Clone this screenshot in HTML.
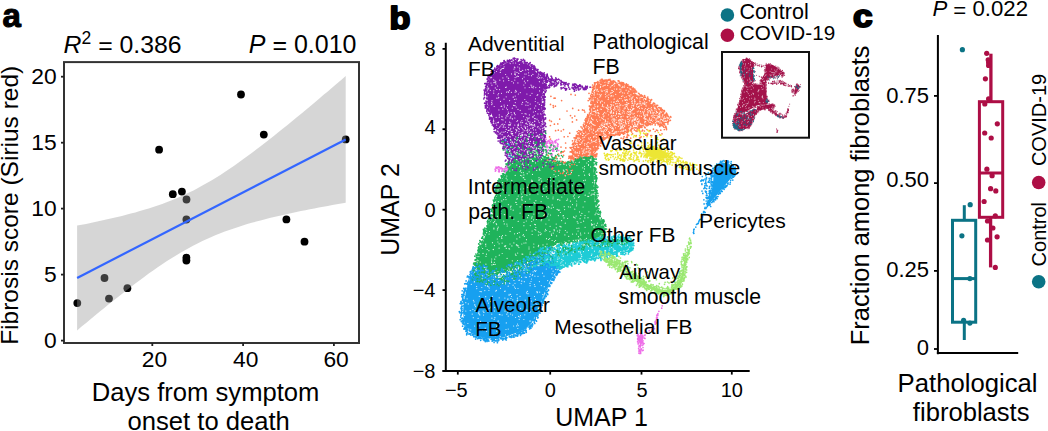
<!DOCTYPE html>
<html><head><meta charset="utf-8"><style>
html,body{margin:0;padding:0;background:#fff;}
body{width:1048px;height:431px;overflow:hidden;position:relative;}
svg{position:absolute;left:0;top:0;font-family:"Liberation Sans", sans-serif;}
</style></head><body>
<svg width="1048" height="431" viewBox="0 0 1048 431">
<text x="2.6" y="27.4" font-size="33" text-anchor="start" font-weight="bold" font-style="normal" fill="#000" stroke="#000" stroke-width="1.1" stroke-linejoin="round">a</text>
<text x="63.6" y="52.6" font-size="24.8"><tspan font-style="italic">R</tspan><tspan font-size="17.5" dy="-8.4">2</tspan><tspan dy="9.9"> =</tspan><tspan dy="-1.5"> 0.386</tspan></text>
<text x="356.5" y="52.6" font-size="25" text-anchor="end" font-weight="normal" font-style="normal" fill="#000" ><tspan font-style="italic">P</tspan><tspan dy="1.5"> =</tspan><tspan dy="-1.5"> 0.010</tspan></text>
<circle cx="77.3" cy="303.1" r="3.9" fill="#000"/>
<circle cx="104.5" cy="278" r="3.9" fill="#000"/>
<circle cx="109" cy="298.6" r="3.9" fill="#000"/>
<circle cx="127.4" cy="288.2" r="3.9" fill="#000"/>
<circle cx="159.1" cy="149.7" r="3.9" fill="#000"/>
<circle cx="172.8" cy="194.2" r="3.9" fill="#000"/>
<circle cx="181.9" cy="191.6" r="3.9" fill="#000"/>
<circle cx="186.5" cy="199.5" r="3.9" fill="#000"/>
<circle cx="186.4" cy="219.5" r="3.9" fill="#000"/>
<circle cx="186.4" cy="257.6" r="3.9" fill="#000"/>
<circle cx="186.4" cy="260.5" r="3.9" fill="#000"/>
<circle cx="241" cy="94.5" r="3.9" fill="#000"/>
<circle cx="263.8" cy="134.6" r="3.9" fill="#000"/>
<circle cx="286.4" cy="219.4" r="3.9" fill="#000"/>
<circle cx="304.5" cy="241.7" r="3.9" fill="#000"/>
<circle cx="345.7" cy="139.4" r="3.9" fill="#000"/>
<path d="M77.1,225.6 L81.6,224.8 L86.1,223.9 L90.5,223.0 L95.0,222.0 L99.5,221.1 L104.0,220.1 L108.4,219.1 L112.9,218.1 L117.4,217.0 L121.9,215.9 L126.3,214.8 L130.8,213.6 L135.3,212.4 L139.8,211.1 L144.2,209.8 L148.7,208.4 L153.2,207.0 L157.7,205.5 L162.2,203.9 L166.6,202.3 L171.1,200.5 L175.6,198.7 L180.1,196.8 L184.5,194.8 L189.0,192.6 L193.5,190.4 L198.0,188.1 L202.4,185.6 L206.9,183.1 L211.4,180.5 L215.9,177.7 L220.4,174.9 L224.8,172.0 L229.3,169.0 L233.8,165.9 L238.3,162.8 L242.7,159.6 L247.2,156.3 L251.7,153.0 L256.2,149.6 L260.6,146.2 L265.1,142.7 L269.6,139.2 L274.1,135.7 L278.6,132.1 L283.0,128.5 L287.5,124.9 L292.0,121.2 L296.5,117.6 L300.9,113.9 L305.4,110.2 L309.9,106.4 L314.4,102.7 L318.8,98.9 L323.3,95.1 L327.8,91.4 L332.3,87.6 L336.7,83.7 L341.2,79.9 L345.7,76.1 L345.7,202.7 L341.2,203.5 L336.7,204.3 L332.3,205.1 L327.8,205.9 L323.3,206.8 L318.8,207.6 L314.4,208.5 L309.9,209.3 L305.4,210.2 L300.9,211.1 L296.5,212.1 L292.0,213.0 L287.5,214.0 L283.0,215.0 L278.6,216.0 L274.1,217.0 L269.6,218.1 L265.1,219.2 L260.6,220.4 L256.2,221.6 L251.7,222.8 L247.2,224.1 L242.7,225.5 L238.3,226.9 L233.8,228.4 L229.3,229.9 L224.8,231.5 L220.4,233.2 L215.9,235.0 L211.4,236.9 L206.9,238.9 L202.4,241.0 L198.0,243.2 L193.5,245.5 L189.0,247.9 L184.5,250.4 L180.1,253.0 L175.6,255.7 L171.1,258.4 L166.6,261.3 L162.2,264.3 L157.7,267.3 L153.2,270.5 L148.7,273.6 L144.2,276.9 L139.8,280.2 L135.3,283.5 L130.8,286.9 L126.3,290.4 L121.9,293.9 L117.4,297.4 L112.9,301.0 L108.4,304.6 L104.0,308.2 L99.5,311.8 L95.0,315.5 L90.5,319.2 L86.1,322.9 L81.6,326.6 L77.1,330.4 Z" fill="#999999" fill-opacity="0.4"/>
<line x1="77.1" y1="278.0" x2="345.7" y2="139.40239999999997" stroke="#3366FF" stroke-width="2.2" />
<rect x="64" y="62.1" width="295" height="280.9" fill="none" stroke="#333" stroke-width="2"/>
<line x1="61" y1="76.7" x2="64" y2="76.7" stroke="#222" stroke-width="1.8" />
<text x="56.7" y="84.0" font-size="22.8" text-anchor="end" font-weight="normal" font-style="normal" fill="#000" >20</text>
<line x1="61" y1="142.7" x2="64" y2="142.7" stroke="#222" stroke-width="1.8" />
<text x="56.7" y="150.0" font-size="22.8" text-anchor="end" font-weight="normal" font-style="normal" fill="#000" >15</text>
<line x1="61" y1="208.6" x2="64" y2="208.6" stroke="#222" stroke-width="1.8" />
<text x="56.7" y="215.9" font-size="22.8" text-anchor="end" font-weight="normal" font-style="normal" fill="#000" >10</text>
<line x1="61" y1="274.6" x2="64" y2="274.6" stroke="#222" stroke-width="1.8" />
<text x="56.7" y="281.90000000000003" font-size="22.8" text-anchor="end" font-weight="normal" font-style="normal" fill="#000" >5</text>
<line x1="61" y1="340.6" x2="64" y2="340.6" stroke="#222" stroke-width="1.8" />
<text x="56.7" y="347.90000000000003" font-size="22.8" text-anchor="end" font-weight="normal" font-style="normal" fill="#000" >0</text>
<line x1="152.3" y1="343" x2="152.3" y2="346" stroke="#222" stroke-width="1.8" />
<text x="154.4" y="367.2" font-size="22.8" text-anchor="middle" font-weight="normal" font-style="normal" fill="#000" >20</text>
<line x1="243.1" y1="343" x2="243.1" y2="346" stroke="#222" stroke-width="1.8" />
<text x="245.79999999999998" y="367.2" font-size="22.8" text-anchor="middle" font-weight="normal" font-style="normal" fill="#000" >40</text>
<line x1="333.9" y1="343" x2="333.9" y2="346" stroke="#222" stroke-width="1.8" />
<text x="336.09999999999997" y="367.2" font-size="22.8" text-anchor="middle" font-weight="normal" font-style="normal" fill="#000" >60</text>
<text x="205.6" y="400.5" font-size="25.6" text-anchor="middle" font-weight="normal" font-style="normal" fill="#000" >Days from symptom</text>
<text x="208.7" y="430" font-size="25.6" text-anchor="middle" font-weight="normal" font-style="normal" fill="#000" >onset to death</text>
<text x="18" y="205.3" font-size="24.5" text-anchor="middle" font-weight="normal" font-style="normal" fill="#000" transform="rotate(-90 18 205.3)" dx="0">Fibrosis score (Sirius red)</text>
<text x="389.5" y="28.8" font-size="32" text-anchor="start" font-weight="bold" font-style="normal" fill="#000" stroke="#000" stroke-width="2" stroke-linejoin="round" transform="translate(389.5 0) scale(1.07 1) translate(-389.5 0)">b</text>
<path d="M561.6 100.6h0M575.3 95.1h0M570.5 115.6h0M550.4 125.5h0M549.6 120.4h0M550.9 96.3h0M565.8 147.9h0M553.2 105.6h0M572.2 117.8h0M589 93.3h0M584.1 110.3h0M554.1 98.2h0M561 147.1h0M555.6 130.7h0M574.8 116.1h0M571 94.4h0M550.5 104.4h0M576.6 119.9h0M561.2 131h0M567 111h0M558.3 130.2h0M578.6 110.2h0M589.2 98.3h0M565.6 143h0M554.4 124.2h0M549.6 136.8h0M584.8 112h0M577.2 131.6h0M572.4 121.9h0M567.9 136.5h0M550.5 139.1h0M582.5 109.9h0M564.2 136.8h0M555.1 98.2h0M550.5 143.8h0M553.4 107.3h0M564.4 151h0M551.4 121.4h0M559.7 119.1h0M563.1 151.9h0M588.2 100.6h0M555.4 106.2h0M557.8 123.9h0M572.7 108.4h0M563.5 129.6h0M569.7 133.2h0" stroke="#FF7B52" stroke-width="1.7" stroke-linecap="round" fill="none"/>
<path d="M639.1 128.8h0M649.8 124.5h0M642.6 130.2h0M660.3 124.7h0M621.1 138.2h0M662 133.8h0M628.1 135.1h0M645.9 135.2h0M659.8 134.6h0M631 130.8h0M632.6 133.8h0M666.5 129.6h0M666.4 128.2h0M660.8 130.2h0M651.7 135.6h0M656.5 130.1h0M628.7 135.4h0M636.2 135.6h0M639.5 138.1h0M655.2 124.9h0M627.1 136.1h0M637 131.3h0M641.1 136.8h0M660.2 125.6h0M631.7 132h0M626.4 137.5h0M637.2 129.8h0M640.4 137.6h0M644.4 131h0M655.2 131.5h0M635.8 130.8h0M647 135.3h0M657.5 130.6h0M647.3 134.9h0M664.3 129.5h0M649.8 130.6h0M644.9 133.8h0M642 131.1h0M665.8 126.4h0M627.5 134.2h0M652.1 124.4h0M630.7 138.2h0M639.4 130.3h0M645.1 127.8h0M655.1 122.3h0M646.9 129.5h0M650.3 130.7h0M623.1 138.7h0M640.5 137.5h0M659.8 126.4h0M627.3 137.6h0M647.7 133.9h0M653.4 129.2h0M623.5 138h0M650.8 135.6h0M624.1 136.6h0" stroke="#FF7B52" stroke-width="1.7" stroke-linecap="round" fill="none"/>
<path d="M630.7 143.4h0M646.2 133.4h0M650.1 144.6h0M638.7 129.5h0M649.1 131.5h0M630 130.8h0M640.5 132.8h0M658.4 132.5h0M648 130.4h0M657.3 137.5h0M635.6 136h0M660.8 135.2h0M647.8 142.9h0M643.7 136.6h0M641.7 142.8h0M656.3 139.1h0M644.2 133.6h0M630.8 141.1h0M638.2 130.1h0M631.4 143h0M662.8 139.7h0M639.3 131.6h0M639.7 135.7h0M634.3 135.5h0M638.5 145.3h0M637.8 145.3h0M640.4 133.8h0M647 136.6h0M636 136.6h0M628.2 132h0M631.6 134.6h0M640.2 131.4h0M651.4 137.1h0M658 139.5h0M656.6 143.7h0M643.6 133.2h0M657 139.2h0M629.8 142.9h0M663.7 138.9h0M657.4 142.4h0M633.6 137h0" stroke="#ECE634" stroke-width="1.7" stroke-linecap="round" fill="none"/>
<path d="M706.5 203.6h0M708.7 197.9h0M701.9 184.5h0M707.1 195.3h0M708 197.4h0M706.4 191.6h0M708.4 172.7h0M709.3 180.2h0M701.1 180.7h0M709.2 178.3h0M706.3 185.4h0M706.1 197.6h0M709.7 194.9h0M708.2 173.1h0M702 180.2h0M709.4 182.3h0M701 180.8h0M708.5 197.9h0M708.6 181.7h0M706.6 188.7h0M706 174.8h0M711.3 178h0M705.8 180.8h0M702.8 193.4h0M702 191.1h0M712 175.3h0M710.4 190.5h0M705.8 182.2h0M701.9 183.9h0M704.1 203.9h0M710.6 174.8h0M711.4 181.7h0M704.8 185.8h0M704.7 187.3h0M703.3 180.7h0M706.5 177.7h0M704.8 208.5h0M709.3 188.2h0M709.5 196h0M711.7 175.1h0M706.1 183.8h0M703.9 199.8h0M708.3 182.1h0M707.1 185.9h0M702.3 176.5h0M706.4 178.9h0M705.8 175.6h0M703.2 180.4h0M709.5 186.6h0M705.3 191.1h0M704.9 183.6h0M701 181.2h0M712.2 175.1h0M706.4 195.4h0M710.9 178.7h0M703.6 180h0M705.2 188h0M705.1 207.4h0M706.7 197.5h0M708.2 200.8h0M705.9 192.2h0M708.2 182.2h0M701.8 180.1h0M708.1 198.2h0M706.7 193.5h0M705 179h0M703.9 188.6h0M703.1 180h0" stroke="#17A0F0" stroke-width="1.7" stroke-linecap="round" fill="none"/>
<path d="M545.6 137.4h0M548.5 149.8h0M547.3 141.9h0M551 154.6h0M544.4 137.6h0M546.1 145h0M551.2 140.8h0M553 151h0M548.6 140.9h0M548.4 140.6h0M544.3 144.9h0M551 155h0M543.2 144.5h0M543.1 138h0M552 156h0M551 144.2h0M546.6 143.3h0M543.5 137.1h0M545.2 143.7h0M546.3 152.6h0M553.3 145.2h0M543.9 143.9h0M547.2 152.4h0M541.5 138.2h0M552.2 154.1h0M546.1 142.2h0" stroke="#EE6FE8" stroke-width="1.7" stroke-linecap="round" fill="none"/>
<path d="M513.8,61.1 505.3,63.5 496.5,70.5 489.5,79.3 487.1,89.7 487.8,104 493.3,118.5 500.6,137 506.2,148 506.3,148.2 509.7,156.9 516.1,161 526.5,161 537.6,158.4 540.6,152 542,141.3 542.5,126.7 541.5,111.9 541.5,111.7 542,96.9 542,96.7 542,96.6 544,87.8 544,80.4 542.9,77.8 536.5,72.5 536.4,72.4 536.2,72.3 532,67 524.2,62.5 513.8,61.1Z" fill="#7F1AAB" />
<path d="M545.4 123.7h0M542.7 125.6h0M543.5 76.7h0M534 65.5h0M500.2 66h0M489.2 110.9h0M485.5 88.7h0M490.7 77.4h0M543.6 97.2h0M499.9 141.1h0M490 110h0M535.5 161.6h0M495.8 70.6h0M543.4 98.9h0M537.6 69.7h0M516.2 61.3h0M515 160.5h0M542.7 74.8h0M487.2 94.9h0M490.4 114.4h0M544.1 136.3h0M497.7 68.3h0M545.9 80.4h0M526.3 162.9h0M505.6 147h0M541.7 111.2h0M507.7 152.6h0M493 73.8h0M495.7 126h0M508.3 60.6h0M492.2 122.3h0M542.2 103.5h0M494.9 127.8h0M514.9 162.5h0M489.5 119.1h0M509.7 159.6h0M496.6 131h0M506.1 63h0M544.3 114h0M543.5 149.4h0M542 141.8h0M498.2 141h0M541.9 142.6h0M495.8 131.9h0M505 150.2h0M516 162.5h0M486.1 89.4h0M543.1 122.8h0M542.3 123.2h0M542.9 105.3h0M483.8 98.8h0M530.6 66h0M544.6 141.9h0M499.5 138.2h0M516.8 59.1h0M544.7 140h0M536.4 161.2h0M512.8 159.5h0M541.9 154.9h0M525.1 163.6h0M530 62.9h0M515.1 58.6h0M542.3 108.5h0M518 59.1h0M546.1 81.1h0M494.8 68h0M492.5 118.9h0M508.7 158.8h0M544.1 125.5h0M545 88h0M490.8 121.3h0M502.2 140.5h0M487 98.9h0M515.4 161.2h0M492.4 119.2h0M545.5 79h0M543 140.7h0M524.5 61.5h0M490.8 73.9h0M489.4 75.4h0M543.7 149.5h0M546.3 88.4h0M537.4 70.7h0M500.6 140.5h0M490 117.8h0M502.3 64h0M542.3 140.8h0M485.5 90.6h0M486 83.4h0M531.8 66.2h0M501.3 66.6h0M544.7 102.8h0M543.6 131.8h0M486.8 95.7h0M544 95h0M492.2 117.9h0M504.7 145.2h0M486.8 87.3h0M542.9 126.7h0M495 126h0M538.1 157.3h0M541.9 74.7h0M545.1 109h0M505.3 152.8h0M490.4 76.4h0M499.5 67.2h0M490.3 112.5h0M545.6 117.9h0M521.4 61.6h0M544.2 130.7h0M486.8 93.4h0M544.1 93.8h0M543.1 120.1h0M488.1 76.3h0M520.8 163.8h0M487.3 109.4h0M530.8 161.2h0M486.7 101.8h0M513.2 58.4h0M543.3 118h0M493.1 72.4h0M533 66.6h0M533.4 162.8h0M532.3 66.6h0M486.8 111.3h0M544.3 96.5h0M544.6 124.8h0M489.3 75.2h0M542.9 94.7h0M500.2 64.4h0M528 163.3h0M495.9 69.5h0M543.5 114.2h0M536.3 70.2h0M507.2 61.7h0M543.3 77.7h0M509.1 61.3h0M539.8 72.7h0M486.2 89.9h0M542.9 117.1h0M486.2 90.9h0M486.7 103.9h0M524.6 62.2h0M543.1 117.7h0M537.6 72.7h0M534.1 159.9h0M537.8 73.4h0M537 70.1h0M522 161.7h0M525.8 62.3h0M499.1 137.3h0M502.4 64.4h0M491.5 119.5h0M504.6 148.1h0M496.2 70.7h0M529.3 63.6h0M498.9 136.4h0M506 148.4h0M489.5 116.8h0M507.5 157.5h0M511.9 160.6h0M542.1 110.8h0M492.3 120.5h0M520.6 62h0M540.2 74.5h0M503.3 62.7h0M544.5 78.3h0M545.8 85.8h0M506.6 156.3h0M525 161.7h0M487.2 101.7h0M541.6 154.2h0M500.9 64.2h0M527 162.5h0M528.6 64.7h0M486.8 105.2h0M493.6 125.4h0M506.1 154.3h0M542.4 143h0M542 98.3h0M530.2 62.7h0M497.2 129.7h0M543.7 126.1h0M541 156.1h0M522.5 162.9h0M542.5 147.6h0M543.8 139.5h0M540.8 156.6h0M527.9 161.7h0M488.8 79.9h0M545.9 126.6h0M502.7 63.8h0M500.8 140.2h0M543.8 94h0M487.6 81h0M539.7 161.1h0M543.2 106.8h0M530.7 65h0M496.3 128.7h0M544.6 137.1h0M541.8 76.6h0M484.4 97.4h0M492.6 71.7h0M545.4 86h0M544.4 101.1h0M545.5 79.3h0M544.4 119.4h0M514.4 58.8h0M528.9 161.6h0M500.1 142.6h0M543.6 117.6h0M498 67h0M529.7 160.7h0M490.7 111.8h0M533.5 68.4h0M487.5 98.8h0M486.2 88.1h0M499.9 137.1h0M541.1 154.8h0M513.8 160.5h0M545.1 92.3h0M537.7 71.4h0M540.3 72h0M544.2 137.5h0M499.2 67.8h0M535.3 160.2h0M545.5 132.3h0M542.3 116.6h0M544.6 104.8h0M488.5 77.8h0M511.6 162.3h0M528.7 161.6h0M543 100.4h0M494.8 69.4h0M484.6 91.9h0M506.6 153.8h0M543.6 126.1h0M506.6 155.8h0M504.6 145.9h0M486.7 85.5h0M521.9 162.7h0M494.7 122.9h0M526.8 161.9h0M542.6 117.6h0M492.2 75.9h0M509.6 160.9h0M541.9 142.7h0M543.6 138.9h0M533.6 68h0M489.3 110.4h0M507.1 156.5h0M509.1 159.8h0M527.3 62.7h0M495 71.7h0M536.1 69.9h0M543.6 108.2h0M493.9 71.7h0M492.1 120h0M544.8 131.1h0M486.1 103.1h0M546.2 90.8h0M528.4 64.2h0M493.2 73.1h0M488.9 108.6h0M543.2 122.3h0M542.3 133.4h0M493.1 124.6h0M489.4 111.3h0M543.9 145.1h0M520.7 162.6h0M535.2 69.1h0M503.9 62.7h0M506 151.6h0M542.3 142h0M526.7 161.6h0M503.9 60.8h0M506.6 154.6h0M507.5 61h0M500.5 141h0M514.2 163.8h0M486.5 98.1h0M535.1 68.2h0M499.9 138.4h0M488.8 106.9h0M501.4 66h0M545.3 96.9h0M504.3 148.4h0M545.6 130.8h0M494.2 126.8h0M522.9 60.5h0M484.6 93.4h0M542 151.1h0M543.4 144.7h0M539.2 72.4h0M542.9 108h0M545.1 77.4h0M499.1 66h0M499.4 66.2h0M509.8 157.7h0M507 152.3h0M496.3 126.5h0M485.7 105.5h0M510.1 60.6h0M529.3 63.7h0M497.4 65.7h0M488.8 78h0M544.6 101.1h0M490.4 112h0M504.4 148.8h0M545.6 81.6h0M543.1 144.9h0M543.5 97.1h0M544.1 141.1h0M491.2 71.6h0M487.9 105.9h0M528.5 161.5h0M543.5 118.3h0M542.6 118.2h0M530.4 161.8h0M497.7 133.2h0M545.2 141.3h0M545 83.7h0M540.4 74.4h0M488.4 83.6h0M484.9 93.8h0M543.4 108.7h0M543 126.2h0M544.6 125.5h0M487.4 113.1h0M507.7 156.4h0M498.1 133.2h0M514.9 60.9h0M544.2 87.6h0M496.8 69.5h0M543.3 153h0M495.5 124.7h0M485.6 86.6h0M534.8 67.3h0M543.8 93.5h0M543.2 104.4h0M509.9 159.4h0M510.2 60.7h0M543 109.4h0M496.6 68.4h0M543 127.1h0M504 63.2h0M541.2 147.5h0M545.1 92.4h0M541.7 112.7h0M500.9 141.6h0M487.4 85h0M505.2 61.9h0M489.5 78.4h0M492.2 122.1h0M491.6 74.7h0M539.3 156.6h0M488.4 78h0M506.7 152.4h0M538.4 73h0M542.3 147.7h0M545.3 135.6h0M545.5 80.9h0M500.8 63h0M485.5 107.4h0M530.8 163.5h0M544.7 85.5h0M544.6 84.5h0M498.4 133.6h0M516.8 163.2h0M543.1 104.5h0M521.3 163.1h0M543.6 129.4h0M485.3 103.6h0M500.1 141.4h0M515.6 60.9h0M535.7 68.7h0M517.6 59h0M541.9 145.1h0M534.6 70h0M520.8 163.8h0M541.7 106.4h0M539.4 154.9h0M507.8 158.3h0M488.6 80.6h0M544.7 99.7h0M497.3 133.8h0M519.4 162h0M520.5 161.2h0M534.7 69.6h0M503.1 147.2h0M499.7 137.5h0M516 161.7h0M486.3 85.4h0M524.5 161.8h0M544.2 83.8h0M544.1 109.7h0M543.4 139.5h0M485.2 105.8h0M542 115.9h0M543.3 150.6h0M488.6 107.1h0M541.8 110.2h0M500.3 140.5h0M484.4 95h0M546.3 86.9h0M546.5 78h0M534.5 159.5h0M486.9 92.4h0M513 160.6h0M495.3 71.3h0M544.7 97.3h0M540 159.2h0M496.6 127h0M488.1 109.6h0M502.8 143.8h0M544.3 99.3h0M497.2 132.9h0M494.2 131.6h0M545 88.9h0M505 145.9h0M488.9 115.3h0M545.5 79.3h0M487.1 79.1h0M516.7 61.4h0M542 105h0M490.3 113.2h0M542.3 122.7h0M487 102.1h0M488.4 107.9h0M515.1 161.4h0M531.8 64.8h0M545.5 119h0M546.2 79.2h0M487 108.7h0M506.4 154.8h0M487.2 83.9h0M507.4 151.9h0M488.2 77.3h0M543.4 127.3h0M514.9 60.5h0M491.1 112.8h0M544.2 94h0M535.7 69.3h0M517.2 60.2h0M533.7 69h0M544.3 105.4h0M546.2 84.3h0M536.4 161h0M541.5 154h0M503.3 146.6h0M518.3 163.3h0M543.1 124.4h0M505.1 148.5h0M538 69.6h0M500.3 142.6h0M495.4 124.9h0M521.8 162.4h0M543.8 128.5h0M544.9 122.7h0M491 117.4h0M534.6 161.6h0M509.8 59.9h0M484.8 83.6h0M544.1 95h0M486.5 86.2h0M491.5 123h0M540.6 152.8h0M492.1 74.9h0M523.3 59.4h0M504.4 144.8h0M507.5 154.3h0M523.8 162.6h0M542.2 76.1h0M507.4 60.3h0M542.1 153.9h0M544.3 75.5h0M540.2 155.4h0M527.3 161.3h0M541.2 151.6h0M513 159.9h0M544.1 134.9h0M486.6 93h0M493.6 125.8h0M491.8 75.8h0M541.1 72.9h0M541.5 148.9h0M543.6 90.4h0M543.7 97.6h0M493.9 126.4h0M525.8 163.3h0M520 61.6h0M542.7 75.8h0M491.8 121.4h0M544.4 77.8h0M486.6 94.7h0M511.9 60.2h0M497.7 137.9h0M492.7 119.7h0M494.1 129.2h0M543.3 131.9h0M542.6 96.6h0M543.7 132h0M511.7 60.1h0M500.9 137.6h0M509.6 159.5h0M540.9 72.6h0M491 120.9h0M543.8 145.5h0M542.9 97.7h0M546.3 79.9h0M498.2 135.4h0M536.7 158.8h0M528.9 64.1h0M516.1 161.6h0M489.6 118.1h0M487.5 81.9h0M492.4 122.9h0M543.1 129.3h0M498.4 136.2h0M539.9 73.6h0M541.7 147.2h0M491.4 118.7h0M543.6 120.9h0M495.5 132.8h0M522.2 162.1h0M542.8 103.8h0M542.2 145.7h0M489.9 76.7h0M498.1 67.7h0M496.8 66.6h0M486.2 101.4h0M485.4 108h0M543.8 134.7h0M526.3 63.1h0M492.3 125h0M535.2 159.6h0M542.2 103.6h0M542.9 143.2h0M543.8 141.3h0M498.8 137.2h0M544.5 137.9h0M521.1 161.6h0M494.2 122.1h0M505.3 155.2h0M488.6 111h0M484.1 90.1h0M544.5 86.8h0M489.6 118h0M545.1 124.1h0M487 97.9h0M508.7 156.6h0M542.8 135h0M542.6 150.2h0M542.6 145.6h0M502 143.6h0M535 161.5h0M492.6 75.4h0M489.5 113.7h0M504.7 145.6h0M486.5 105.7h0M542.6 116.7h0M545.2 136.9h0M490.1 110.5h0M507.6 61.1h0M539.9 155.3h0M520.6 161.9h0M540.9 152.6h0M485.6 89.8h0M545.4 92.5h0M544.2 125.5h0M542.6 137.4h0M501.1 143.5h0M524.7 60.3h0M546.4 77.7h0M499.6 135.2h0M492.1 75.6h0M498.3 66.2h0M541.3 147.2h0M543.5 141.5h0M491.5 76h0M498.8 67.3h0M493.7 70.2h0M542.6 114.6h0M491 121.8h0M539.1 73.7h0M544.8 78.8h0M485.2 93.9h0M541.8 115.8h0M545.2 131.8h0M508.2 62.3h0M493.6 126.2h0M501.9 66h0M544.1 107.3h0M539.3 157.3h0M543.2 115.7h0M544.3 95.1h0M542.8 118.7h0M499.8 67.6h0M524.4 62.1h0M542.6 107.6h0M543.5 141.5h0M545.4 84h0M544.7 88.8h0M487 93.2h0M505.1 62h0M512.6 159.9h0M487.2 79.2h0M495.1 128.2h0M527.6 162h0M516 164.1h0M484.6 103.2h0M544.1 103.4h0M514.3 58.2h0M502.7 62.8h0M545.3 80.7h0M543.8 111.8h0M526.5 162.3h0M504.2 60.7h0M544 76.8h0M502 63.8h0M544.3 109.2h0M546.2 80.9h0M545 114.9h0M545.9 87.5h0M544.1 142.4h0M504.2 144.6h0M542.9 128.1h0M542.8 118.3h0M512 60h0M540.6 156h0M495.6 127.3h0M543.4 128.1h0M503.6 146h0M532.1 64.9h0M534.7 66.7h0M502.8 65h0M542.7 141.3h0M502.4 62.9h0M539.7 155h0M511.8 160.1h0M537.8 159.9h0M486.9 103.1h0M520.9 164.5h0M538.4 73.9h0M499.9 136.6h0M533.7 66.8h0M498.2 138.1h0M543.8 103.1h0M496.9 133.9h0M540.9 157.4h0M538.2 159.9h0M544.4 88.6h0M527.2 161.6h0M486 101h0M542.8 141.3h0M486.9 110h0M494.7 124.8h0M521.4 61.1h0M523.6 162.6h0M542.6 109.6h0M509.3 60.6h0M542.9 143.8h0M515.8 61h0M545.4 84.4h0M541.7 75.6h0M495.6 127.7h0M488.8 113.7h0M547.2 82.1h0M502.8 143.2h0M503.7 62.3h0M534.8 67.9h0M545.2 108.4h0M525.3 62.9h0M486.5 84.2h0M521.1 59.5h0M504.4 144.6h0M535.1 159.6h0M541.8 112.9h0M495.8 126.6h0M488.2 81.6h0M489.8 77.5h0M486.8 101.6h0M502 63.2h0M507.7 154.4h0M514.2 59.7h0M545 91.4h0M542.3 112.7h0M492.4 73.7h0M542.9 134.4h0M501.5 66.3h0M490.2 119h0M509.7 60.2h0M510 61.7h0M542.4 155.5h0M544.4 76.2h0M486.2 107.2h0M545.5 89h0M502.8 148.6h0M498.1 133.4h0M497.1 129.8h0M491.4 119.8h0" stroke="#7F1AAB" stroke-width="1.7" stroke-linecap="round" fill="none"/>
<path d="M549.8 85.3h0M542.9 74.1h0M556.5 84.6h0M573.1 85.4h0M549 80.8h0M541.5 73h0M575.9 84.4h0M542.3 79.7h0M547.6 80.9h0M582.8 87.4h0M552 83.1h0M556.5 82.3h0M561.4 81.7h0M549.4 81.1h0M546.5 75.1h0M575.8 87.7h0M562.7 88h0M562.3 82.2h0M578.7 89h0M545.2 78.8h0M549.7 87h0M569.5 89.1h0M558.7 82h0M583.4 89.5h0M553.3 83.4h0M544.3 79.1h0M582.1 87.7h0M547.1 87.5h0M574.1 89.5h0M556.5 85.6h0M549.5 81h0M546.4 85h0M552.3 78.6h0M582 86.4h0M580.3 85.3h0M583.6 88.7h0M577.4 86h0M544.7 74.8h0M543.4 74.1h0M585 87.7h0M561.8 84.5h0M564.9 85.9h0M549.4 87.5h0M556.6 79.3h0M585.7 86.3h0M577.1 87.4h0M566.7 88.6h0M548.9 85.5h0M576.2 90.1h0M561.1 80.6h0M577.6 86.5h0M555.8 77.9h0M567.9 84.8h0M557.1 83h0M561.2 84.7h0M542.5 74.3h0M556.9 84.4h0M575.9 88.2h0M558.1 83.5h0M548.9 79.2h0M552.4 85h0M565.7 84.2h0M553.7 84.5h0M555.8 81.3h0M550.9 79.4h0M585.8 88.7h0M543.1 74.6h0M580.3 88.9h0M581.9 86.8h0M554.9 83.2h0M563.7 83.1h0M550.9 81.1h0M575.3 86.5h0M584.9 87.9h0M565.8 89.4h0M579.7 84.9h0M574.4 85.5h0M561.1 87.5h0M550.6 82.2h0M578.4 85.9h0M580.2 86.7h0M561.2 88.8h0M551.9 78.7h0M547.2 74.2h0M554 79.6h0M565.6 90.1h0M546.2 76.7h0M585.6 87.4h0M566.5 89.6h0M540.9 72.3h0M574.6 86.8h0M551.7 83.9h0M572.6 85h0M563.9 84.5h0M573.3 84.5h0M574.4 91.2h0M550.3 79.2h0M569.9 89.1h0M565.7 84h0M572.1 87.4h0M559.6 80h0M551.4 85.6h0M573.3 88.8h0M543 81h0M563.2 82.4h0M546 82.5h0M578.3 89.6h0M563.4 87.5h0M555.9 79.5h0M542.8 79.7h0M545.9 84.8h0M551.1 76.2h0M563.2 82.3h0M550.9 79.9h0M586.4 87h0M550 84.5h0M542.9 81.9h0M584.8 89.4h0M555.3 85.9h0M582.2 86.3h0M551.7 84.7h0M566.1 82.7h0M561.2 82.7h0M572.2 88h0M551.7 83.2h0M554.4 81.6h0M550.1 83h0M574.6 84.2h0M555.7 79.9h0M542.3 73.1h0M553.6 80.5h0M577.9 87h0M578.1 87.4h0M585.6 86.4h0M580.5 85.4h0M554.8 85.2h0M547.5 87.8h0M568.8 87.3h0M586.1 89.3h0M564.9 82.8h0M560.7 83.3h0M561.1 81.3h0M564.8 88.4h0M548.3 77.5h0M547.1 86.8h0M590.1 87.2h0M548.1 78.2h0M567.4 84.2h0M547.7 76.6h0M584.6 89.6h0M549.6 79h0M573.8 87.8h0M544.2 81.4h0M565.6 88.5h0M541.4 74.7h0M552.5 80h0M552.1 79h0M545.5 78.5h0M551.8 77.2h0M544.2 72.9h0M546.7 79.9h0M546.7 82.3h0M548.9 87.7h0M566.4 89.7h0M564.6 82.7h0M574.9 83.9h0M578.1 88h0M551.7 81h0M550.6 81.9h0M546.8 75h0M578.9 86.1h0M576.8 85.3h0M568.9 83.7h0M564.2 83.6h0M548.7 85.6h0M542.5 74.5h0M555.3 81.1h0M577.4 87.6h0M568.2 85.7h0M558.5 79.2h0M587.3 86.4h0M587.3 88h0M560.9 84.9h0M574.5 89.3h0M557 79.7h0M554.2 86.7h0M547.4 75.3h0M578.8 89.9h0M573 84h0" stroke="#7F1AAB" stroke-width="1.7" stroke-linecap="round" fill="none"/>
<path d="M595.6,85.4 594,97.4 594,97.4 592.1,108.5 592,108.7 588.3,121.7 588.3,121.9 588.2,122.1 588.1,122.3 579.7,135.2 575.3,143 572.3,155.9 577.2,157.8 585.8,155.2 586,155.1 586.2,155.1 586.4,155.1 586.6,155.1 592.8,155.9 593.8,154.3 595,147.6 595.1,147.5 595.1,147.3 595.2,147.1 595.3,146.9 600.3,138.9 600.4,138.8 600.5,138.6 600.7,138.5 600.8,138.4 600.9,138.3 601.1,138.2 609.1,134.2 609.3,134.1 609.5,134.1 618.1,132.1 627.1,129.3 636.4,125.6 636.5,125.6 636.7,125.5 645.8,123.8 655,120.1 655.2,120.1 655.4,120 655.6,120 655.8,120 656,120 656.2,120.1 656.4,120.1 656.6,120.2 664,123.8 666.8,122.4 667.5,118.6 665.3,114.9 660,110.6 652.6,105 645.3,99.5 637.9,94.9 637.9,94.9 626.9,87.6 618,84 609.2,82.2 600.5,83.1 595.6,85.4Z" fill="#FF7B52" />
<path d="M589.4 113.1h0M648.1 101.2h0M644.6 97.3h0M663.6 110.5h0M637.3 128.5h0M591.9 156h0M593.9 87.5h0M622.8 82.5h0M648.3 124.7h0M592.6 94.7h0M574.2 143.5h0M619.1 81.2h0M585.2 126.1h0M586.3 156.5h0M653.3 103.5h0M595.6 150.6h0M602.6 138.9h0M575 140.2h0M658.2 124.7h0M658.7 107.7h0M572.7 150.7h0M619.2 83h0M605.9 81.8h0M623.3 132.4h0M615 132.9h0M661 110.8h0M596.7 149.8h0M589.9 106.1h0M571.4 147.6h0M588.9 117.3h0M590.5 157h0M622.4 132.7h0M659.5 123.9h0M650.5 122.9h0M663.4 112.3h0M595.3 154.3h0M593 158.4h0M603.4 140.1h0M617.5 134.7h0M576.7 159.8h0M660.4 125.2h0M575.1 143.4h0M588.8 156.1h0M590.7 156.5h0M592.7 156.3h0M572.9 157.3h0M610.1 80.3h0M619 132.9h0M592 107.2h0M607.9 135.2h0M619 132.4h0M608.4 135.3h0M591.3 101.1h0M614.3 81.9h0M641.2 96h0M595.4 156.2h0M577.2 136h0M656.9 121.9h0M627.5 129.7h0M636.7 92h0M606.9 135.6h0M598.7 145.8h0M647.5 123.4h0M606.8 81.8h0M665.6 127.3h0M588.3 158.8h0M569 156.4h0M592.2 101.2h0M599.1 144.2h0M592.9 157.3h0M628.4 129.9h0M582.4 158.1h0M606.3 137.7h0M660.1 123.2h0M570.8 151.9h0M577.4 139.1h0M592.4 105.5h0M598.8 145.2h0M571.9 152.2h0M623.4 84.7h0M586.3 118.7h0M590.9 103.4h0M593.5 158.9h0M579.1 136.3h0M570.1 156h0M572.3 157.9h0M613 81.9h0M628.1 87.1h0M648.5 123h0M573.8 160h0M613.4 135.2h0M604.5 137h0M584.1 123h0M657.6 123h0M638.1 125.3h0M573.4 146.1h0M641.3 126h0M585 120h0M597.4 82.5h0M654.2 103.7h0M591.9 101.8h0M633.3 88.2h0M595.6 149.6h0M639.6 128.1h0M631.4 86.6h0M618.1 133.9h0M575.7 159.6h0M587 121.6h0M596.6 149.2h0M661.2 109.6h0M596 154.8h0M591.3 103.5h0M663.7 123.7h0M656.5 120.6h0M631.3 88.7h0M610.3 82h0M598.5 142.4h0M632.1 89.3h0M659.2 122h0M647.5 99.6h0M585.9 124.7h0M622.9 83.9h0M633.3 127.9h0M651.3 121.6h0M580.5 131.3h0M590.3 109.5h0M656.5 107.2h0M656.1 107.4h0M654.5 105.8h0M625.5 130.3h0M591.6 99h0M670.4 120.3h0M594.4 86.2h0M655.5 123h0M655.2 106.2h0M577.5 136.6h0M603.3 139.3h0M642.8 124.6h0M589.3 106.1h0M589.3 115.2h0M570.8 156.5h0M571 158.9h0M590.3 110.4h0M575.5 159.4h0M590.7 110.6h0M597.9 81.7h0M592.1 156.3h0M657.1 123h0M579.6 158.8h0M588.7 117.8h0M657.6 105.3h0M578.8 157.6h0M593.1 87.4h0M590.9 102.3h0M631.9 90.7h0M641.9 127.4h0M627.1 132h0M590.3 107.7h0M601.6 139.4h0M608.4 80.3h0M627.3 87.4h0M587.3 155.8h0M585.5 124.2h0M589 155.8h0M594.4 88.3h0M665.8 114.3h0M611.9 134.6h0M596.4 82.5h0M601.2 82.2h0M643.8 124.6h0M664 124.1h0M652.7 105h0M610.3 135.1h0M572.4 157.2h0M571.7 158.3h0M657.8 123.3h0M591.8 107.1h0M610.4 80.6h0M661.1 111.4h0M626.2 132.1h0M660.3 108.7h0M595.7 156.9h0M584.5 126.5h0M573 147.4h0M652.5 104.4h0M663 123.6h0M591.9 156.6h0M578.8 132.8h0M593.5 86.5h0M624 84.5h0M643.6 125.1h0M635.1 92.5h0M654.3 103.5h0M607.2 137.1h0M606.7 81.1h0M587.5 155.5h0M591.9 107.3h0M571.9 149.8h0M620.2 134.2h0M600.9 142.1h0M573.8 144.2h0M620.7 84.1h0M621.8 85.2h0M627 132.2h0M572.7 152.3h0M625.2 130h0M600.8 142.5h0M634.8 91.6h0M592.6 90.5h0M575.4 158.9h0M572.9 143.6h0M580 134.3h0M663.6 113.1h0M624.8 131.1h0M601.1 139.3h0M640.9 96.4h0M593.1 102.4h0M619.4 132h0M611.2 135.7h0M593 95.7h0M592.4 91.3h0M612.3 135.1h0M623.6 83.1h0M638.3 127.7h0M578.5 158.6h0M609.5 136.4h0M590.1 115.3h0M628.9 86.7h0M607.4 81.9h0M649.6 123.6h0M627 85.9h0M661.9 109.4h0M595.7 147.7h0M579.9 131.1h0M614.7 81.4h0M668.3 116.6h0M601.7 141.2h0M608.8 79.6h0M579.5 133.2h0M641 127.1h0M597.6 83.5h0M572.1 157.8h0M604.9 80.1h0M592.1 92.1h0M610.5 81.8h0M651.4 121.9h0M624.4 131.5h0M607.8 135.2h0M631.8 128.6h0M665.7 115.3h0M588.9 157h0M601 143.5h0M573.8 147.9h0M653.7 121.6h0M670.4 116.5h0M572.4 144.5h0M661.9 124.7h0M573.1 147.2h0M627.9 84.7h0M577.3 138.8h0M586.1 156.1h0M615 133.6h0M641.8 97.1h0M603.4 139.4h0M585.7 121.2h0M587.9 117.3h0M667.6 115.2h0M576 137.2h0M585.4 157.1h0M644.7 127.2h0M595.1 84h0M572.2 158.6h0M668.2 116.3h0M640.9 95h0M658.8 123.6h0M661.8 109.3h0M667.6 121.9h0M576.3 135.3h0M574.5 146h0M583.4 124.8h0M647.9 125.3h0M585.1 158h0M661.3 123.3h0M602.3 79.3h0M593.2 89.2h0M594 154.8h0M640.9 94.8h0M602.6 81.4h0M593.7 155h0M600.2 80.3h0M596.7 145.1h0M601.6 143.5h0M633.1 89.6h0M634.5 90.9h0M574.8 138h0M594.1 152.7h0M598.4 148.4h0M598.9 142.4h0M666.6 113.5h0M650.8 100.4h0M592.2 96.5h0M626.3 83.9h0M621.9 83.2h0M628.7 130h0M650.3 102.3h0M590.1 112.6h0M576.1 158.8h0M577.2 135.5h0M592.3 103.9h0M633.6 91.9h0M668 122.5h0M593.7 95.8h0M645.4 123.9h0M570 157.5h0M667 114.1h0M570.6 156.4h0M663.6 112.5h0M584.2 126h0M626.6 87.1h0M636 91h0M574.9 159.6h0M602.4 80.3h0M573.5 149.4h0M667.3 116.5h0M593 158.2h0M640.8 126.6h0M663.9 127.2h0M667.9 124h0M634.4 129.9h0M596.6 149.6h0M609.7 80h0M626.2 85.2h0M666.6 116.4h0M630.8 87.4h0M641.2 125.8h0M630.6 86.9h0M590.8 112.1h0M645.5 124.6h0M634.7 89.2h0M647 123.9h0M668.8 121.1h0M592.3 106.6h0M647 100.1h0M607.3 135.4h0M570.9 148.2h0M641.7 95.4h0M573 157.2h0M581 126.8h0M626.4 86.4h0M665.3 114.9h0M595.4 151.6h0M581.9 131.6h0M670.9 117.1h0M571.2 158.6h0M664.4 110.5h0M614.7 81.4h0M601.9 82.8h0M587.8 114.7h0M647.1 98.5h0M659.7 124.7h0M592.6 156.6h0M635.1 90.2h0M572.2 150.8h0M647.7 99.9h0M663.1 126.1h0M627.7 85.7h0M595.2 148.4h0M639.8 127.3h0M650.6 124.6h0M630.8 128.7h0M591.2 96.3h0M650.1 102.3h0M606.7 136.8h0M574.1 137.8h0M626.5 87h0M608.1 137.8h0M664.8 125h0M618.1 80.8h0M630.8 130.3h0M606.4 80.1h0M633.9 89.2h0M593.7 156.3h0M602.5 137.7h0M607.2 80.2h0M595.6 156.9h0M621 83h0M573 156.9h0M621.4 132.8h0M650.3 122.4h0M585.8 123.1h0M627.4 129.6h0M650.9 122.4h0M597 149.8h0M614.6 82.9h0M573.5 151h0M578 159.1h0M580.8 131.3h0M662.3 109.7h0M636.2 127.6h0M628.3 131.2h0M580.7 132.9h0M589.7 157.3h0M592 156.9h0M660.9 110.7h0M572.8 153.7h0M637.8 126h0M612.5 81.3h0M641.9 125.7h0M668.1 119.5h0M575.5 158.9h0M643.4 97.3h0M650 124.1h0M630.7 87.6h0M669.4 118h0M588.2 116.1h0M604.5 81.2h0M666.4 113.2h0M590.8 98.2h0M661.2 108.1h0M656.5 105.4h0M576.3 160.4h0M587.7 115.5h0M628.9 88.4h0M588 119h0M606.9 135.5h0M625.3 85.8h0M600.6 145.9h0M593.6 96.2h0M643.1 125.8h0M619.6 82.8h0M634.4 90.9h0M608.4 134.6h0M663 112.6h0M653 123.1h0M591.5 101.5h0M592.9 97.5h0M577.6 158.8h0M601 141.2h0M626.9 86.6h0M592.5 99h0M633.3 91.5h0M662.3 125.6h0M619.1 135.1h0M589 119.4h0M583.5 126.4h0M592 96.8h0M570 156.6h0M623.7 132.7h0M582.2 128.2h0M613.5 80.8h0M663.8 124.3h0M614.7 132.9h0M597.6 84.5h0M586.2 156.2h0M596.6 156h0M573.1 159.1h0M583.1 129.9h0M587.2 120.6h0M585.9 122.2h0M600.1 80.8h0M627.4 132.2h0M661.9 110.6h0M571 157.9h0M623.3 85.9h0M592.8 89.4h0M595.1 82.9h0M577.9 160.9h0M588.7 155.9h0M624.7 133.4h0M650.7 100.4h0M592.9 90.4h0M611.3 136.4h0M621.1 82.3h0M616.9 132.4h0M579.7 133.4h0M596.9 153.7h0M595.2 149.5h0M594.7 155.7h0M640.2 126h0M591.9 109.1h0M653.3 103.8h0M655.2 122h0M654.6 120.8h0M606.4 136.5h0M586.2 124.4h0M635.6 127.9h0M593.5 157.3h0M589.7 109.4h0M624.1 84.1h0M622 132.5h0M574.1 146.9h0M649 99.5h0M589.2 157.3h0M579.2 133.2h0M660 122.8h0M654.6 106.3h0M579.1 135.2h0M604.8 139.3h0M592.1 87.4h0M644.6 95.7h0M638.7 93.5h0M572.8 151.9h0M586.5 120.3h0M627.8 131.2h0M602.6 81.1h0M586.2 157.8h0M573.9 157.9h0M635 91.2h0M575.7 138.5h0M656.5 120.9h0M573.2 143.2h0M615.3 82.4h0M629 87h0M588 158h0M578.2 159.5h0M599.1 144.5h0M572.2 158.1h0M593.5 99.2h0M588.7 155.9h0M627.7 131.1h0M592.5 101.5h0M575.5 159.2h0M580.7 133h0M660.9 125.6h0M618.7 83.3h0M592.8 103.4h0M607.4 136.9h0M590.5 111.6h0M646.1 124.5h0M614.7 82.7h0M590.1 157.4h0M627.8 130.1h0M604.2 136.7h0M609.4 135h0M597.7 145.6h0M655.7 121h0M591.1 96.7h0M588.9 117.6h0M603.9 136.9h0M660.7 124h0M590.2 158.1h0M580.8 157.8h0M616.2 134.3h0M570.1 147.6h0M639.2 126.1h0M589.4 159h0M584.4 126.1h0M568.8 158.3h0M662.3 123.1h0M585.7 157.6h0M612.2 81.3h0M613.1 82.2h0M646.1 125.1h0M603.7 139.5h0M639.6 125.3h0M606.9 80.6h0M585.5 126.2h0M653.5 103.2h0M594.6 84.1h0M593.8 89.3h0M594.7 150.1h0M594.6 92h0M605.8 80.1h0M584.5 127.4h0M626.6 129.9h0M593.8 94h0M648.1 98.9h0M588.3 155.9h0M659.8 107.6h0M578.8 130.5h0M603.8 138.6h0M591.2 107.1h0M617.7 132.3h0M603.2 139.2h0M597.9 143.1h0M631.9 128.7h0M586.9 156h0M638.6 93.5h0M618.4 80.9h0M584.6 156h0M621.4 131.8h0M650.5 102h0M640.3 125.4h0M590.7 95.7h0M577.9 136h0M642.7 96.3h0M660.6 109.8h0M572.1 155.7h0M596.8 154.5h0M600.8 143.5h0M581.9 157h0M587.7 119.1h0M623.4 134.2h0M588.9 116.9h0M615.6 135h0M577.9 133.4h0M640.2 95.8h0M573.8 159.3h0M622.2 83.7h0M585.7 120.7h0M572.8 158.4h0M601.4 79.3h0M592.6 85h0M594.6 85.7h0M639.3 127.5h0M570.2 151.9h0M597.8 148.3h0M598.7 83h0M584.1 158.1h0M616.5 134.2h0M589.6 158.3h0M598 144.8h0M587.6 117.5h0M619.5 83.5h0M598.4 142.6h0M642.7 96.2h0M586.6 155.7h0M603.6 82.2h0M572.5 140.8h0M586.2 155.4h0M631.1 129.5h0M619.7 135.1h0M593.4 92.5h0M639 93.7h0M574.7 141.8h0M597.4 144.4h0M633.6 91.9h0M586.9 157.6h0M646.8 125.7h0M619.5 134.6h0M657.1 108.3h0M596.2 148.1h0M585.8 118.6h0M591.5 156.4h0M601.9 138.9h0M569.2 157.9h0M632.7 128.1h0M576.3 137h0M609.1 135.1h0M622.5 132h0M629.1 86.3h0M587.2 156.4h0M572.5 153h0M661.9 124h0M595.7 148.3h0M590 114.1h0M601.9 80.8h0M587.1 116.9h0M584.2 125.5h0M592.7 92.1h0M579.3 158.5h0M649.7 123.5h0M579.4 157.5h0M576.9 137.7h0M613.6 134.6h0M644.8 127.2h0M646.5 100.3h0M615.8 134h0M586.9 156h0M587.7 115.9h0M631.4 129.7h0M645.5 97.3h0M610 79.4h0M619.8 132.7h0M617.3 133h0M634.7 127.7h0M626.3 129.9h0M594.6 155.4h0M616.9 83.1h0M625.6 84.9h0M570.4 157.3h0M625.9 131.1h0M585.8 157.4h0M654.2 123h0M613.2 82.4h0M604 136.8h0M586.1 121.5h0M608.4 80.1h0M608.2 80.1h0M654.9 104h0M641.6 97.2h0M661.9 111.5h0M610.4 134.6h0M591.4 94.1h0M651.6 99.7h0M605.6 138.2h0M597.5 146.9h0M647.8 97.1h0M639.2 94.5h0M650.4 124.2h0M589.8 99.7h0M591.4 107.1h0M664.5 111.3h0M590.6 106.9h0M656.8 120.9h0M633.6 91.2h0M638.8 94.2h0M606 137.9h0M652.3 122.5h0M585.1 155.9h0M594.1 88.1h0M625.9 86.3h0M594.5 82.8h0M631.9 88h0M603.2 80.7h0M630.5 87.3h0M668.6 119.9h0M655.3 122.4h0M611.8 81.4h0M574.2 146.9h0M587.6 118h0M630.6 128.5h0M611.6 82.3h0M611.2 82.6h0M614.4 135.5h0M579 158.6h0M652.2 122.7h0M613 81h0M581.9 156.5h0M593.4 156.2h0M649.1 102.1h0M626.9 86.5h0M571.3 151.9h0M662.6 112.6h0M622.1 133.2h0M600.2 82.3h0M591.6 106.1h0M571.7 156.8h0M667.1 122.2h0M603.6 80.5h0M590.2 108.3h0M637.9 128.2h0M586.7 123.6h0" stroke="#FF7B52" stroke-width="1.7" stroke-linecap="round" fill="none"/>
<path d="M609.1 133.6h0M611.4 95.5h0M595.3 115h0M638.9 121.6h0M594.4 111.4h0M618.8 120.2h0M585.9 126.9h0M626 106.2h0M664.5 116.9h0M597.8 112.8h0M610.8 104.5h0M623.9 111.4h0M628.1 114.6h0M620.8 117.1h0M620.9 116.5h0M612.2 131.7h0M607.5 91.9h0M641.6 105.1h0M622.6 100.8h0M591.6 140.7h0M624.1 87.4h0M622.6 92.8h0M600.6 86.4h0M604 115.9h0M588.1 146.9h0M589.4 154.8h0M594.9 136.2h0M619.6 98.5h0M573.6 150h0M621.7 121.4h0M586.9 146.6h0M611 96.6h0M596 142.4h0M613.1 95.9h0M596 89.7h0M616.8 88.8h0M596.6 119.9h0M583.2 153h0M641.8 97.4h0M618.5 101.5h0M588.3 142.3h0M618.4 120.8h0M583.3 151.9h0M593.2 141.4h0M605.3 85.1h0M590.4 122.3h0M608.9 126.9h0M637.2 94.8h0M600.8 128.6h0M600.5 102.8h0M584.3 149h0M616.7 89.3h0M616.8 122.3h0M604.4 112.3h0M628.9 125.3h0M615.7 103.7h0M593.6 130.3h0M603.8 106.8h0M611.1 116.8h0M626.3 104.3h0M619.8 105.8h0M593.4 99.8h0M645.8 114.9h0M623 105.6h0M631.4 99.2h0M626.7 99.9h0M610.9 112.8h0M650.2 122.4h0M592.8 124.4h0M627.7 93.2h0M613.9 120.3h0M614.3 99h0M580.7 157h0M578.2 138.7h0M611.5 112.2h0M642.4 97.5h0M614.1 99.2h0M598.3 115.6h0M582.4 132.1h0M619.4 113.6h0M638.3 121.8h0M589.2 150.3h0M635.8 125h0M600.4 101.8h0M634.7 100.9h0M635 101.2h0M639.9 98.8h0M645.4 108.5h0M655.3 108.5h0M619.9 89.2h0M617.9 100.1h0M603.7 119.4h0M611.6 115.5h0M654.4 108.3h0M632 105.4h0M626.1 90.2h0M590.8 149.1h0M602.2 125.7h0M626.2 123.5h0M666.5 121.1h0M588.3 155.4h0M611.3 111.7h0M595.1 106.7h0M630 119h0M604.4 124.3h0M656.1 109.8h0M600.4 87.4h0M614.2 119.4h0M621.8 119.1h0M588.5 128.5h0M605.9 113h0M603.4 131.5h0M579.6 151.9h0M638.7 111.1h0M611.4 111.7h0M601.9 100.9h0M622.7 127.8h0M588.3 151.9h0M619.3 103.7h0M597 90.7h0M592.2 119.4h0M577.2 152.3h0M597.5 110.4h0M597.8 110.3h0M604.2 90.6h0M630.5 109.3h0M633.8 93.4h0M614.1 123h0M597.5 121.5h0M607.7 85.4h0M621.4 116.7h0M608.1 118.8h0M633 117.2h0M651.4 107.5h0M614.3 110h0M643.1 104h0M578.8 147.3h0M580.4 133.7h0M645.6 119.1h0M593.4 108.1h0M585.6 127h0M598.9 131h0M601.3 124.7h0M595 125.4h0M645.5 99.6h0M610.4 125.3h0M602.6 118.6h0M598 106.1h0M636.8 93.9h0M605.8 121.5h0M582.8 137.9h0M616.5 117.6h0M590 122h0M654.1 112.3h0M591.9 142.2h0M584.6 145.1h0M626.8 102.4h0M665 118.6h0M610.4 93.1h0M632 121.9h0M607 95.9h0M633.1 114.1h0M650.1 120.5h0M620.9 123.9h0M606.3 127.7h0M590 143.2h0M588.8 129.2h0M608.7 131.5h0M606.8 108.2h0M628.7 91h0M576.2 141.7h0M596.2 112.9h0M602.5 105.6h0M579.4 138.2h0M656.9 112.4h0M630.8 126.4h0M642.3 124.3h0M613.7 118.9h0M616.7 132.9h0M605.4 94.5h0M590 115.8h0M620.8 128.7h0M643.1 103.2h0M579.3 153.3h0M613.6 112.3h0M573.8 150h0M620.3 119.3h0M638.1 118.6h0M586.5 125.5h0M597.8 129.7h0M580.5 144.5h0M662.1 116.9h0M619.7 107.9h0M649.6 110.8h0M611.3 92.8h0M577.5 152.8h0M582 142.9h0M589.2 139.2h0M609.7 132.7h0M626 106.1h0M656.1 118.2h0M610.9 108.2h0M632.6 100.9h0M599.8 97.1h0M595.6 112.2h0M601.4 117.8h0M595.2 97.5h0M605.2 121.8h0M613.6 102.2h0M658.9 114.2h0M583.3 133.3h0M590 152.1h0M645 121.4h0M620.4 126h0M647.7 115h0M629.6 99.1h0M621.5 96.3h0M634.5 99.6h0M583.1 135.2h0M665.1 118.6h0M584.1 137.3h0M600.9 84.4h0M598.4 91.3h0M600.4 127.8h0M645.1 103.1h0M612.3 90.7h0M613.6 113.3h0M634.5 119.3h0M613.3 115.6h0M601.5 109.3h0M599.1 138.9h0M614.3 86h0M647.2 115.7h0M575.2 151.6h0M614.5 108.2h0M604.1 85.4h0M613.4 129.9h0M591.2 129.6h0M620.1 86h0M603.8 133.8h0M650.9 108.8h0M608.9 94.8h0M607.7 108.6h0M626.2 99.5h0M624.8 125.1h0M597.5 102.5h0M640.7 101.8h0M619.7 92.3h0M607.8 123.4h0M622.3 87.5h0M611.8 104.9h0M634.5 119.8h0M633 96.7h0M588.7 152.1h0M574.7 147.2h0M657.9 117.9h0M656 113.6h0M598.3 112.5h0M628.9 91.6h0M616.4 111.8h0M590.3 121.1h0M629.6 120.7h0M630.3 128.4h0M604 123h0M659.6 113.3h0M654.8 110h0M617.1 103.6h0M645.3 116.3h0M602.1 101.3h0M612.7 119h0M655.9 119.8h0M621.7 123.3h0M662.9 120.1h0M633.3 108.3h0M637.6 107.3h0M628.5 112.1h0M621 90h0M588.7 119h0M607.6 109h0M602.1 123.1h0M629 95.4h0M620.1 128.9h0M594.3 92.7h0M627.4 117.3h0M615.7 94.4h0M583.9 150h0M646.1 106.1h0M597.2 101.1h0M588.6 138.1h0M617.9 106.2h0M603.9 135.5h0M622.8 95.9h0M660.2 111.8h0M595.4 110.8h0M607.5 105.8h0M657.7 115.8h0M593.1 119.9h0M657.6 112.5h0M601.3 131.6h0M658.8 114.2h0M615 133h0M612.2 116.8h0M621.1 98.6h0M633.5 105.8h0M620.1 120.5h0M614.7 133.4h0M630.9 94.8h0M585.8 135.6h0M598.8 100.2h0M654.1 107.1h0M631.4 110.5h0M606.1 107.3h0M648.8 108.4h0M628.1 119.4h0M645.2 119h0M665.4 120.9h0M664 121.6h0M622.3 125.1h0M582.3 151h0M634 108.7h0M614.3 118.9h0M602.3 91.1h0M619.8 85.2h0M618.1 131.6h0M616.5 113.4h0M595.7 140.7h0M611.7 126.8h0M628.8 103.6h0M653.3 117h0M607.5 128.9h0M644.6 101.9h0M593.4 146.8h0M614.5 83h0M577.5 144.8h0M586.2 148.9h0M597.3 106.8h0M633.4 125.7h0M597.5 130.2h0M600.3 95.5h0M615.5 127.8h0M578.1 140.1h0M608 83.1h0M605.9 92.9h0M613.2 113.2h0M661.6 119.3h0M599.7 137.1h0M633.9 126.3h0M642.6 111.8h0M629.3 111.7h0M605.4 134.8h0M644.7 104.4h0M635.6 118.3h0M582.4 141.2h0M586.8 148.7h0M623 119.9h0M645.7 121.7h0M607.6 105h0M627.7 87.5h0M597.6 98.8h0M660 117h0M620.8 104.9h0M660.5 111.9h0M651.8 119.1h0M591.2 113.9h0M597.5 109.9h0M616.3 106.4h0M603.3 116.8h0M588.8 148.3h0M627.2 104h0M611.8 120h0M586.7 144.2h0M589.5 130.8h0M622.8 86.4h0M598.7 113.7h0M621.4 131h0M599.7 128.5h0M644.6 119h0M633.7 126.7h0M650.2 120.2h0M610.5 107.1h0M648.9 110.7h0M604.2 126.7h0M639.1 106.6h0M593.5 152.1h0M606 91.1h0M589.4 127.7h0M658.3 116.3h0M635.9 93.4h0M608.6 114.8h0M599.6 126.6h0M601.2 90.1h0M575.5 145.5h0M586 151.9h0M590.4 137.7h0M632.2 103.1h0M593.7 124.9h0M615.8 109h0M630.6 112h0M611.4 110.5h0M656 115.5h0M623.6 127.8h0M575.3 147.6h0M576.4 144.6h0M608.7 83.2h0M615.6 131.9h0M647.2 109.7h0M618.6 84.3h0M599.9 134.6h0M616.3 125.4h0M629.7 114.1h0M632.5 109.2h0M594.7 141.4h0M611.8 90.3h0M618.3 109.9h0M604.3 130.5h0M593.5 136.5h0M612.7 127.8h0M627.9 93h0M615.4 124.9h0M622.5 126.3h0M628 116.7h0M601.2 94.7h0M636.5 106.1h0M602.6 104.6h0M650.2 111.2h0M620.9 91.7h0M638.3 122.8h0M615.7 103.8h0M613.5 91.5h0M577.9 147.2h0M593.2 111.5h0M608.2 107.2h0M593.9 124.9h0M625.8 130.2h0M629.8 115.8h0M646.7 102.6h0M620.5 127.9h0M584.8 153.2h0M591.5 118.5h0M596.4 139.8h0M610.1 112.1h0M589.8 153.2h0M616.4 131.5h0M644.3 115.3h0M613.6 123.9h0M639.7 115.9h0M666 118h0M631.2 98.5h0M637.9 103.8h0M624.8 99.9h0M620.4 105h0M613.8 84.3h0M651.7 109.9h0M617.3 101h0M590.4 113.3h0M582.5 135.5h0M640.2 97.3h0M579.5 140.8h0M583.9 150.7h0M619.8 113.5h0M594.9 104.8h0M645.9 118.7h0M608.7 109.5h0M596.4 137.2h0M607.5 89.8h0M660.1 120.9h0M632.3 124.1h0M591.6 121.7h0M596 131.5h0M583.9 140.1h0M592.1 132.1h0M610.5 127.3h0M623.9 111.6h0M624.6 126.4h0M584.7 137h0M634.9 118.1h0M606.3 135.9h0M656.2 119h0M632.5 97.9h0M659.1 116.4h0M577.7 138.2h0M631.6 107.2h0M627.4 100.1h0M649.5 118.1h0M612.3 131.6h0M624.3 93.1h0M606.5 130.3h0M587.3 146h0M577.2 142.4h0M581.8 148.7h0M604.7 134.1h0M619.6 111.6h0M594.3 108.4h0M640.7 123.7h0M617.2 106h0M600.1 120.1h0M614.5 102h0M591.4 117.9h0M598.3 128.7h0M607.7 111.2h0M614.7 107h0M590.3 155.2h0M591.5 112h0M666.9 117h0M599.2 94.3h0M607.9 111h0M612.5 85.3h0M586.9 151.8h0M621.9 87.7h0M615.2 124h0M603.6 113.7h0M639.2 120h0M605.3 119.9h0M588.3 126.7h0M591.4 139.9h0M631.2 97.8h0M597.7 106.2h0M619.9 109.9h0M584.8 143.6h0M596.7 134.3h0M605.9 129h0M640.8 124.4h0M607.8 121.9h0M649.4 119.2h0M593.2 133.5h0M640.5 111.4h0M588.4 146.6h0M632.2 120.1h0M618.9 85.1h0M610.3 87.1h0M606.1 89.6h0M625.6 121.2h0M602.3 106.4h0M590.1 148.6h0M626.7 106.4h0M573.7 155.9h0M599 113.7h0M591.4 122.8h0M602.5 136.5h0M612.4 122h0M589.7 123.6h0M662.5 120.6h0M592.9 114.6h0M591 128.1h0M611.1 95.6h0M614.7 124.3h0M641.4 116.3h0M637.3 98.2h0M621.2 128.7h0M629.8 96.3h0M637.8 124.9h0M641.7 108h0M602.2 131.2h0M611.7 85.8h0M630.8 111.4h0M580.7 134.2h0M599.4 128.8h0M659.4 117.4h0M580.6 139.4h0M593.3 129.1h0M610.9 113.4h0M653.1 116.9h0M638.5 94.7h0M643.4 99.8h0M635 101.7h0M616.4 101.3h0M646 105h0M596.1 111h0M578.3 155.6h0M607 91.4h0M623.3 125.1h0M647.2 114.2h0M591.6 109.9h0M597.6 106.6h0M600.7 96.1h0M624.7 97.6h0M582.5 153.8h0M581.2 142.8h0M631.9 103.1h0M625.1 104.7h0M605.5 96.8h0M577.6 147h0M617.9 107.8h0M595.8 89.1h0M626.3 96.8h0M610.1 107.2h0M608.5 97.7h0M602.7 125.1h0M601.1 128.7h0M611.4 106.1h0M615.2 115.7h0M608.2 99.4h0M604.4 102.8h0M588.8 133.6h0M575 152.7h0M603 86.2h0M625.5 108.1h0M596 134.6h0M605.5 120.6h0M600.3 109.1h0M597 130.8h0M613.6 109.6h0M658.1 116.8h0M579.8 144.4h0M601.8 91.5h0M623.3 127.9h0M651.4 115.9h0M619.3 114.1h0M638.4 106.9h0M595.6 131.9h0M613.2 128.6h0M633 117.6h0M607.4 124.8h0M625.5 121.2h0M652.8 117.2h0M597.3 94h0M634.6 116.2h0M652.3 112.9h0M585.7 132h0M591.1 126.1h0M614.6 83.4h0M627.2 105.1h0M647.2 114.4h0M599.5 137.6h0M614.4 89h0M590.1 152.7h0M636.5 97.6h0M612.4 92.5h0M593.6 137.2h0M637.6 123.9h0M630.7 111.4h0M635.1 125.1h0M626.2 124h0M624.1 108.9h0M624.8 107.8h0M653.6 112.9h0M631.6 101.3h0M632.7 103.3h0M628.3 103.5h0M604.2 129.9h0M606.5 123.8h0M591.9 123.4h0M587.7 142.8h0M584 133.5h0M616.4 114.1h0M587.1 134.1h0M597 90.9h0M599.5 117h0M625.5 100.4h0M576.8 142.7h0M594.1 94.9h0M621.9 123.2h0M594.6 104.8h0M613.4 105.2h0M599.2 139.4h0M610.5 109.1h0M628 121.6h0M652.2 110.8h0M611.3 102h0M597.5 89.3h0M602.9 114.6h0M576 153h0M639.7 101.2h0" stroke="#fff" stroke-width="1.2" stroke-linecap="round" fill="none" stroke-opacity="0.85"/>
<path d="M662.8 114.5h0M665.8 121.4h0M603.5 126.3h0M620.7 114.4h0M624.3 113.1h0M615.9 119.9h0M637.4 119.1h0M633 120h0M646 119.5h0M654.5 117.7h0M631.9 113.1h0M605.1 131.7h0M619.7 119.6h0M605.6 127.3h0M643.5 113.8h0M605.4 136.4h0M647.5 109.3h0M630.7 126.9h0M659.8 115h0M629.9 127.8h0M644.4 103.8h0M659.7 122.9h0M621.8 127.2h0M621 120.5h0M639.5 108.3h0M643.9 118.2h0M640 123.3h0M637.5 115.7h0M627 113.1h0M637 104.2h0M618.6 113.7h0M625.5 122.4h0M656.9 121.2h0M663.7 118.2h0M661.3 123h0M608.4 126.5h0M627.5 107.9h0M625.1 120h0M601 130.2h0M653.2 114h0M630.2 111.9h0M637.4 119.4h0M616.3 122.6h0M644.8 122.7h0M613.9 133.7h0M635.1 119.9h0M644.2 111.5h0M604.4 126.7h0M610 123.6h0M637.3 124.3h0M621.3 126.7h0M632.1 120.9h0M643.7 112.7h0M639.3 103.2h0M625.5 122.9h0M633.1 120.9h0M637.3 111.8h0M622.3 112.8h0M619.8 123.2h0M648.7 121.1h0M642.9 103.1h0M644.1 124.8h0M622.9 110.6h0M621.7 127.5h0M664.1 118.7h0M628.7 123.4h0M623.1 131.3h0M625.5 129.8h0M647.7 120.1h0M643.8 114.9h0M635.6 119.4h0M639.9 123.1h0M609.7 132.6h0M656.6 121.8h0M623.7 122.5h0M644.6 109.9h0M627.1 116.7h0M651.4 120.4h0M628.8 109.7h0M634.5 122.6h0M604.2 124.9h0M656.6 111.6h0M623.1 116.1h0M606.6 127.5h0M656.3 111.5h0M654.3 115.3h0M628.8 122h0M655.5 122.5h0M634.8 124.8h0M619.9 121.8h0M642.2 108.6h0M650.7 113.2h0M618.4 126.4h0M636.6 121.1h0M614.3 132.2h0M628.1 109.1h0M659.8 116.1h0M663.2 119.9h0M609.3 123.1h0M644.6 117.9h0M624 130.1h0M647.9 111.7h0M612.4 130.3h0M633.1 109.3h0M659.9 113.7h0M603.4 132.9h0M614.4 121.2h0M601.1 125.8h0M628.7 114.5h0M638.5 106.5h0M612.9 122h0M633.9 119.1h0M648.1 112.7h0M641 113h0M652.8 115.6h0M622.3 113h0M661.3 112.2h0M606 129.3h0M630.5 114.2h0M633.3 105.8h0M634.2 113.3h0M611.8 128.6h0M640 105h0M636.7 104.4h0M654.9 107.9h0M632.2 110.2h0M633.8 126.7h0M618.4 116.4h0M634.9 122.8h0M612.7 128.2h0M606 123.4h0M634.9 103.3h0M636.1 117.7h0M657.9 117.8h0M664.2 121.2h0M662.7 115.7h0M658.4 121.3h0M630.8 117.7h0M634.8 101.8h0M634 104.8h0M660.6 119.2h0M659.4 113h0M634.8 120.4h0M637.6 121.8h0M604.4 136.4h0M650.5 112.2h0M618.8 123.1h0M614.3 125.7h0M619.9 124.9h0M635 123.9h0M627.6 111.5h0M602.5 127.7h0M622.7 119.5h0M637.3 103.8h0M606.1 124.6h0M640.7 103.6h0M644.5 116.9h0M639 121h0" stroke="#fff" stroke-width="1.2" stroke-linecap="round" fill="none" stroke-opacity="0.85"/>
<path d="M645.4 154.7h0M604.9 155.3h0M648.7 145.8h0M653.3 157.9h0M663 152.9h0M636.8 155.7h0M663.2 159.1h0M639.2 161.3h0M677 161.2h0M636.9 159.7h0M627 149.6h0M670.4 156h0M634 155.8h0M675.1 162.6h0M624.2 150.3h0M660.4 147.5h0M680.5 163.7h0M630.1 157.6h0M673 162.4h0M668.7 159.8h0M650.7 160.3h0M633.6 150h0M610 154.5h0M658.7 152.5h0M652.3 153.3h0M624.1 153.2h0M690.1 164.5h0M671 151.8h0M639.1 153.4h0M664.7 161.4h0M662.3 157.5h0M636.7 159.1h0M676.3 163.2h0M643.6 151.4h0M698.9 170.5h0M674.6 156.1h0M666.2 161.7h0M667.8 159.3h0M639 161.3h0M687.9 166.1h0M625 157.4h0M613.2 156.6h0M672.9 159.4h0M624.3 161.2h0M645.9 154.7h0M648.8 147.3h0M651.1 147.7h0M663.1 161.4h0M624.1 157.3h0M696.4 165h0M660.7 160.5h0M654.1 158.8h0M679 164.4h0M658.8 159.1h0M620.9 150.1h0M671.3 155.1h0M615.2 154.1h0M648.4 147.3h0M622.3 159.3h0M643 153.8h0M641.5 155.2h0M631.6 154.2h0M681.9 158.3h0M686.9 169.3h0M642.3 147.9h0M653.7 154.3h0M622.9 160.8h0M630.8 154.3h0M624.5 154h0M619.7 155.3h0M636.5 151.9h0M663.9 160.1h0M648.1 147.9h0M679.1 156.9h0M651.1 158.2h0M628.8 158h0M626.3 150.6h0M661.3 152.5h0M688.8 167.7h0M650.4 158.9h0M676.7 157h0M606.3 159.7h0M619.9 149.4h0M620.6 149.1h0M659.2 160.6h0M680.5 161.1h0M627.7 154.7h0M671.4 157.6h0M694.9 164.6h0M621.6 155h0M641 156.7h0M623.9 155.8h0M610.6 157.4h0M692.8 163.3h0M609.3 159.5h0M659.6 150.5h0M624.3 155.4h0M682.4 166.7h0M624.2 155h0M623.9 149.2h0M652.5 151.4h0M625.9 158.6h0M670.4 158.1h0M641.1 156.4h0M637.7 157.1h0M636.3 155.1h0M621.1 156.8h0M643.4 161.1h0M678.8 160.4h0M644.4 155.6h0M626.3 151.5h0M667.1 153.4h0M606.1 155h0M641.6 147h0M631.1 156.3h0M657 161.7h0M610.7 150.8h0M628.8 152h0M650.1 160.5h0M625.4 153.6h0M670.6 152.4h0M672.3 152.6h0M621.2 159.6h0M675.4 156.8h0M653.1 157.5h0M619.7 148.7h0M634.7 160.6h0M664.6 147.8h0M634.1 156h0M638.3 157h0M690.1 169.9h0M634.1 161.5h0M666.8 162.5h0M663.6 159.5h0M685.9 161.9h0M647 153.1h0M674.4 153.6h0M634.6 153.7h0M686.3 163.5h0M676.3 166.3h0M625.6 153.4h0M686.3 169.1h0M636 160h0M611.1 151.4h0M623.4 153h0M688.4 167.6h0M691 169.8h0M646.5 153.9h0M634.5 147.5h0M608.1 158.4h0M673.6 153.6h0M685.5 167.2h0M665.3 150.9h0M643.2 149.3h0M620.3 160.4h0M661.7 162.4h0M663 154.8h0M656.5 148.1h0M646.7 154.4h0M687 163.2h0M633.5 157.8h0M628.1 152h0M687 162.3h0M608.8 154.5h0M650.9 151.4h0M607.5 154.6h0M696.9 165.1h0M670.3 158.1h0M627.9 160.1h0M649.8 154.1h0M667.6 163.6h0M652.4 153.9h0M650.6 162.2h0M631.3 159.1h0M617.8 152.5h0M680.1 157.9h0M607 156.2h0M649.5 155.7h0M653.9 148.4h0M678.2 158.7h0M671.2 159.5h0M641.2 153.5h0M646.6 148.6h0M674.3 153.7h0M679.4 167.3h0M630 159.2h0M670 159.6h0M607.4 153.8h0M678.5 161.8h0M658.4 152.6h0M622.8 152.9h0M644.9 149.1h0M625.7 155.7h0M634.5 152.6h0M667.8 158.8h0M664.1 161.1h0M683.2 161.2h0M679.7 166.3h0M675.2 162.5h0M687.3 166.9h0M638.8 148.5h0M647.7 161.3h0M635.1 153.1h0M617.8 153.1h0M661.3 157.5h0M614.4 159h0M655.5 155h0M632.1 146.9h0M624 150.8h0M653 161.1h0M660.4 159.7h0M626.1 153.5h0M623.7 156.3h0M646.9 156.6h0M605.3 158.3h0M620.3 158.5h0M670.7 161.7h0M619.9 155.2h0M623.3 159h0M606.4 154.7h0M631.3 153.7h0M646.1 155.2h0M651.1 155.4h0M666.9 160h0M696.8 169.2h0M660.3 157h0M672.1 165.1h0M677.4 160.4h0M653.1 159.7h0M638.7 159.4h0M639.6 152.1h0M618 156.2h0M615.7 150.3h0M636.9 157.7h0M621.8 149h0M685.2 162.9h0M692.1 165.2h0M651.4 149.6h0M666.2 156h0M683.8 168.4h0M672.4 154.5h0M618 157.9h0M613 154.5h0M650.4 158.6h0M682.8 162.1h0M607.3 155.5h0M613 156.5h0M633.6 152.4h0M640.4 152.5h0M680.4 167.3h0M608.4 160.2h0M616.8 159.5h0M617.7 154h0M690.1 163.2h0M648.2 160.6h0M669.1 157.6h0M639.7 149.5h0M666.7 153.9h0M648.1 155.2h0M660.6 149.3h0M668.3 161.6h0M688.5 167.8h0M671.4 152.6h0M666.1 153.1h0M678.5 160h0M682.7 164.9h0M639.9 149.7h0M619.7 155.2h0M650.2 153h0M604.3 153.4h0M670.2 160.2h0M605.5 157h0M663.6 149.4h0M635.9 153.7h0M629.8 151.4h0M631 155.9h0M681.8 168h0M638 159.3h0M667.6 150.4h0M648.2 145.5h0M668.9 153.5h0M641.8 145.3h0M628.1 153.5h0M643.9 156.9h0M615.6 157.3h0M683.3 166.3h0M644.9 146.2h0M653.5 146.5h0M672.6 153.7h0M619.4 149.8h0M633.2 159.7h0M681.9 167.1h0M641.3 155.9h0M646.4 151h0M667.2 161.1h0M690.9 165.6h0M655.8 156.7h0M652.3 152.1h0M661 157.7h0M611.3 154.9h0M677.3 159.2h0M700 168.8h0M624.1 160.1h0M669.8 164h0M683.7 162.3h0M606.8 154.3h0M624.7 155.8h0M683.2 162.7h0M646.4 151.2h0M693.3 165h0M630.2 155.2h0M669.3 156h0M691.4 168.2h0M626 155.5h0M612.2 150.5h0M645.8 160.4h0M670.8 162.1h0M625 148.8h0M681.2 162.6h0M619.8 158.5h0M667.1 150h0M668.8 157.1h0M669.5 157.9h0M668.2 157.4h0M632.5 146.5h0M618.2 157.1h0M622.6 160.7h0M670.1 162.3h0M672.7 157.6h0M655.8 148.2h0M646.2 154.4h0M680 165.2h0M646 157.5h0M646.8 148h0M655.6 153.7h0M645.7 149.3h0M657.4 154.5h0M649.7 158.2h0M688.2 169.5h0M652.6 152h0M648.1 162h0M625.9 152h0M694.8 167.3h0M693.1 170.5h0M624.8 160.3h0M616.7 150.7h0M666.5 159.4h0M651.4 160.1h0M667.7 164.3h0M652 158.5h0M657.8 156.4h0M692.8 169.4h0M647 154h0M639.4 153.5h0M650.3 148.5h0M670.1 162.5h0M661 163.2h0" stroke="#ECE634" stroke-width="1.7" stroke-linecap="round" fill="none"/>
<path d="M646.9,149.8 646.1,154 651.4,157.6 659.1,159 666.5,158.5 668.7,156 665.4,151.8 659.7,149 652.1,148.5 646.9,149.8Z" fill="#ECE634" />
<path d="M647.2 157.7h0M655.8 158.7h0M647.2 155.8h0M661.8 160.2h0M657.6 159.6h0M654.1 158.3h0M651.8 146.3h0M650.3 158.6h0M652.6 147.8h0M657.6 161.2h0M651.6 159.3h0M650 148.4h0M649.1 149.2h0M650.8 160.5h0M663.3 149.3h0M669.8 153.7h0M648.2 147.7h0M653.6 160.8h0M648 149.4h0M666.5 161.5h0M666.6 159.4h0M646.2 156.1h0M648.3 147.2h0M648 148.5h0M662.3 148.6h0M648.4 155.9h0M647.6 149.6h0M645.2 155.8h0M646.1 150.7h0M669.5 156.8h0M667.7 153.1h0M660.7 160h0M662.9 159.2h0M664.4 148.7h0M659.3 148.5h0M667.5 153.5h0M646.8 155.2h0M651.7 148h0M645.7 154.9h0M653.6 147h0M654.7 158.4h0M658.5 145.4h0M652.6 159.1h0M650.7 148.1h0M649.3 148.7h0M657.7 147.8h0M661.2 159.5h0M652 147.1h0M644.9 153h0M668.5 155.4h0M652.8 147.6h0M654 148.5h0M668.3 154.3h0M668.5 151.5h0M658.9 160.7h0M657.5 159.4h0M670.8 156.1h0M653.8 158.9h0M649.6 147.7h0M661.4 159.6h0M671.8 155.7h0M669 156.1h0M652 147.9h0M652 146.6h0M660.1 159.4h0M656.3 148h0M659.2 161.9h0M660.8 147.7h0M651.6 147.1h0M662.8 149.2h0M650.9 158.7h0M665.1 150.9h0M655.5 145.8h0M669.6 157h0M651.7 148.5h0" stroke="#ECE634" stroke-width="1.7" stroke-linecap="round" fill="none"/>
<path d="M508.8,165.5 505.4,174.1 505.3,174.3 505.2,174.5 499.9,182.6 496.5,198.9 496.5,198.9 492.5,217.4 492.4,217.7 489.4,225.7 489.3,225.8 485.9,233.7 481.9,245.6 478,258.4 476.3,270.2 496.5,272 516.8,264.2 539,254.2 553.9,244.3 554,244.2 554.2,244.2 554.4,244.1 554.5,244.1 571.3,240.1 571.5,240 571.7,240 592.2,239 600.5,236.4 603.8,228 601.3,221.7 597.1,213.4 597,213.2 597,213 596.9,212.8 594.8,200.3 594.8,200.1 593.7,175.8 593.7,175.7 593.7,163.1 592.4,159.8 586.6,159.1 577.7,161.8 568.4,164.6 568.2,164.7 568,164.7 567.8,164.7 558.6,164.7 558.4,164.7 558.2,164.7 558,164.6 557.9,164.6 548.8,160.9 542.5,160 534.6,161.9 534.4,162 534.2,162 520.2,162.5 514,163 508.8,165.5Z" fill="#1FB35B" />
<path d="M519.4 263.3h0M595.4 178h0M554.7 160.8h0M515.1 162.7h0M539.8 254.8h0M603.2 232h0M493.4 274h0M601 219.7h0M478.8 251.1h0M596.2 162.5h0M596.2 195.7h0M542 254.3h0M529.4 258.9h0M589 242.4h0M492.4 272h0M580.2 157.1h0M602.5 232.5h0M596.4 175.7h0M587.3 242h0M486.9 225.9h0M596.8 201.3h0M539.1 255.7h0M482.7 238.5h0M514.5 162.8h0M603.1 223.4h0M583.4 240.8h0M570.9 162.7h0M599.5 239.2h0M599.5 211.9h0M587.8 242.3h0M579.6 160.1h0M542.8 159.9h0M600.3 211.4h0M576.3 242.1h0M597 209.2h0M597 201.8h0M594.8 171.4h0M485.7 232.5h0M596.2 178.1h0M599.3 215.7h0M506.6 164.8h0M563.4 243.6h0M475 269h0M585.3 158h0M551.3 247.9h0M557.8 163.8h0M525.1 260.9h0M601.8 221.6h0M587.9 240.1h0M600.6 212.4h0M571.3 163.3h0M538.9 160.4h0M478.8 246.8h0M596.8 203.4h0M603.7 219.9h0M491.9 214.9h0M605.5 228.8h0M533.7 160.3h0M497.1 273.2h0M598.9 208.8h0M556.5 246.6h0M480.4 271.1h0M591.3 240.9h0M589.1 159h0M538.5 158.8h0M480 242.4h0M595.2 181.7h0M598.1 201.2h0M590.1 240.4h0M490.3 272h0M496.9 195.5h0M488.2 225.7h0M574.6 242h0M536 161.5h0M473.5 270.6h0M491.9 271.8h0M490.1 273.6h0M496.1 190.2h0M517.3 265.1h0M570.9 240.7h0M551.8 246h0M488.1 227.4h0M568.5 242.6h0M539.1 254.4h0M475.8 273.1h0M557.7 246.3h0M585.8 158.9h0M532.4 159h0M528.6 259.7h0M559 163h0M595.2 185.1h0M603 221.5h0M481.9 271.7h0M526 264.5h0M490.8 209.3h0M589 240.7h0M574.4 240.1h0M597.8 199.8h0M493 211.7h0M569.3 162.8h0M487.3 225.6h0M515 267.3h0M478.3 257.1h0M589.4 240.4h0M595.6 183.9h0M582.8 160.1h0M501.9 175.9h0M519.9 265h0M489.8 224.2h0M577.7 242.1h0M594.7 193.6h0M499.8 181h0M522.9 263.5h0M544.5 157.2h0M494 200.5h0M596.4 209.3h0M565.3 164.1h0M570.2 241.5h0M546.4 160.6h0M555.8 161.2h0M504 171h0M481 271.7h0M596.1 196h0M604.1 228.8h0M510.4 164.1h0M603.3 226.4h0M517.1 160.9h0M595 193.9h0M515 162.1h0M493.1 208.6h0M484.1 230h0M587.5 239.8h0M527.3 259.9h0M581.8 158.1h0M592.8 160.2h0M506.4 270h0M480.3 247.1h0M595.6 190h0M572.5 241.8h0M490.8 275.3h0M496 189.1h0M595.3 183.4h0M483 271.2h0M494.1 205.6h0M519.4 266.9h0M497.4 185.5h0M544.4 253.2h0M552.6 247.8h0M580.1 240.1h0M596.9 207.3h0M570.8 240.7h0M544.4 250.8h0M485 228.6h0M596.9 185.7h0M576.9 161.4h0M492.4 208.6h0M548.7 251.4h0M497.6 183.8h0M475.9 270.2h0M570.4 162.3h0M583.8 242h0M591.7 240h0M596.7 192.6h0M567.2 163.8h0M512.8 266.2h0M596.1 189.7h0M604.1 221.6h0M507.4 268.8h0M489.8 271.6h0M476.4 270.2h0M521.1 262.5h0M595.7 190.4h0M481 271.5h0M554.5 160.7h0M531.3 160.2h0M604.3 230.6h0M557.7 245.8h0M476.3 266.6h0M473.4 270.8h0M597.2 239.7h0M540.6 159.9h0M473.3 271.2h0M577.3 161.6h0M475.9 254h0M571.3 241.2h0M548.9 159.9h0M474.7 267.8h0M496.4 191.8h0M535.9 259.3h0M489.2 226.1h0M563.2 161.9h0M545.7 159.7h0M499.7 272h0M567.7 164.3h0M595.8 185.9h0M572.2 163.5h0M545.9 249.9h0M495.6 196.7h0M496.5 192.6h0M595.4 189.6h0M596 198.8h0M594.5 239h0M574.2 162.8h0M597 202.2h0M498.9 181.1h0M567.5 163.6h0M594.8 172.5h0M505.9 268.7h0M596.6 205.7h0M588.7 239.6h0M524.5 262.6h0M487.8 227.3h0M562.3 245.2h0M496.7 187.7h0M500.4 181.2h0M475.5 263.3h0M488.7 274.4h0M501.7 177.6h0M603.3 222.7h0M598.3 201.8h0M519.3 264.8h0M487.9 227.2h0M596.9 191.2h0M492.7 206.7h0M495.9 189h0M507.5 164.1h0M583.5 157.3h0M492.4 208.9h0M583.8 239.9h0M504.2 270h0M478.5 255.4h0M480.1 250.6h0M598.1 201.5h0M482.4 237.2h0M508.4 165.1h0M584.9 241.1h0M476.5 271.2h0M485.4 232.5h0M596.3 181.6h0M589.4 242.1h0M521.6 263.3h0M512.7 267.6h0M599.8 238.5h0M594.2 239.9h0M480 249.3h0M596.1 177h0M531.3 258.8h0M506.3 164.6h0M542.9 251.9h0M485 231.8h0M580.3 241.8h0M511.3 268.9h0M549.6 247.4h0M549.4 248.5h0M599 205.2h0M594.5 187.4h0M482.6 237h0M546.9 251.6h0M590.7 241.4h0M600.1 240h0M602.7 237.6h0M595.7 194.7h0M572.1 162.5h0M602.4 220h0M528.9 260.1h0M597.3 206.9h0M531.8 259.7h0M497.2 190.9h0M600.2 216.3h0M485.9 272.4h0M563.7 242.6h0M595.3 170.5h0M597.4 238.4h0M499.8 182.7h0M568.2 161.6h0M523.2 262.3h0M546.1 251.1h0M482.8 273.7h0M568.8 162.8h0M496.3 187h0M591.7 240.9h0M537.7 158.6h0M540.4 255.7h0M474.1 262.9h0M478.5 250.7h0M587.3 157.9h0M550 158.9h0M496.8 274.6h0M476 262.5h0M487.6 222.9h0M593.5 240.1h0M503.7 176h0M478.4 270.8h0M602.9 223.8h0M536.6 158.9h0M481 272.7h0M534 159.9h0M508.9 162.2h0M491.8 210.5h0M589.6 241.9h0M592 159.1h0M485.6 233.5h0M595.7 187.9h0M591 240.3h0M569.5 243.2h0M593.9 167.9h0M593.1 159.9h0M597.5 208h0M597.3 212.3h0M533 158.9h0M597.1 190.5h0M494.9 201.1h0M562.6 164.2h0M562.4 242.7h0M502.6 173.8h0M515.3 161.8h0M544.9 250.5h0M603.1 220.9h0M572.2 241.4h0M531.6 162h0M486.2 272.9h0M510.6 266.7h0M502.2 177.2h0M482.5 242h0M479.8 240.5h0M501.1 175.9h0M595.8 193.6h0M594 178.8h0M594.6 240.9h0M519.7 159.8h0M478.5 251.6h0M569.6 243.3h0M561 244.2h0M477.9 253.7h0M516.3 160.9h0M490.4 222.8h0M593.7 165.1h0M495.1 203.6h0M589.9 158.9h0M478.4 247.7h0M604.2 234.4h0M506.9 166.2h0M555.4 162.4h0M595.6 198.6h0M497.9 180.8h0M482.1 244.6h0M604.8 234.5h0M569.2 163h0M577.7 159.6h0M591.1 159.1h0M537.5 158.2h0M536.5 159.6h0M598.8 213.1h0M526.9 260.4h0M523.5 261.7h0M596 176.1h0M546.1 160.3h0M497.5 184.7h0M518.3 265h0M553.7 162.4h0M602.6 220.2h0M541.1 253.3h0M588 239.7h0M474.5 272.8h0M514.1 160.7h0M533.2 258h0M493.3 200.1h0M495.9 191.8h0M561 163.1h0M492 273.7h0M590.6 159.5h0M596 192.3h0M586.1 157.4h0M518.4 264.4h0M593.8 174.5h0M558.8 163.1h0M496.3 195.4h0M566.9 163.2h0M516.3 161.8h0M480.7 249.2h0M556.6 246.5h0M487.5 226.5h0M565.8 163.2h0M565.4 162.7h0M502.3 270.1h0M484.5 231.9h0M589.7 157.6h0M479.6 273.2h0M602.6 237.3h0M605.9 226.3h0M514.2 161.8h0M594.6 169.5h0M497.8 188.8h0M494.7 199.9h0M602.9 230.9h0M543.8 251.2h0M546.8 159.5h0M572.1 162.8h0M514.1 268.3h0M549.4 247.6h0M531.1 260.9h0M532.6 258.6h0M595.8 185.7h0M601.1 238.2h0M594 176.9h0M592.1 240.4h0M500 271.8h0M499.1 178.8h0M522.2 161.2h0M598.1 206.5h0M488.3 221.6h0M589 239.6h0M603.6 232.2h0M595.4 190.9h0M590.9 156.2h0M528.6 160.3h0M605.6 232h0M596.6 179.4h0M484.1 272.3h0M596.9 239.7h0M497.9 184.7h0M484.7 229.8h0M477.7 258.7h0M567 241.2h0M596.9 178h0M496.6 197.8h0M543.7 159h0M492.7 205.4h0M594.7 240h0M595.5 181.6h0M566.6 244h0M597.2 211.2h0M597.3 238.4h0M578.5 160.6h0M476.1 267.2h0M575.1 161.2h0M477 258.7h0M493.9 203.6h0M594.9 187.2h0M472.8 268.2h0M594 164.6h0M486.6 228.8h0M483.4 229.4h0M499.7 180.3h0M491.1 219.3h0M567.1 162.8h0M553.5 159.9h0M583.5 241.2h0M565.9 241.5h0M599.3 212.2h0M491.2 211.5h0M592.9 238.9h0M508.8 270.3h0M518.1 159.9h0M595.5 197.5h0M558.6 244.4h0M584.8 157.4h0M606.6 229h0M485.9 273h0M595.2 186.7h0M600 215.8h0M583.1 241.1h0M599.7 238.4h0M593.8 167.8h0M531.6 258.1h0M574.3 241.8h0M481.3 245.9h0M604 231.7h0M595.3 177.8h0M569.9 242h0M604.4 225h0M597 212.6h0M474.3 271.5h0M601.4 220h0M565.3 162.9h0M592.1 158.9h0M575.9 159.8h0M515.6 267.5h0M577.3 160.2h0M522.6 161.2h0M513.3 162.1h0M595.9 184.8h0M544.7 157.5h0M574.2 161.5h0M554.8 244.2h0M558.1 162.1h0M503.8 174.4h0M529.8 258.6h0M598.4 211.2h0M487.7 220.5h0M552 161h0M497.5 187.6h0M515.7 160.5h0M516 160.2h0M595.7 200h0M594.2 159h0M523.4 159.2h0M567.7 242.3h0M577.2 240.4h0M509.9 162.5h0M517.8 265.3h0M535.1 159.1h0M507.1 164.6h0M508.4 163.2h0M490.7 215.2h0M513.9 266.3h0M597 200.3h0M558.9 164.4h0M594.8 159.1h0M507.7 163.2h0M593.8 167.8h0M496.2 199.6h0M495.7 195.8h0M553.8 244.6h0M480.5 241.1h0M583.7 157.9h0M503.5 174.9h0M526 159.5h0M599.3 240.4h0M592.6 160h0M517.4 266.6h0M597.4 206.6h0M482.6 241h0M597.8 193.4h0M547.3 159.1h0M560.4 244.1h0M544.9 252.3h0M480.6 247.1h0M598.5 215.6h0M603.8 227.7h0M501.5 271.1h0M495.3 190.6h0M484.1 272.5h0M578.7 161.5h0M484.6 273.4h0M526.1 261.5h0M527.6 260.9h0M550.9 161.7h0M486 272.7h0M544.9 250.3h0M597.3 187.6h0M493.6 273.4h0M532.6 158.6h0M476.6 263.5h0M572.1 240.1h0M493.9 205.2h0M579.7 158.6h0M597 197.7h0M494.8 206.4h0M588 241.7h0M504.8 171.5h0M483.6 272.2h0M532.5 260.1h0M545.7 157.8h0M496.6 193.3h0M590.8 240.5h0M486.8 228.3h0M501.1 271.5h0M526.2 263.1h0M515.6 265.6h0M534.5 257.6h0M595.9 196.8h0M605.7 224.8h0M473.9 267.5h0M483.9 239.4h0M562.1 161.9h0M488.2 227h0M523.6 263.2h0M476.5 257.6h0M497.4 274.2h0M552 159.2h0M546.2 250.5h0M580.3 160.2h0M475 265.3h0M599.2 216.7h0M477.9 250.6h0M534.5 161.9h0M596.4 187.4h0M603.4 226.5h0M589.1 157.5h0M596.4 197.1h0M529.3 262h0M570.2 240.8h0M519.9 161.9h0M553.3 158.8h0M595 170.4h0M475.1 259.9h0M595.9 238.2h0M552.2 245.8h0M506.7 268.1h0M490.9 216h0M596.5 179.8h0M550.3 250.1h0M482 244.3h0M577.3 160h0M593.5 158.5h0M539.3 256h0M519.3 159.5h0M595.8 169.5h0M482.8 236.7h0M480.1 251.3h0M485.1 272.2h0M500.9 271.2h0M488.5 218.9h0M474.9 256.2h0M594.8 161.5h0M520.3 264.9h0M521.8 262.5h0M578.5 159.6h0M494.6 198h0M584.6 241h0M479 250.6h0M478.8 255.1h0M595.4 185.4h0M578.1 160.6h0M495.8 199.9h0M484 234.5h0M481.9 272.5h0M488.5 227.4h0M546.1 252.9h0M555.6 244.2h0M490.2 219.4h0M538 254.8h0M602.3 236.5h0M550.3 248.6h0M487.3 221.6h0M596.4 164.7h0M548 251.5h0M556.1 163.2h0M588.5 240.8h0M492 273.4h0M586.8 241.1h0M501.6 176.7h0M485.4 230.3h0M595.1 196.6h0M590.4 240.7h0M496.1 188.6h0M479.9 245h0M562.9 246.1h0M477.5 257.8h0M598.9 201.1h0M550.7 159.6h0M595.9 175.4h0M499 179.7h0M603.6 227.3h0M476.1 262.4h0M602.7 234.6h0M511.6 162.2h0M594.6 191.1h0M592.8 157.8h0M594.5 176.8h0M593.8 241h0M602.5 222.4h0M541.9 158.1h0M498 188.6h0M584.2 241.3h0M569.9 161.9h0M602.5 238.4h0M544.4 252.6h0M510.4 266.9h0M592 240.7h0M520.8 162.2h0M556.4 162.2h0M604.6 232.6h0M598 195.8h0M571.9 162.4h0M493.8 201.7h0M475.2 263.9h0M563.5 242h0M574.6 240.7h0M534.6 258.5h0M529.6 260.9h0M594.4 189.1h0M514.6 162.7h0M511.3 267.8h0M599.1 216.1h0M594.6 185.9h0M481.7 242.2h0M492.6 204.9h0M501.1 179.8h0M546.9 160.4h0M590.5 157.6h0M595.2 168.1h0M551.2 247.5h0M548.1 250.3h0M496.5 190h0M517.5 161.5h0M480.1 245.8h0M489.3 223.5h0M495.1 199.4h0M602 222.6h0M507.3 165.8h0M525.3 260.6h0M478.3 252h0M483.3 273.1h0M583.2 241h0M502 175.9h0M580 240.2h0M484.8 228h0M575.1 241.3h0M569.9 241.3h0M594.5 167.6h0M480.2 248h0M592.7 239.6h0M593.8 173h0M595.1 239.8h0M492.9 271.7h0M477.8 255.2h0M557.8 161.2h0M476.5 255.6h0M492.7 215.6h0M602.9 236.7h0M543.6 251.7h0M526.4 162.2h0M567.2 162.4h0M561.3 245.3h0M512.7 267.8h0M475.5 272.9h0M595.6 169.9h0M543.9 253.6h0M517.2 267.3h0M601.3 218.3h0M577.8 159.4h0M515 266.9h0M479.2 249.1h0M528.7 158.6h0M496.7 193.4h0M479.5 252.5h0M501 270.9h0M596.1 163.9h0M582.5 239.7h0M492.9 211h0M500.1 272.4h0M551.3 161.3h0M580.7 159.6h0M486.8 272.9h0M505.4 171.3h0M530.3 260.6h0M555.7 244.1h0M475.9 272.7h0M499.3 271.2h0M522.7 264.7h0M562.5 242.9h0M489.7 222.1h0M496.2 195.1h0M602.7 237.6h0M476.6 255.7h0M598.3 210.7h0M547.4 158.6h0M544.5 159.7h0M558.9 245.3h0M586.8 159h0M533.6 259.4h0M596.8 162.6h0M481.7 238.2h0M522.3 263h0M492.4 273.6h0M505.3 171.3h0M525.3 161h0M506.6 269.8h0M499.8 179.6h0M593.8 238.5h0M482.3 241.5h0M594.6 194.6h0M528.2 159.6h0M475.7 269.3h0M475.1 263.3h0M559.9 163.4h0M502.8 177.4h0M478.3 249.6h0M496.8 187.8h0M596.4 193.7h0M474.7 271.7h0M528 160.4h0M489.6 273.7h0M596.9 202.1h0M496.2 188.6h0M594 164h0M489.7 224.6h0M586.8 241.2h0M529.6 161.7h0M494.2 200.3h0M489.8 271.8h0M554.7 160.7h0M516.8 264.5h0M501.3 179h0M562.2 161.5h0M508 165.4h0M506.1 163.9h0M483.7 233.8h0M595.4 238h0M543 159.9h0M584 240.4h0M491.8 272.2h0M601.9 234.3h0M595.9 202.9h0M604.3 221.1h0M492.4 205.3h0M494 203.5h0M581 158.9h0M596.2 159.1h0M523.6 160.6h0M498.5 187.3h0M593.8 242h0M545 160.3h0M535.9 258.6h0M598.5 213h0M487.7 273.8h0M517.8 264.5h0M564.1 242.3h0M602.8 222.8h0M476.7 259.8h0M502.8 270.3h0M475.6 259.7h0M483.7 230.9h0M509.3 164.1h0M574.6 240.6h0M587.3 241.3h0M581.8 158.1h0M594.3 167.9h0M604.9 225.7h0M568.1 241.3h0M597.6 238.5h0M562.6 242.6h0M488.7 226.6h0M595.5 202.2h0M483.5 232.9h0M595.4 175.6h0M605.4 224.3h0M496.6 190.9h0M540.7 255.8h0M498.7 186.4h0M491.1 273.4h0M603.2 222.8h0M541.2 253.1h0M507.2 167.5h0M571.9 161h0M594.9 173.3h0M592.4 156.5h0M500.2 270.9h0M506.2 270.1h0M594.5 241.1h0M586.2 239.5h0M493 212.6h0M575.3 159.1h0M503.2 173.6h0M573.5 241.8h0M597.2 212.6h0M565 163.7h0M538 255.2h0M562.2 162.2h0M525.5 262.7h0M581.2 160.5h0M544 253.7h0M517.3 161.7h0M550.6 249.8h0M597.4 208.2h0M594.9 170.8h0M513.9 163h0M483.4 233.9h0M596.3 190.7h0M590 159.3h0M594.4 185.4h0M485.2 231.3h0M507.2 268.3h0M490.1 217.8h0M496.7 194.3h0M474.3 270.3h0M553.7 245.3h0M600.3 214h0M513.8 268h0M504.8 270.8h0M479 249.1h0M575.3 160.8h0M562.3 161.6h0M542.6 253.5h0M510.9 269.4h0M548.2 158.7h0M595.7 194.3h0M476 273.2h0M550 249.4h0M505.7 166.7h0M490.8 220.3h0M596.1 192.4h0M484.3 235.3h0M564.9 245.7h0M585 241.1h0M479.2 271.7h0M530.6 159.7h0M596 168.8h0M537.5 158.8h0M474.5 272.6h0M479.6 273.5h0M604.9 229.7h0M602.7 236.3h0M490.9 216.2h0M528.1 161.3h0M522.3 264.3h0M595.6 203.8h0M502.9 271.9h0M522.1 262.4h0M588.7 157.7h0M503.5 271.3h0M479.5 272.1h0M508.6 161.4h0M518.1 162h0M476 273.1h0M559.2 244.7h0M602.3 222.1h0M536 257.6h0M593.8 161.6h0M487.4 229.9h0M595.7 191.1h0M586.7 158.4h0M484.2 233h0M542.9 253.6h0M484.6 232.1h0M553.3 160.8h0M602.8 234.6h0M588.9 239.3h0M599.7 238h0M549.7 250.3h0M506.4 269.8h0M592.2 240.5h0M476.3 265.2h0M475.4 267.5h0M477.3 261.1h0M545.8 160.1h0M544.9 250.5h0M594.8 168.4h0M559.6 245.3h0M601.8 235.9h0M597.1 178h0M596.1 185.4h0M560.2 243.1h0M497.1 273.7h0M596.5 204.4h0M487.7 228.9h0M596.3 207.9h0M521.8 160.3h0M544.2 251h0M494.8 197.4h0M496.8 193.1h0M560.8 242.8h0M533 159.2h0M497.9 272.8h0M597.1 203.5h0M535.8 159.3h0M499.4 184.1h0M571 161.4h0M541.1 257.6h0M495.3 273.3h0M592.6 158.1h0M595.4 184.7h0M593.8 160.9h0M477.9 253.3h0M492.3 272h0M602.2 232.8h0M492 272.9h0M518.6 265.4h0M536.2 257.9h0M532.6 257.7h0M562.4 163.7h0M603.5 234.9h0M489.4 218.4h0M595.3 190.5h0M600.8 219.7h0M478.7 273.1h0M582.2 240.5h0M494.8 198h0M487.9 228.7h0M503 176.4h0M480.9 248.1h0M595.3 179h0M477 270.8h0M596.7 201.3h0M590.3 159.5h0M520.9 262.5h0M600.5 236.8h0M596.7 172.2h0M540.3 256.4h0M585.1 240.8h0M497.3 186.3h0M594.1 239.7h0M511.3 163.7h0M560.5 244.6h0M488 224.7h0M534.1 259.3h0M496 186h0M581.3 241.4h0M563.7 242.6h0M478.7 243.9h0M576.4 161.4h0M585.7 241.2h0M488.1 220.8h0M476.8 255.8h0M579.3 159.5h0M491.9 209.2h0M505.2 271.3h0M480.6 246.1h0M484.1 231.8h0M489.7 221.2h0M548.9 248.5h0M516.7 265.4h0M595.8 163.4h0M482.4 238.3h0M487.6 272.8h0M595.1 188.7h0M498.5 272.5h0M562.1 245.5h0M599 212.9h0M519.8 266.3h0M492.5 272.9h0M595.1 197.5h0M596.4 178.5h0M493.7 209.3h0M510.7 163.9h0M555 160.5h0M596.3 180.6h0M507.5 168.7h0M527.1 260.4h0M536.8 256.6h0M530.4 259.2h0M575.5 161.1h0M525.6 159.6h0M477.7 272.2h0M559.7 161.4h0M535.3 256.8h0M477.3 272.7h0M520.7 262.5h0M601.1 237.9h0M599 215.6h0M488.6 221.9h0M558.9 162.8h0M486.3 231.4h0M481.9 243.1h0M523.1 161h0M598 187h0M485.5 271.9h0M595.1 191.2h0M500.3 180.3h0M597.8 193.5h0M567.5 242.3h0M592.6 240.4h0M525 261h0M498.1 181.5h0M534.8 258.8h0M549.3 248.1h0M556.6 163h0M498.1 273.2h0M530.9 161.3h0M475.2 260.2h0M564.4 162.9h0M495.6 200.1h0M516.9 162.5h0M481.4 273.8h0M502.8 176.7h0M494.8 198.8h0M504.7 174.4h0M595.1 174.6h0M514.5 159.3h0M515.3 161h0M474.8 270.1h0M566.8 164.3h0M594.6 168h0M582 160.1h0M561.5 163.8h0M591.9 239.3h0M544.5 160.2h0M512.3 267.9h0" stroke="#1FB35B" stroke-width="1.7" stroke-linecap="round" fill="none"/>
<path d="M472.2,274.8 467.4,285.4 464,300 463,312.6 464.4,323.2 469,331.6 476.7,335.8 487.4,338.5 496.2,339.4 505.1,336.7 516.1,333 525,329.5 531.9,322.6 535.4,315.6 539,306.4 542.7,297.1 542.7,297.1 546.4,287.9 546.5,287.7 550.2,280.2 550.3,280 550.4,279.9 555.9,272.6 559.5,265.5 554.8,261.6 547.8,257.2 540.9,259.8 531,265.7 531,265.7 518.6,272.7 518.5,272.8 508.9,277.8 508.7,277.9 508.5,277.9 497.3,280.9 497.1,281 496.9,281 496.7,281 496.5,281 496.3,280.9 496.2,280.9 484.4,276.9 484.2,276.8 474.5,272.4 472.2,274.8Z" fill="#17A0F0" />
<path d="M462.6 313h0M509.8 277.2h0M561.5 264.7h0M513.8 334.9h0M500.4 278.7h0M562.2 264.1h0M522.7 267h0M480.7 340.3h0M549.9 258h0M461.8 310.5h0M465.3 289.4h0M473.3 272.5h0M462.6 318h0M467.9 283.1h0M504.6 275.8h0M538.4 259.2h0M532.2 323.8h0M557.6 273.1h0M544.1 254.9h0M549 255.9h0M505.3 338.3h0M519.6 333.6h0M535.8 261.4h0M547.3 255.4h0M537.3 314.8h0M463 303.2h0M553.3 279.3h0M516.9 333.2h0M542.6 300.2h0M481.6 338.3h0M539.1 312.7h0M512.5 274h0M558.2 272.2h0M515.3 272.5h0M461.3 304h0M515 272.8h0M539.6 258.2h0M543.3 298.6h0M530.7 264.5h0M462.4 322.8h0M536.7 312.5h0M494.9 278.1h0M474.6 269.4h0M532.2 324.3h0M462.6 326.2h0M518 334.8h0M551.5 283.4h0M501.3 278.9h0M514 274.1h0M517.6 333.8h0M558.7 261.5h0M479.7 338.3h0M461 308.5h0M461.5 309.8h0M550.8 283.5h0M498.4 339.7h0M468.9 281.2h0M533.9 319.5h0M471.7 273.3h0M460.1 312.9h0M493.6 339.9h0M531.8 326h0M511.9 275.9h0M469.7 278h0M539.9 306.5h0M546.6 255.6h0M530 264.8h0M491.5 278.5h0M557.8 272.5h0M505.4 337.1h0M556.9 272.4h0M505.3 277.5h0M552.2 280.1h0M547 288.6h0M492.1 276.1h0M470.3 278.7h0M491.5 277.9h0M483 275h0M475.7 270.4h0M517.9 334.8h0M507 276.1h0M552.6 279.4h0M521 334.3h0M543.8 256.4h0M470 276.4h0M498.2 339.4h0M481.8 273.8h0M480.4 337.2h0M524.6 333.1h0M533.6 263.3h0M492 278.1h0M481.4 271.8h0M531.1 265.4h0M518.4 333.5h0M537.8 312.2h0M484.5 338.1h0M485.3 341.6h0M462.6 296.3h0M506.2 337.1h0M526.2 330.7h0M500.9 278.8h0M543.5 297.7h0M523 332.2h0M553.7 257h0M520.5 331.5h0M462.7 322.9h0M466.4 327.5h0M493.2 278.2h0M544.1 298.1h0M470.7 335h0M494.7 340.7h0M523.2 333.1h0M537.7 318h0M463.8 292h0M523.3 268.4h0M530.9 328.2h0M553.8 259h0M505 278.3h0M481.4 338.4h0M533.9 262.8h0M556.3 261.3h0M462.5 303.3h0M461.6 321h0M531.1 262.6h0M543.8 297.8h0M513 272.8h0M477.1 270h0M553.7 276.5h0M485.5 274.3h0M494.4 339.3h0M519.6 333.6h0M497.4 342.7h0M526.3 332.3h0M537.9 259.5h0M469.8 334.1h0M539.2 312.8h0M540 310.8h0M544.6 297.5h0M477.8 336.2h0M472.5 274.1h0M461.2 307.1h0M517.6 336.1h0M543.9 296.1h0M494.2 340.4h0M477.5 338.6h0M474.5 271.5h0M479.9 338.2h0M464.1 323.5h0M534.2 321.1h0M554.3 277.8h0M529.6 265.5h0M535.3 261.7h0M561.2 265.3h0M529 265.3h0M519.1 332.2h0M482.7 273.6h0M506.1 276.2h0M527.3 265.3h0M470 274.4h0M555 277.7h0M535.5 261.6h0M461.7 318.6h0M498.5 340.6h0M515 334.9h0M557 273.5h0M462.2 290.8h0M548.1 286.3h0M463.7 295h0M549.2 285.1h0M463.2 294.2h0M543.2 296.7h0M533.5 320h0M483.2 337.8h0M540.8 306.1h0M479.7 273.9h0M521 334.2h0M477.5 272.3h0M540.7 257.9h0M498.2 339.5h0M549.8 254.8h0M538.1 314.9h0M515.4 272.1h0M495 279h0M470.9 273.1h0M535.5 261.1h0M535.6 315.7h0M523.8 332.8h0M511 336.4h0M505.4 337h0M464.5 328.4h0M555.2 261.1h0M517 271.2h0M463.2 299.6h0M545.7 290.9h0M541.5 303.5h0M541.4 304.7h0M479 270.7h0M543.1 258.9h0M472.6 273.2h0M538.9 258.7h0M471.3 271.1h0M526.4 267h0M534.7 262.5h0M509.5 336h0M547.5 285.9h0M487 341.5h0M492.6 339.1h0M491 339.3h0M511.1 273.6h0M535.4 262.3h0M483.5 275.8h0M556.2 275.3h0M557.3 262.9h0M542.4 305.4h0M467.9 329.6h0M477.9 272.9h0M536.9 315h0M520 271.4h0M556.2 273.4h0M487.8 340.4h0M502.1 277.2h0M522.2 270.1h0M496.7 279.4h0M521 269.7h0M545.6 292.1h0M524.8 330.3h0M507.4 277.7h0M544.3 257.5h0M511.5 275.4h0M462.6 297.6h0M516.1 335.7h0M558.5 261.5h0M525.2 268.1h0M488.6 341h0M549.3 255.9h0M494.1 342.5h0M545.5 295h0M558.9 272.3h0M547.4 291.3h0M541.4 307.5h0M536.5 321.2h0M491.1 277.7h0M462.1 308.6h0M519.1 333.2h0M559.9 267.1h0M510.2 275.5h0M541.4 303.8h0M542.9 302.2h0M484 338.9h0M543.4 303.2h0M469 277.8h0M533.9 319.4h0M530.6 264.1h0M539.6 310.3h0M530.6 325.1h0M554.3 261.2h0M530.5 265.6h0M517.1 332.9h0M463.2 319.2h0M528.8 263.4h0M464.7 327.1h0M544.1 298.4h0M501.7 338.8h0M534.2 261.8h0M548.1 255.4h0M536.5 314.7h0M513.2 272.8h0M548.5 289.8h0M506.9 337.6h0M515.4 335.5h0M463.8 328.9h0M508 277.4h0M507.6 277.5h0M533.2 320.1h0M548.5 290.4h0M541.1 305.1h0M552.9 278.8h0M463.3 323h0M494.6 340.5h0M543.9 301h0M478.2 271.8h0M538.2 258.7h0M462.7 299h0M551 257.8h0M478 337.1h0M463 321.4h0M520 332.7h0M539.7 309.6h0M460.9 301.7h0M465.3 290.3h0M548.7 256.9h0M535.2 315.9h0M535.8 316.4h0M466.4 287.9h0M527.2 264.4h0M511.2 337.4h0M552 278.5h0M546.2 296.4h0M523.7 330.5h0M545.8 255.4h0M492.3 279.4h0M473.6 270.7h0M515.6 335h0M521.1 268.3h0M508 277.5h0M483 275.8h0M534.8 323.4h0M523.2 268.2h0M463.1 320.5h0M546.6 287.5h0M513.1 275.2h0M486.6 277h0M501.8 338.6h0M461.4 311.9h0M504.7 276.2h0M516 272.5h0M518.8 332.8h0M543.4 258.7h0M467.6 282.9h0M497.4 340.9h0M490.3 278.7h0M502.6 276.7h0M476.7 273.3h0M488 277.3h0M517.6 335.2h0M532.8 324.8h0M467.1 330h0M509.3 336.8h0M467.6 276.1h0M548.8 284h0M545.9 295.3h0M502.9 338.4h0M484.2 340.4h0M536.4 260.4h0M506.3 340h0M488.9 341.1h0M463.7 292h0M463.9 320.9h0M542.8 299.3h0M549.1 284.5h0M461.1 302.5h0M544 296.6h0M487.5 276.2h0M538.9 258.1h0M545.3 254.9h0M472.6 272.8h0M465.1 288.3h0M526.2 266h0M463 323.8h0M482.3 337.8h0M542.8 302.4h0M494.2 279.5h0M537.5 316.6h0M530.7 265.5h0M483.7 338.9h0M545.1 256.8h0M466.3 283.8h0M462.3 300.4h0M486.5 275.3h0M558 271.8h0M556.2 274.2h0M467.7 284.6h0M538.7 311h0M499.4 278.6h0M473.1 334.5h0M537.9 313.9h0M499.4 278.6h0M492.3 341.1h0M514.4 272.6h0M488.4 340h0M543.8 298.3h0M498.3 339h0M549.2 284.8h0M510.7 275.2h0M478 273h0M558.5 263.3h0M532.2 325h0M476.2 272.4h0M548.7 254.3h0M519.7 271.7h0M554.7 276.9h0M536.9 314.1h0M485.3 275.7h0M486.6 277.6h0M553.2 276.6h0M542.5 256.7h0M544.9 297.8h0M530 326.9h0M485.9 275.9h0M489.4 278h0M541.1 256.9h0M488.9 278.2h0M547.5 293.5h0M522.4 270.3h0M545.1 255.9h0M540.6 258.3h0M534.2 322.3h0M536.8 315.6h0M469.7 333.5h0M462.7 313.1h0M548.1 254.7h0M547.8 294.6h0M523.4 330.8h0M520.5 335.4h0M467.1 283.5h0M497.8 341.1h0M523 330.3h0M461.4 314.7h0M480.5 273.7h0M552.8 259.3h0M511.6 335.9h0M466.8 330.1h0M538.8 310.2h0M542 301.8h0M540.8 258.9h0M498.7 339.7h0M496.8 279h0M463.2 318.7h0M496 280h0M464.3 292.2h0M555 274.5h0M540.4 309.2h0M554.1 279.6h0M461.8 313.5h0M532.1 261.7h0M547.8 257h0M547.4 286.2h0M549.2 255.5h0M460.9 315.5h0M542.5 301.1h0M510.5 274.7h0M515.9 273.6h0M536.1 313.9h0M550.1 258.5h0M467.3 283.4h0M545.6 255.4h0M538.9 259h0M529.9 326.5h0M496 340h0M544.1 257.1h0M549.9 285.5h0M505.1 277.5h0M474.1 271.4h0M478 272.7h0M545.2 256.4h0M466.3 327.7h0M494.3 339.5h0M541.7 304.9h0M509.1 274.9h0M468.2 282.2h0M480.3 337.3h0M493.3 340.1h0M537.2 260h0M546.5 293.1h0M517.2 333.6h0M536.6 315.2h0M465.4 327.7h0M478.2 338.5h0M462.2 303.5h0M496.2 341h0M521.8 331.5h0M475.6 272.7h0M472.3 335.1h0M524 269.6h0M552.5 259.7h0M502.5 279.5h0M515.5 273.8h0M556.4 260.9h0M485.4 338.2h0M466.8 330.6h0M485.5 275.9h0M513.4 335.4h0M545.6 255.1h0M535.3 317.9h0M537 260.6h0M522.1 270.6h0M503.7 338.3h0M548.4 286h0M461.8 306h0M534.3 321.1h0M472.5 334.1h0M461.9 306.6h0M550.4 282.8h0M556.9 271.2h0M466.7 333.5h0M466.6 334.8h0M541.8 302.5h0M472.5 270.9h0M463 297.8h0M480.4 274.5h0M536.4 320.9h0M464.7 283.8h0M474.1 334.7h0M546.3 289.5h0M463.9 300.3h0M538.6 310h0M535.9 260.5h0M528.9 265.1h0M504.1 276.4h0M536.8 258.5h0M516.8 271.3h0M463.6 295.4h0M513.3 335.7h0M464.3 293h0M465.5 290.2h0M542.7 299h0M522.9 268.8h0M551.1 256.3h0M472.2 274.5h0M520.7 332.8h0M477.8 270.7h0M544.5 255.2h0M486.8 341.1h0M529.8 327.8h0M506.7 338.1h0M468.4 276.6h0M543.7 258.1h0M484.5 339.7h0M518.8 272.4h0M502.8 340.1h0M486 339.9h0M530.7 262.6h0M466 326.2h0M516.7 333.7h0M463 298.4h0M470.7 275.1h0M486.9 277.2h0M505.5 339.4h0M475.6 339.1h0M507.6 278.1h0M543.7 299.4h0M513 337.2h0M522 268.5h0M470.3 277.8h0M544.5 296.9h0M463.7 301.4h0M465.7 283.7h0M537.9 259h0M461.8 303.8h0M560 261.7h0M476.5 272.6h0M473.8 271.7h0M487.4 340.7h0M530.4 326.2h0M517.8 333.1h0M538.1 317.4h0M496.8 279.6h0M466.4 283.9h0M545.1 295.8h0M537.8 314h0M514.9 270.9h0M541.6 303.1h0M550.5 282.1h0M481.5 273.3h0M464.8 325h0M495.8 279.2h0M466 290.5h0M490.2 277.8h0M460.2 303.6h0M466 329.8h0M503.7 339h0M483.3 339.6h0M541.4 257.2h0M473.9 336.6h0M471.2 332.9h0M526.1 331.7h0M540.1 259.9h0M552 259.8h0M535.4 318.5h0M559.6 269h0M530 325.1h0M528.1 265.5h0M560 272h0M467.1 330.2h0M549.8 286.5h0M517.9 272.7h0M529.6 265.8h0M498 339.9h0M489.4 277.7h0M469.9 333.6h0M551.9 282.8h0M525 330.2h0M479.4 336.6h0M483.8 274.6h0M508 275.8h0M544.3 297.3h0M468.4 281.8h0M519 333.2h0M473.7 336.7h0M505.5 337.8h0M538.1 258.8h0M559 268.6h0M476.1 335.7h0M477 271.8h0M497.8 278.7h0M471.1 276.8h0M461 315.2h0M522.7 267.4h0M518.3 270.9h0M466.1 280.9h0M500.7 338.6h0M513.1 274.1h0M559.6 263.9h0M464.4 289.9h0M475.5 337h0M510.1 336.9h0M504.4 277.4h0M544.9 257.4h0M534.7 262.9h0M461.2 312.6h0M507.2 276.8h0M463 294.8h0M531.7 262.4h0M477.3 336.2h0M546.8 291.6h0M461.6 311h0M497.6 280.5h0M482 274.1h0M463.9 320.1h0M468.3 334h0M519.2 269.6h0M522.2 333.6h0M460.2 319.7h0M547.7 255.1h0M488.8 277.5h0M464 298.5h0M534.2 322.3h0M467.6 332.4h0M516 335.9h0M476.2 337.3h0M467.2 277h0M551 259h0M461.1 302.5h0M495.4 340.8h0M544.8 255.6h0M492.1 278.7h0M533.5 261.8h0M528.3 327h0M517.7 272.4h0M510.1 276.7h0M549 285h0M492.9 340.8h0M463.7 288.4h0M465.9 331.3h0M535.2 319.9h0M484.7 338h0M543.5 301.1h0M464.5 295.1h0M539.6 310.1h0M525.9 328.7h0M532.1 326.7h0M463.9 324.3h0M461.9 296.7h0M514.4 337h0M463.8 320.9h0M483.4 274.2h0M538.4 310.3h0M465.7 290.8h0M498.9 339.9h0M461.6 307.9h0M464.9 295.2h0M467 329.1h0M491.4 339.2h0M543.6 255.5h0M460.8 317.1h0M553.7 280.4h0M487.5 339.2h0M463.3 305.8h0M541.8 299.6h0M551.1 279.8h0M540.7 259.6h0M498.1 278.8h0M463.1 299.1h0M545.7 256.5h0M509.7 276.9h0M520 271.7h0M537.7 314.8h0M523.6 333.3h0M541.7 300h0M529.3 264.3h0M459.3 311.7h0M485.8 340.8h0M532.5 323.5h0M537.7 309.9h0M494.2 276h0M482.2 273h0M480.6 338.2h0M533.9 263.1h0M559.5 271.9h0M515.3 273.1h0M530.2 264.2h0M561.6 262.4h0M495.7 279.8h0M492.4 339.4h0M461.8 294.6h0M543.8 257.5h0M471.1 277.1h0M554.9 259.7h0M492.1 341.1h0M474.6 336.7h0M461.4 302.2h0M537.9 260.1h0M558.4 270.7h0M486.4 339.4h0M529.7 326.2h0M540.5 308.3h0M495.1 280.3h0M500.2 279.6h0M472.8 334.9h0M554 276h0M519 271.2h0M465.9 328h0M505 276.2h0M531.7 324.8h0M559.8 269h0M475.5 270.9h0M559.4 262.9h0M464.5 290.2h0M535.6 260.9h0M522.4 269.1h0M485.6 276.2h0M540.2 313h0M463.6 302h0M465.1 288.7h0M530.8 263.4h0M518.6 271.7h0M466.7 331.3h0M465.9 328.9h0M539.7 259.7h0M557.2 274.7h0M478.9 337.5h0M483.8 339.4h0M464.4 329.1h0M464.6 291.8h0M547.2 294h0M522.5 269.1h0M529.6 329h0M461.9 303h0M517.4 333.4h0M492 278h0M557.1 259.5h0M546.9 256.2h0M461.3 321.4h0M532.1 264.9h0M529.3 263.4h0M560.1 262.5h0M537.4 258.8h0M509.8 275.4h0M545.9 256.6h0M469 280.1h0M470.2 271.9h0M539.3 258.8h0M484 276.2h0M486.4 338.7h0M462.1 310.4h0M490.1 276.7h0M548.6 290h0M552.5 259.8h0M463.4 296h0M560.2 265.5h0M462.3 321h0M540.3 257.4h0M547.9 286.8h0M530 324.8h0M537.7 312h0M556.1 260.5h0M554.9 258.2h0M478.1 337.8h0M534.1 321h0M545.3 294.2h0M463.6 321.6h0M536.3 262.3h0" stroke="#17A0F0" stroke-width="1.7" stroke-linecap="round" fill="none"/>
<path d="M501.6 282.4h0M547.9 251h0M534.9 260h0M542.2 265.3h0M508.7 281.3h0M492.7 276.1h0M500.8 278.7h0M504.4 280.7h0M475.1 273.2h0M514.1 278.4h0M504.3 267h0M484.8 268.9h0M546.7 258.6h0M519.8 268.7h0M478.7 279.4h0M511.4 266.6h0M523.7 263h0M504.1 283.8h0M475.3 272.8h0M472.6 280.1h0M526.8 258.6h0M510.3 268.8h0M544 260.7h0M489.3 279.8h0M535.8 255h0M554.6 261.5h0M513.7 269.4h0M486.9 265.8h0M519.9 273.3h0M487.7 270.3h0M514.6 279.1h0M487.9 272h0M491.3 271h0M492.6 280h0M543.3 255.7h0M543.8 261.2h0M478.3 279.8h0M523 259.7h0M521.5 261.3h0M502.7 271.9h0M501.8 283.4h0M482.2 271.7h0M481.4 279.3h0M490.8 282.6h0M519.4 270h0M529.2 271.7h0M509.5 267.7h0M550.7 249.5h0M553.4 256h0M504.8 278h0M501.2 283.9h0M539.4 258.4h0M511.2 265h0M519.1 273.4h0M477.7 281.2h0M489 270.3h0M489.2 282.2h0M549.5 259.8h0M513 273.4h0M501.1 279.3h0M511.6 273.5h0M525 261.2h0M496.8 275.2h0M527.3 269.7h0M516.9 276.2h0M541.2 263.2h0M507 280.9h0M489.9 272.9h0M521 263.3h0M503.6 278.5h0M544 259.3h0M488.9 276.3h0M528.6 261.5h0M476.2 264.8h0M475.7 280.8h0M476.2 275.7h0M526.7 264h0M501.9 279.1h0M475.3 277.6h0M497 272.5h0M481.3 276h0M540.2 261.8h0M548.2 251.9h0M553.6 261.1h0M472.8 269.8h0M533.8 264.3h0M532.5 265h0M494.2 281.9h0M497.6 268.8h0M477.2 270.7h0M477.8 281.2h0M541.7 256.7h0M479.4 265.5h0M508.5 276.1h0M498.6 279.6h0M497.1 285.6h0M506.1 268h0M523.4 265.2h0M550.5 249h0M503.9 282.2h0M519.7 274.2h0M514.3 278.8h0M490.2 281.7h0M498.2 268h0M511.3 269.3h0M505.1 276.7h0M543.8 260.2h0M504.3 278.8h0M480.9 280.9h0M526.8 273h0M489.9 279.7h0M477.2 275.1h0M489.8 271.3h0M515.2 265.9h0M506.5 276.3h0M506.7 281.8h0M548.7 254.1h0M476 279.5h0M474.9 274.4h0M528.1 271.7h0M540.3 253.6h0M522.3 264.3h0M493.8 267.6h0M481.7 272.3h0M549 258.3h0M474.1 270.8h0M513.1 278.3h0M478.5 272.6h0M521.9 267.2h0M546.2 249.7h0M493.5 267.9h0M540 260.2h0M487.9 280.9h0M501.2 274.6h0M472.1 279.4h0M540 258h0M552.4 257h0M482.5 269.1h0M549 254h0M543.1 258h0M480.5 267.9h0M520.1 276.4h0M540.6 252.5h0M484.4 271.8h0M553.8 261.6h0M548.8 256.2h0M543.1 257.5h0M496.6 270.2h0M473.6 263.9h0M521.2 262h0M540.1 265.4h0M494.3 275.4h0M485.1 267.5h0M483.4 276.7h0M511.8 274h0M482.2 271.7h0M554.3 258.6h0M485.3 279.6h0M535.9 264.7h0M520.9 267.8h0M483.3 280.1h0M551.1 263.1h0M546.7 262.2h0M494.4 281h0M514.9 275.6h0M551.9 249.8h0M518.1 271h0M477.4 278.4h0M478.2 268.7h0M489 269.7h0M490.9 285.2h0M496.6 273.3h0M514.6 276.3h0M552.6 258.3h0M528.5 270.3h0M502.5 277.1h0M550.6 258.2h0M489.2 269h0M502.9 271.4h0M504 267h0M546 252.4h0M537.8 265.2h0M548.5 261.2h0M542.3 261.6h0M501.1 281h0M519.2 261.5h0M507.6 273.7h0M506.5 272.8h0M501.5 282.9h0M476 279.8h0M490.5 281.8h0M502.5 281.3h0M531.2 269h0M532.1 266.9h0M481.3 266.9h0M490 272.3h0M512.6 271.2h0M542.3 257.4h0M473.4 277.2h0M544.8 255.4h0M476.4 273.4h0M485.2 275.6h0M510.6 275.2h0M553 250.2h0M512.6 265.3h0M535.3 258.4h0M540.8 259.3h0M501 271.1h0M537.1 261.7h0M544 250.8h0M487.6 268h0M542.6 254.1h0M505.6 270.5h0M527.2 264.6h0M532.9 259.1h0M498.8 285.6h0M537 260.5h0M553.7 259.4h0M518.6 272.9h0M504.8 268.8h0M546.8 258.1h0M555.6 262.5h0M511.1 270.5h0M540.5 255.1h0M505.8 281h0M514.5 266.3h0M517.8 262.4h0M484.9 267.6h0M496.3 275.1h0M544.9 264.4h0M533.4 256.6h0M536.2 255.9h0M489.6 271.6h0M525.7 259.4h0M481.4 270.6h0M512.7 275.2h0M544.5 260.7h0M502.8 276.9h0M502.5 267.7h0M481.2 278.2h0M512.2 275.9h0M493.4 284h0M497.1 277.9h0M492.5 283.3h0M496.6 279.4h0M509.9 266.1h0M496.5 278.6h0M527.7 267.1h0M500.5 283.3h0M547.4 253.1h0M544.3 264h0M522.3 269.2h0M526.2 262h0M479.5 277.4h0M474.1 271h0M498.2 269.8h0M478.3 266.8h0M473 269.2h0M541.9 250.8h0M545.3 256.7h0M487.8 276.7h0M514.5 277.3h0M507.2 271.6h0M506.7 268.6h0M491.5 281.5h0M477.1 273.9h0M539.5 255.5h0M535.7 262.8h0M497 273h0M516.6 262.6h0M477.2 281.5h0M495.8 270.8h0M489.6 271.6h0M529.5 264.9h0M498.9 268.7h0M550.9 256.2h0M516.1 272.9h0M530.7 254.9h0M526.1 271.7h0M472.7 276.8h0M515.9 262.9h0M540.7 252.8h0M487.6 277.3h0M519.7 266.3h0M515.5 278.2h0M537.2 265.3h0M476.2 274.8h0M488.2 267.4h0M489.9 266.4h0M489.4 274.2h0M543.6 259h0M500.2 270h0M497 276.7h0M515.8 262.8h0M481 266.9h0M536.6 265.3h0M483.6 279.9h0M516.4 276.6h0M526.6 265.1h0M490 275.8h0M521.3 268.1h0M494.2 284.5h0M504.3 272.1h0M496.2 270.8h0M547 262.4h0M487.1 282.7h0M514.6 277.1h0M496.5 282.6h0M522.2 271.6h0M550.2 256.3h0M498.8 267.6h0M551.4 263.4h0M480.1 273.6h0M497.3 269.2h0M485.7 266.5h0M541.8 260.2h0M487.1 284.3h0M475.2 275.1h0M477.6 274.9h0M541.3 254.2h0M494.6 275.1h0M485.5 283.6h0M519.6 262.9h0M503.6 274.8h0M512.1 274.6h0M522.4 259.9h0M509 267.1h0M538.9 255.8h0M534.3 261.5h0M552.1 258h0M530.6 269.3h0M480.7 276h0M512.8 271.6h0M481.3 280.8h0M527.8 269.5h0M497.3 284.2h0M508.1 269h0M475 280.7h0M495.3 281h0M474.9 264.4h0M532.1 259.7h0M528.5 259.9h0M501.3 278.3h0M483.8 270.2h0M506.3 271.7h0M479.7 267.9h0M510.2 269.6h0M479.6 281.8h0M539 251.1h0M500 278.5h0M542.2 265.3h0M515.2 270.3h0M492.3 273.9h0M509.6 272.8h0M504.6 276.1h0M551.2 257.9h0M482.7 282h0M478.1 275.9h0M539.3 250.5h0M553.6 261.6h0M524.4 267h0" stroke="#1FB35B" stroke-width="1.7" stroke-linecap="round" fill="none"/>
<path d="M537.4 260.3h0M551.3 248.4h0M509.8 275.5h0M501.9 268.7h0M478.9 266.6h0M509.6 275.2h0M527.3 271.9h0M507.6 272.7h0M480.5 267.4h0M500.4 273.8h0M473.9 276.3h0M544.3 255.6h0M509.4 264.8h0M530.9 257.1h0M537.1 257.3h0M519.3 263.7h0M501.8 284.3h0M496.2 275.4h0M538.3 261.7h0M523.1 266.3h0M483.3 266.9h0M486 269.7h0M494.5 277.6h0M547.9 248.5h0M502.5 272.1h0M515.5 274.8h0M486.6 272.4h0M483.4 276.7h0M495.3 283.2h0M482.3 270.7h0M491 272.8h0M491.6 275.7h0M478.5 280.1h0M494.5 274.6h0M501.6 270.3h0M484.3 266.6h0M531.2 259.2h0M483.4 265.1h0M510.4 266.5h0M476.1 271.6h0M523.9 262.5h0M501.5 269.3h0M546.2 262.9h0M530.2 262.9h0M511.2 264.3h0M520.3 264.7h0M540.9 249.9h0M541.5 254.6h0M480.2 273.7h0M477 274.3h0M515.8 277.4h0M507.7 275.4h0M544.6 257.2h0M549.5 261.5h0M493.8 279.2h0M490.7 281.5h0M512.5 280h0M544.7 258.8h0M482 270h0M540.2 258.1h0M543.2 263.7h0M521.8 268.5h0M513.1 270.4h0M504.7 278.3h0M494.4 274.4h0M533.2 257h0M492.6 276.3h0M493.4 283.4h0M530.4 254.5h0M511.9 265h0M517.8 271.5h0M511.2 265.8h0M477.9 272h0M555.3 261.2h0M485.7 267.1h0M480.1 274.5h0M518.4 273.6h0M506.6 277.2h0M533.8 268.4h0M487.8 279.1h0M531 263.9h0M538.9 250h0M529.2 270.7h0M518.2 275.3h0M491.4 278.6h0M516.1 262.8h0M553.7 257.6h0M474.1 272.5h0M516.8 268.6h0M525.1 261.4h0M471.8 280.1h0M549.8 262.8h0M503.4 270.4h0M479.8 277.1h0M534.6 257.4h0M534.6 261.1h0M500.8 283.2h0M495.9 279.5h0M545.2 256.3h0M500 276h0M496.7 282.8h0M494.4 270.5h0M525.9 271.6h0M540.9 259.3h0M556 256.9h0M538.7 260h0M555.2 257.5h0M486.5 272.5h0M505.9 278.5h0M523.5 261.2h0M499.4 282h0M488.1 279.8h0M481.1 267.1h0M488 271.4h0M487.8 272h0M523.5 263.6h0M524.4 259.4h0M520.2 260.7h0M497.9 276.4h0M485.6 273.4h0M525.7 260.7h0M536.3 266.1h0M474.2 276.2h0M509.1 265.1h0M540.8 252.9h0M486.3 271.6h0M529.9 259.6h0M553.5 257.7h0M488.2 270.2h0M497.1 279.1h0M489.9 280h0M522.7 271.6h0M513.7 267.6h0M516.7 268.5h0M545.4 261.2h0M491.1 281.7h0M503.2 281.5h0M534.5 264h0M553.4 251.8h0M542.6 263.5h0M473.2 266.7h0M480.5 271.6h0M540.2 260.2h0M526.6 264.9h0M496.3 279.9h0M520 272.7h0M548.5 248h0M534.8 262.4h0M527.2 257.1h0M504.4 272.2h0M546 261.5h0M517.1 268.7h0M530.4 268.9h0M548 249.2h0M496.4 268.7h0M477.1 270.7h0M514 277.6h0M538.6 255.4h0M544 251.6h0M476.8 267h0M538.9 251.4h0M508.9 265.2h0M512 279.9h0M515.1 264.5h0M480.8 270.3h0M505 278.3h0M549.6 247.5h0M556 261h0M486.6 269.4h0M517.9 262.5h0M489.3 281.1h0M494.2 275.7h0M497.5 280.6h0M532.2 261.5h0M541.7 249.9h0M504.1 276h0M543.3 257.3h0M527.4 268h0M483.5 270.3h0M514.6 270.3h0M492 284.2h0M532.7 256.9h0M484 275.4h0M509.6 273.6h0M536.5 258.2h0M473.3 268.2h0M543.7 254h0M487.1 276.4h0M506.5 282h0M539.5 265.4h0M506.6 266.4h0M530.8 264.9h0M497.5 285.9h0M492.5 281.2h0M546.9 263.9h0M505.4 278.4h0M546.6 260h0M548.5 253.9h0M492.4 271.5h0M524.2 265.8h0M477.6 276.9h0M475.7 277h0M508.5 264.9h0M477.6 273.4h0M496.4 281.2h0M518 263.8h0M507 271.4h0M500.4 280.7h0M515.2 263.1h0M484.2 265.9h0M517.7 277.2h0M552.9 261.4h0M506.9 273.9h0M535 264.9h0M555.7 260.3h0M490.8 282.7h0M479.6 265.7h0M515 274h0M549.1 255.5h0M496.7 286h0M474.7 267.9h0M496 275.3h0M500.4 271.6h0M477.7 270.1h0M495.5 279.9h0M509.1 272.1h0M536.6 260.7h0M476.8 264.1h0M472.4 277.4h0M547.5 263h0M533.2 258.7h0M486.2 282.5h0M476.1 280.3h0M491.9 275.6h0M473.9 280.6h0M544.1 260.1h0M493 272.3h0M512.1 275.8h0M475.6 280.8h0M530.8 268.5h0M475.9 280.3h0M474.8 277.3h0M525.6 263.8h0M506.6 279.2h0M509.6 276.3h0M489.7 279.3h0M487 266.7h0M486 282h0M547.2 251.9h0M475.2 279.2h0M524.2 258.5h0M492.5 277.6h0M472.1 273.2h0M539.9 259.6h0M506.3 274.5h0M547.7 257h0M548.9 259.2h0M555.7 259h0M552.5 256.5h0M545.1 264.3h0M498.1 279.5h0M503.5 275.6h0M534.9 253.3h0M525.2 271.5h0M538 251.8h0M536.8 267h0M545.3 250.6h0M520.6 272.9h0M536.9 258.4h0M501.5 281.9h0M480.7 269.1h0M521.9 265.1h0M503.3 282.7h0M556.8 260h0M517.8 270.1h0M535.4 263.7h0M504.6 278.2h0M533.2 264.3h0M511.8 276.1h0M522.8 267.3h0M519.1 277.1h0M502.2 272.4h0M531.1 268.1h0M532.3 262h0M530.8 262.9h0M481 268h0M475.8 267.1h0M492.8 270.7h0M472.4 269.4h0" stroke="#17A0F0" stroke-width="1.7" stroke-linecap="round" fill="none"/>
<path d="M503.4 149.9h0M516.2 145.2h0M515.8 142.4h0M519.6 151.5h0M543.5 151.1h0M516.9 139.9h0M517.7 160.6h0M529.1 148.5h0M517.9 148.1h0M545.3 131.5h0M511 147.5h0M513.9 156h0M540.3 143.4h0M506.8 152.5h0M528.4 157.7h0M509.5 148.8h0M507.7 152.2h0M529.3 136.2h0M536.6 142.2h0M536.2 143.3h0M537.2 154.2h0M529.8 159.5h0M524.7 156.3h0M522.5 153.2h0M527.7 148.8h0M530.4 152.7h0M541.5 146.1h0M525.6 160h0M533.7 158.1h0M529 144.1h0M509.4 151.4h0M517.1 138h0M537.7 152.1h0M535 138.6h0M538.3 155.8h0M528.9 161.4h0M541.1 139.6h0M526.5 155.7h0M510.9 140.1h0M512.5 147.2h0M540.3 146h0M523 159.8h0M542.7 143.2h0M520.6 136.6h0M535.6 142.4h0M544.4 159.2h0M538.9 158.4h0M517.6 153.3h0M518.2 154.2h0M528.9 134.3h0M518 153.5h0M519 148.6h0M520.1 154.5h0M545.8 133.6h0M509.9 151.6h0M520.3 141.8h0M506.5 143.8h0M533.8 143.2h0M526.9 140.9h0M537.4 148.2h0M526.7 138.7h0M513.2 156.9h0M516.6 157.1h0M517 154.3h0M532.3 134.6h0M538.9 154.9h0M511.3 153.3h0M522.6 159.5h0M517.4 152h0M541.1 134.2h0M504.5 147.2h0M506.7 151h0M523.4 149.2h0M523.5 155.8h0M519.2 155.1h0M522.9 141.2h0M503.3 141.5h0M507.3 151.3h0M525.6 162.3h0M514.3 156.8h0M527.9 160.3h0M522.5 147h0M545.8 142.5h0M508.4 152.9h0M544.9 146.7h0M521.3 154.6h0M517.5 137.6h0M516.6 152.6h0M541.9 134.6h0M522.7 144.7h0M502 141.4h0" stroke="#1FB35B" stroke-width="1.7" stroke-linecap="round" fill="none"/>
<path d="M544.5 143.3h0M527.1 153h0M542.8 159.5h0M530.1 156.4h0M543.9 156.5h0M546.2 155h0M557 158.7h0M537.3 152.5h0M535.5 158.4h0M557.1 148h0M540 149.2h0M535.4 150.5h0M556.9 148.9h0M548.5 153.1h0M543.2 145.2h0M561.1 152.2h0M541.3 147.9h0M532.3 152.3h0M534.6 156.3h0M541.6 158.2h0M546.6 151h0M550.4 150.4h0M534.4 155.6h0M529.4 153.4h0M534.5 153.6h0M532.3 151.3h0M551.5 144.9h0M556.7 151.1h0M561.5 155.5h0M551.3 153.5h0M536.2 151.9h0M550 150.7h0M536.6 155.3h0M547.5 157.6h0M536.8 153.5h0M535.3 157.1h0M555.6 149.2h0M550.1 153.7h0M534.9 150.8h0M541.3 146.4h0M529.6 152.1h0M553.9 157.8h0M555.3 156.9h0M546.5 157.6h0M540.7 145.9h0M536.7 154.7h0M552.1 149.5h0M554.8 146.3h0M550.3 147.6h0M542.9 150.1h0M546.1 147h0M555.6 155.8h0M548.6 157.2h0M539.1 146.5h0M534.3 147.1h0M555 158.4h0M555.4 146.9h0M530.9 149h0M542.9 157.3h0M536.8 151.9h0M546.2 150.1h0M534.1 157.7h0M545.3 150h0M543.6 146.1h0M528 151.3h0M538.7 158.3h0M555.7 155.5h0M546.4 154.8h0M546.2 151.9h0M562.7 156.8h0M549.4 147.6h0M550.5 146h0M551.7 156.3h0M558.9 155.9h0M527.7 158.5h0M536.6 150.3h0M553.9 146.2h0M546.6 154.1h0M544.1 144.3h0M538.7 146.3h0M529.8 151.9h0M543.1 156.2h0M531.2 153.5h0M561.3 151.5h0M546.7 158.4h0M545.7 149.7h0M539.7 146.8h0M535.5 155.8h0M552.3 157.6h0M553.4 148.9h0M556.9 149.7h0M547 155h0M534.6 159.2h0M540.9 154.1h0M557.7 154.6h0M540.1 149.8h0M545.3 156.7h0M535.8 146.8h0M531.4 158.4h0" stroke="#1FB35B" stroke-width="1.7" stroke-linecap="round" fill="none"/>
<path d="M534.1 168.4h0M512.8 159.5h0M518.3 159.5h0M538.7 157.4h0M549.9 164.4h0M516.6 168.5h0M537.2 160.9h0M553.5 166.4h0M550 167.1h0M522.4 166h0M530.4 165.3h0M529.4 157.7h0M533.6 170h0M552.4 160.3h0M522.9 168.1h0M505.9 160.2h0M543.2 166.4h0M529.9 157.5h0M553.5 166.5h0M524.4 164.3h0M518.3 165.8h0M521.6 162.1h0M511.6 162.2h0M538.2 158.5h0M552.1 166.8h0M514.6 162h0M537.3 167.2h0M535.4 168.4h0M534.1 168h0M543.1 163.1h0M528.1 167.8h0M536.8 160.7h0M505.3 161h0M514.5 170.1h0M528.3 160.9h0M527.3 166.8h0M512.7 168.6h0M524.5 161.4h0M516.2 170.6h0M528 162.7h0M549.4 159.5h0M508.8 164.3h0M525.8 169.5h0M508.4 162.1h0M547 164h0M519.2 160.4h0M545 160.5h0M509.5 165.2h0M524.7 166.7h0" stroke="#7F1AAB" stroke-width="1.7" stroke-linecap="round" fill="none"/>
<path d="M565.2 162.4h0M561.1 161.3h0M553.5 161.1h0M556.4 156.5h0M563.4 162.2h0M555.6 161.3h0M563.3 172.4h0M560.4 173.3h0M552.6 168.2h0M561 152.9h0M563.6 155.3h0M555.4 171.4h0M557.5 165h0M552 168.9h0M567.2 170.2h0M558.7 170.7h0M568.3 174.5h0M562.6 173.5h0M556 157.8h0M565 175.4h0M548.2 155.3h0M570 166.8h0M574.5 164.3h0M572.4 170.3h0M567.7 172h0M560.4 158.5h0M547.4 160.1h0M570.8 173.6h0M562.7 151.8h0M570.3 160.9h0M571.9 164.5h0M571 158.6h0M558.6 154h0M554 160.9h0M564.1 162.8h0" stroke="#FF7B52" stroke-width="1.7" stroke-linecap="round" fill="none"/>
<path d="M497.3 168h0M499.3 171.7h0M505.2 168.2h0M499.1 169.2h0M505.1 169.9h0M505.7 171.1h0M501.4 168.6h0M497.7 167.6h0M501.8 171.2h0M498.5 169.4h0M497.3 167.4h0M502.4 169.3h0M495.8 170.6h0M496.4 168.4h0M506.7 166.1h0M499.4 170.8h0M506.9 170.5h0M495.3 171.1h0M500.8 168.7h0M506.6 168.5h0M499.4 167.4h0M504 169h0M498.6 171.3h0M502.5 170.8h0M501.1 167.7h0M498.5 166.9h0M496 167.2h0M499 171.8h0M505.2 171.9h0M507.6 168.7h0M502.6 168.7h0M495.2 169.2h0M507.4 169.5h0M507.3 169.1h0M506.4 167.2h0" stroke="#EE6FE8" stroke-width="1.7" stroke-linecap="round" fill="none"/>
<path d="M552.8 151h0M552.3 143.1h0M547.1 143.3h0M546.9 147.6h0M553.8 150.8h0M553.1 142.8h0M556 142.2h0M547.5 150.5h0M546.9 145.6h0M549.5 141.9h0M557.5 145.4h0M552.6 141.3h0M550.8 142.6h0M546 139.3h0M552.4 142.7h0M554.8 147h0M558.1 144.4h0M558.7 150.5h0M552.8 149.8h0M556.8 139.9h0M557.5 143.7h0M546.4 142.2h0M547.9 146.7h0M558.6 139.3h0M549.8 140h0M554.8 141.7h0M549.6 141.9h0M555.3 142.8h0M555.3 146.5h0M556.8 149.9h0M549.3 143.3h0M555.3 140.5h0M552.3 150.3h0M554.6 147h0M550.9 146.8h0M557.8 146.5h0M548.2 141.4h0M553.3 148h0M555.6 142h0" stroke="#EE6FE8" stroke-width="1.7" stroke-linecap="round" fill="none"/>
<path d="M505.6 140.5h0M509 155.7h0M507.1 149.8h0M510.3 155.7h0M509 145h0M508.2 143.9h0M505.4 139.9h0M512.1 156.9h0" stroke="#1ECCD6" stroke-width="1.7" stroke-linecap="round" fill="none"/>
<path d="M531.1 132.2h0M506.1 154.7h0M528.2 156.9h0M538.6 137.6h0M541.9 123.9h0M517.2 150.3h0M536 153.4h0M533.5 129.8h0M509.9 150h0M525.9 142.7h0M522.6 122.6h0M511.8 144.2h0M539.2 137.4h0M540.3 149h0M537.4 156.1h0M508.2 153.8h0M538.2 157.8h0M533.6 136.2h0M525.4 127h0M517.4 127.2h0M507.3 146.3h0M503.9 132.2h0M519.2 154.3h0M528.7 121.7h0M530.4 141.4h0M531.3 146.4h0M520.8 122.1h0M520.5 135.7h0M510.8 128.7h0M531 146.8h0M508.2 130.3h0M504.3 150.1h0M529.5 145.6h0M519.5 140.5h0M521.9 136h0M526.9 130.7h0M505.4 131.5h0M541.8 121.5h0M543.3 127.8h0M522 150.1h0M538.8 136.1h0M532.7 122.5h0M522.3 128.6h0M527.2 130h0M534.5 145.3h0M509.5 157.5h0M528.5 139.4h0M512.6 142.7h0M520.9 137.5h0M506.3 147.1h0M536.9 152.7h0M508.6 127.3h0M512 131.5h0M542.6 157.3h0M527.6 154h0M539.8 156.5h0M516.9 121.5h0M511.2 131.7h0M540.6 153h0M505.2 136.9h0M523.2 129.8h0M502 138.3h0M522 134.8h0M535.1 144.5h0M513.2 156.2h0M527.9 151h0M510.5 139.7h0M537.6 136.1h0M518.4 135.3h0M517 130h0M510.8 123h0M500.7 126h0M534 147h0M525.6 128.4h0M542.3 128.5h0M527.3 126.7h0M499.6 127.2h0M524.8 130.7h0M528.9 145.9h0M518.4 128.4h0M514 152.2h0M530.4 155.9h0M511.2 154.2h0M510.4 124.7h0M509 130.6h0M516.1 154.3h0M518.6 137.3h0M503.4 138.3h0M514.8 125.1h0M521.9 132.9h0M498.4 122.6h0M522.2 132.6h0M521.2 156.2h0M537.8 153.8h0M521 125h0M514.9 152.2h0M527.7 138.9h0M540 149.1h0M534.3 124.4h0M503.2 127.2h0M533 152.3h0M540.4 151.4h0M531.9 155.5h0M509.8 136.6h0M541.6 146.1h0M529.5 136.6h0M540.6 145.2h0M524.1 150.8h0M505.2 127.3h0M505.7 148.6h0M520.9 142h0M525.9 123.6h0M543.1 137.8h0M534.7 156.4h0M524.9 137.6h0M536.3 148.1h0M529.7 123.5h0M511.1 133.3h0M535.4 144.7h0M511.4 155.5h0M517.9 139.6h0M525.1 127.5h0M519 134.1h0M512.6 133.7h0M528.8 145.8h0M542.8 124.5h0M509.6 151.4h0M540.9 153.7h0M532.8 150.8h0M527.8 129.1h0M524.4 150.8h0M530.2 132.3h0M516.7 152.3h0M497.7 122.6h0M537.3 135.4h0M534.6 124.9h0M536.2 132.6h0M537.4 127.1h0M518.9 131.6h0M513.4 127.9h0M507.5 132.5h0M526.6 146.3h0M505.8 150.9h0M516.9 140.6h0M540 146.3h0M528 147h0M527.7 152.8h0M531.7 155.7h0M515.2 139.4h0M519.3 129.1h0M520.9 122.7h0M522.9 141.7h0M500.2 133.8h0M522.7 134.5h0M508.1 157h0M527.5 132.5h0M512.4 133.5h0M521.5 139.8h0M533.3 127.3h0M533.4 142.9h0M502.9 124.1h0M530.7 153.7h0M501.9 132.1h0M533.1 127.7h0M517.1 143.7h0M529.4 125.1h0M543.4 154.2h0M535.7 129.9h0M512.7 149.5h0M504.2 136.8h0M514.3 151.5h0M530.7 156.2h0M528 131.1h0M511.7 133.9h0M510.3 136.9h0M506.2 129.4h0M533.9 125.4h0M528.1 136.6h0M513.9 157h0M514.6 138.9h0M510.2 153.1h0M534.6 150.8h0M540.2 145h0M518.1 125.4h0M524.2 126.1h0M534.8 121.2h0M507.5 141.8h0M530 122.1h0M521.1 149.4h0M541 125.9h0M533.3 132.9h0" stroke="#fff" stroke-width="1.2" stroke-linecap="round" fill="none" stroke-opacity="0.85"/>
<path d="M561.1,249.3 554.9,263.4 560.2,266.4 579.6,260.6 579.7,260.5 591.7,258 591.7,258 602.7,256 614.7,253.5 625.4,251.1 630.6,248.1 631.4,243.6 627.3,239.9 619.9,238.5 610.2,239.5 600.3,241 590.3,243 590.2,243 575.3,245.5 561.1,249.3Z" fill="#1ECCD6" />
<path d="M593.1 241h0M569.7 263.9h0M566.8 246.5h0M628 239.1h0M594.8 258.3h0M559.5 266.6h0M569.4 244.3h0M623.9 252.2h0M626.4 237.1h0M628.9 249.8h0M623.5 252.5h0M612.8 254.3h0M579.1 264.2h0M607.4 237.6h0M564.5 246.1h0M575.3 244.2h0M557.2 255.2h0M626.1 237.2h0M579.8 243.7h0M622.9 252.3h0M558 249.8h0M629.2 248.9h0M565.7 245.9h0M562 268h0M602 258.8h0M600.5 237.2h0M576.4 245h0M593.1 259.6h0M588.4 259.6h0M615.9 237.3h0M584.2 242.6h0M631.6 244.3h0M583.7 260.9h0M586.7 262.9h0M628.1 238.6h0M564.2 244.3h0M575.7 243.1h0M597.4 238.9h0M612.5 256.1h0M612.8 256.6h0M556.1 256.2h0M601.7 240.1h0M559.4 251.5h0M597.4 239.8h0M607.6 259h0M632.4 248.7h0M605.2 239.2h0M586.2 259.5h0M567.5 247.5h0M618.8 238h0M630.9 249.7h0M565.2 265.4h0M622.3 236.4h0M623.3 252.8h0M613.7 254.2h0M632.8 249.8h0M605.9 239.2h0M628.4 253.9h0M578.9 244.2h0M604.8 255.7h0M560.2 267.2h0M567.5 264.9h0M604.7 238h0M563.7 247.9h0M622 237.4h0M557.5 252h0M629.1 250.9h0M593.2 258.2h0M602.5 237h0M588.8 240.3h0M551.6 261h0M609.3 239.2h0M631.5 249.9h0M602.5 240.5h0M564.3 247.9h0M631.5 241.9h0M592.6 240.3h0M614.7 237.4h0M614.5 254.1h0M630.8 248.4h0M623.8 252.5h0M565.8 246.2h0M591.3 259.4h0M588.1 259.6h0M574.1 244.7h0M620.7 237.4h0M579.9 242.7h0M633.4 245.7h0M564.2 246.8h0M610.6 254.9h0M576.9 262h0M576.8 243.7h0M611.4 238h0M594.8 260.8h0M560.6 248.2h0M555.4 258.8h0M598.1 258.3h0M589.4 243h0M599.8 237.8h0M612.4 238.7h0M621 236.5h0M555.5 260.9h0M597.2 240.7h0M594 240.8h0M633 245.3h0M577 261.7h0M631.4 250.3h0M586.1 243.5h0M631.6 245h0M605.6 256h0M566.9 247.5h0M609.4 255.1h0M593.7 241.3h0M604.6 256h0M632.8 241.5h0M603.5 238.5h0M632.9 248.1h0M605.3 255.7h0M560.8 266.8h0M627.2 251.4h0M615.5 235.8h0M629.6 251.8h0M620.7 237.3h0M633.3 248.2h0M574.5 262.9h0M552.8 265.1h0M572.4 245.6h0M569.5 264.4h0M559.6 269.3h0M606.5 256.5h0M606.4 255.3h0M623.7 252.6h0M613.5 236.9h0M587.5 242.4h0M620.7 237.6h0M599.8 257.2h0M588.1 258.8h0M579.9 244.4h0M595.4 258.2h0M554.5 262.9h0M622 253.9h0M616 254.4h0M601.3 239.9h0M593.5 241.3h0M559.4 266.8h0M622.1 238h0M600.5 239.5h0M558.5 255.1h0M610.8 254.6h0M600.6 258.8h0M600.3 257.7h0M580.5 261.7h0M608 255.1h0M557.6 268h0M631.5 247.3h0M605.2 255.8h0M556.8 252.8h0M611.9 236.8h0M632.7 248.6h0M588.4 241.8h0M596.8 257.6h0M632.9 243.8h0M595.5 239.7h0M604 236.5h0M596.1 239.3h0M554.7 261.3h0M629.7 240.6h0M552.7 265.1h0M630 238.1h0M589.2 259.4h0M604.1 259.6h0M577.6 242.9h0M594.6 239.1h0M568.6 244.9h0M625.7 238.9h0M613 257.7h0M578.7 264.2h0M631.3 245h0M617.1 253.6h0M593.6 238.9h0M571.4 245.3h0M573 244h0M594.3 242.1h0M600.8 256.9h0M554.2 260.2h0M623.7 237.7h0M594.8 258.6h0M574.3 263.9h0M587.4 261.7h0M572.9 243.5h0M622.6 239h0M616.4 238h0M575.8 244.3h0M617.5 255.8h0M630.2 240.1h0M621.1 236.5h0M601 260.4h0M568.3 245.4h0M559.6 248.6h0M595.6 259.6h0M571.6 263.6h0M587.8 260.8h0M632.6 245.7h0M585.6 242.2h0M615.2 237.2h0M598.3 240.4h0M591.6 241.3h0M559.3 246.1h0M586.3 260.9h0M606 239.7h0M632.7 248.3h0M616.6 256.3h0M558.5 253.7h0M606.7 256.5h0M582.4 241.8h0M584.5 259.6h0M598.4 258.2h0M609.2 238.5h0M563 267.1h0M585 262h0M559.3 250h0M626.5 239.5h0M606.5 256.5h0M579.6 241.6h0M591.2 240.5h0M627.7 239.8h0M575.6 263.6h0M598.8 237.8h0M631.2 247.7h0M556.5 257.6h0M553.9 256h0M575.8 263.5h0M594.1 241.5h0M623.8 238.3h0M579.2 262h0M591.1 241.5h0M554.7 265.2h0M630.1 250.2h0M554.3 263.7h0M584.2 241.1h0M557 265.7h0M559.9 247.7h0M593.7 259.6h0M604.6 258.5h0M604.8 258.1h0M559.2 267h0M631.2 239.5h0M555.6 260h0M628.4 250.6h0M580.8 262.3h0M598.5 239h0M561.8 266.5h0M580.4 242.3h0M556.8 254h0M631.2 239.1h0M625.8 253.7h0M573.1 245.7h0M574.1 242h0M591.1 259.9h0M627.5 239h0M593.1 242h0M632.2 249.1h0M601 256.5h0M565.4 245.5h0M621 254.2h0M613.4 254.7h0M605.3 238.7h0M623.8 251.9h0M564.9 265.5h0M624.5 239.2h0M598.7 240.9h0M631.3 244.8h0M609.9 256.1h0M626.1 239.4h0M562.9 247h0M629.8 250.9h0M592.3 241.9h0M567.9 266.8h0M616.3 238.6h0M607.1 257h0M595.1 239.4h0M579 261.9h0M566.9 264.7h0M603 239h0M624.9 252h0M554.4 258.2h0M553.8 265.4h0M623.6 237.1h0M586.2 262.8h0M596 258.2h0M566 266h0M568.8 264.6h0M581.1 243.2h0M580.5 244.5h0M598.1 240.9h0M562.5 266.9h0M571.6 264.5h0M618.1 237h0M584.4 262.1h0M561 268.7h0M594.7 241.5h0M569.5 245.7h0M598.6 239.4h0M622.6 252.4h0M556.7 267.3h0M629.1 237.4h0M628.5 250h0M616.1 253.8h0M622 252.2h0M564.1 267.1h0M620.7 252.6h0M567.7 265.8h0M571.1 265h0M626.2 237h0M564.7 248.1h0M631.1 250.8h0M619.1 234.7h0M592.5 258.7h0M579.4 243.3h0M619.3 237.5h0M563 246.1h0M585.9 241.9h0M584 243.5h0M631.5 247.2h0M607.5 236.9h0M557 267.6h0M612.1 238.8h0M616 253.8h0M554.1 259.6h0M593.7 242h0M561.3 267h0M587.8 242.3h0M629.2 241.5h0M561 266.9h0M563 247.7h0M627.2 238.3h0M562.3 248.9h0M601.3 239.6h0M582.5 260.4h0M566.2 265.7h0M590.2 259.8h0M556.2 250.1h0M631.8 242.5h0M631.9 249.7h0M591.1 260.1h0M628.7 252.2h0M617.3 255.2h0M556.3 256.1h0M623.4 253h0M583.8 261.2h0M604.5 256.7h0M582.7 243h0M633.8 243h0M623.1 238.7h0M557.8 254.7h0M555.8 254.2h0M596.2 240.7h0M586.3 261.6h0M631.6 241.1h0M615.2 236h0M616.7 238h0M609.2 236.8h0M557.2 256.5h0M624.1 237.6h0M584.4 261.3h0M631.7 242.7h0M616.7 254.9h0M571.9 265.9h0M629.9 236.2h0M622.1 238.9h0M562.3 266.1h0M604.7 239.5h0M576.8 243.7h0M615 236.4h0M559.8 267.4h0M633.9 245.4h0M560.7 267h0M557.5 254.3h0M613.9 253.8h0M561.7 268.2h0M556.3 259.2h0M558.2 246.8h0M593.1 259.7h0M632.5 241.3h0M560.4 266.9h0M557.9 248.6h0M592.2 242.4h0M618 236.1h0M624.6 254.7h0M598 239.1h0M556.6 257.7h0M555.7 265.2h0M623 254.5h0M584.3 243.6h0M553.8 259.3h0M600.2 257h0M630.7 242.1h0M626.2 251.3h0M631.9 245.5h0M568.8 245.9h0M590.1 241.8h0M622.7 238.7h0M588.3 240.4h0M591.4 258.2h0M564.2 247.6h0M566.5 266.4h0M613.5 236.1h0M581.4 242.4h0M618.9 237.6h0M555.6 252.3h0M582.6 243.2h0M624 237.5h0M625.9 251.1h0M609.5 239.4h0M559.2 267.2h0M566.5 264.7h0M575.3 245.4h0M556.1 265.1h0M557.2 249.2h0M551.8 264.6h0M558.4 251.5h0M569.3 264.5h0M619 237.2h0M616.6 253.3h0M624.6 238.2h0M564 245.7h0M557.6 267.7h0M581.7 243h0M633.6 245.3h0M612.2 255.3h0M623.2 235.2h0M562.9 266.4h0M616.5 253.2h0M607 256.7h0M565.2 265.9h0M574.4 263.9h0M584 260.5h0M625.3 238.3h0M607.1 239.9h0M622.5 252.9h0M559.2 250.8h0M607.7 258h0M587.5 259.6h0M619.6 237.8h0M594.8 239.8h0" stroke="#1ECCD6" stroke-width="1.7" stroke-linecap="round" fill="none"/>
<path d="M556.8 246.1h0M541.9 248.6h0M552 264.8h0M546.4 252.3h0M559.2 245.6h0M559.4 261.5h0M546.6 258.5h0M541.2 261.9h0M559.3 262h0M543 250.6h0M547.1 246.9h0M555.1 263.8h0M557.8 246.6h0M563.8 261.8h0M559.6 251.6h0M546.4 256.5h0M553.6 257.5h0M550 264.4h0M547.2 262.2h0M554.7 257.7h0M544.1 264.4h0M548.7 251.9h0M546.4 248h0M548.5 253.5h0M544.4 260.4h0M563.1 259.4h0M554.2 249.5h0M556.5 254.4h0M551.7 259.8h0M559.4 252.6h0M563.2 258.8h0M543.7 251.6h0M544.8 261.8h0M560 255.8h0M551.8 249.4h0M544 264.9h0M545.3 262.6h0M548.4 261.8h0M553.8 248.2h0M542.4 254.8h0M555.5 254.2h0M550.6 246.6h0M555.4 249.3h0M551.3 258h0M553.6 256.6h0M549.3 251.6h0M548.8 262.8h0M551.7 249h0M557.7 255.3h0M556.4 264.4h0M545.3 257.8h0M548.4 256.2h0M550 250.7h0M546 250.2h0M549.6 263.2h0M557 260.2h0M551.7 265.6h0M556.9 254.8h0M555.7 255.1h0M547.3 258.6h0M552.2 262.3h0M549 257.1h0M549.9 257.1h0M555.6 253.6h0M555 251.6h0M551.6 260h0M554.4 247.8h0M551.8 264.1h0M544 250.6h0M541.5 251.5h0M543 247.7h0M540.1 250.3h0M555.9 253h0M559.6 253.8h0M541.8 257.5h0M551.8 250.9h0M546.8 256.6h0M543.9 260.1h0M558.6 244.9h0M548.6 257.9h0M563.1 262h0M550.2 265.3h0M556.7 246.2h0M560.9 253h0M551.1 253.1h0M540.5 248h0M545.1 255.8h0M555.5 264.4h0M540.1 251h0M540.5 254.1h0M554.2 260.7h0M542.7 262.8h0M545.1 251.2h0M550.5 252.7h0M546.9 266h0M552.7 254.8h0M546.5 251h0M558.9 244.5h0M546.3 251.9h0M544.8 258.2h0M559.7 245.1h0M554.3 254.6h0M558.3 244.7h0M561.2 262.1h0M555.6 264.4h0M557.4 246.5h0M555.2 249.1h0M542.7 250.5h0M549.2 267.4h0M547.4 259.9h0" stroke="#1ECCD6" stroke-width="1.7" stroke-linecap="round" fill="none"/>
<path d="M520.1 264.2h0M536.5 265h0M531.8 258.4h0M547.5 250h0M537.8 264.6h0M536.2 257.2h0M540.5 250.1h0M540.1 250.8h0M544.5 250.8h0M545.3 251.2h0M533.1 254.5h0M539.7 263.9h0M540.8 259h0M547.1 258.9h0M523 267.5h0M539 256.1h0M517.1 263.9h0M517.2 266.7h0M529.3 258.7h0M540.4 257.2h0M547.1 262h0M523.4 259.2h0M549.3 259.4h0M520.7 265.7h0M533.4 265.9h0M525 270h0M528.6 260.2h0M547.1 249.4h0M532.9 259.4h0M545.2 255.5h0M547.3 260.4h0M527.2 259.1h0M542 248.5h0M521.1 264h0M528 270h0M516.8 262h0M528.4 257.2h0M523.6 261.7h0M548.3 256.1h0M534.5 265.8h0M552.4 254.7h0M542.3 263.5h0M538.1 260.1h0M528.1 257.2h0M535.9 257.1h0M534.8 259.7h0M544.8 251h0M536 252.1h0M535.2 265.6h0M547.4 256.4h0M520.1 262.5h0M526.2 269.5h0M533.8 254h0M543.4 248h0M539.4 250.7h0M551.1 258.3h0M522.8 268h0M535.4 266.5h0M526.1 256.6h0M544.4 260.3h0M528.9 270.4h0M540.2 262.4h0M545.4 260.3h0M534.1 262.6h0M531.3 266.6h0" stroke="#1ECCD6" stroke-width="1.7" stroke-linecap="round" fill="none"/>
<path d="M605.6 241.6h0M602.7 245.1h0M608 241.2h0M611.9 245.5h0M586.8 243.4h0M621.3 238.6h0M594.5 245.4h0M566.3 250.1h0M563.8 250.7h0M623.6 241.1h0M584.1 244.4h0M625.1 239.6h0M581.7 248.9h0M563.4 253h0M595 243.1h0M558.3 255.2h0M599.3 244.2h0M557.4 251.9h0M622.2 244.2h0M624.6 240.1h0M584.2 247.9h0M613.3 242h0M622.2 243h0M583.5 249.7h0M617.6 239.8h0M565.6 247.6h0M604.1 240.9h0M563.3 247.9h0M604.1 241.5h0M589.5 246h0M594 245.3h0M588.7 244h0M611.2 242.3h0M608.9 244.5h0M557.7 250.7h0M612.3 243.4h0M568.4 252.3h0M579.4 247.9h0M598.9 245.3h0M608.5 245.9h0M600.1 246.8h0M605.6 246.2h0M608.5 241.9h0M603.1 242.8h0M572 249.8h0M566 254.1h0M619.2 243.5h0M571.8 246h0M588.3 244.6h0M560.2 251.8h0M613 239.9h0M584.2 245.1h0M603.9 240.5h0M556.8 250.8h0M609.7 242.4h0M568.5 248.5h0M626.7 242.3h0M559.1 255.8h0M575 251.9h0M563.2 248.7h0M570.6 250.4h0M584.7 245.7h0M568 248.3h0M597.2 245.8h0M612 243h0M585.3 244.6h0M621.7 239.5h0M578.5 248.8h0M616.8 241.1h0M619.8 240h0M574.8 251.5h0M603.7 241.3h0M582.4 245.4h0M582.9 247.2h0M601.9 242.7h0M607.5 243.6h0M565.7 248.3h0M569.7 251h0M584.7 246.1h0M558.2 254.8h0M607.6 244.6h0M587.6 244.3h0M622.1 242.7h0M585 243.7h0M624.4 243.8h0M625.8 241.4h0M574.8 249h0M590.9 246h0M612.4 243.1h0M617.4 243.7h0M600 242h0M571.6 246.1h0M627.1 242.7h0M571.8 248.4h0M558.4 252.7h0" stroke="#1FB35B" stroke-width="1.7" stroke-linecap="round" fill="none"/>
<path d="M563.3 256.2h0M561.9 261.8h0M606.2 245.6h0M580 251.7h0M605 251.9h0M561.8 259.4h0M599 252h0M605.7 250.9h0M563.1 260.5h0M579 258.7h0M566.4 250.4h0M614.3 250.3h0M620.8 245.6h0M595.9 256.6h0M601.9 241h0M603.7 245.6h0M620.7 243.3h0M599.9 250.7h0M627.5 245.2h0M615.3 250.6h0M574.9 261.3h0M603.3 246.4h0M583.2 245.2h0M581.3 254.7h0M560.7 263h0M595 242h0M623.2 243.2h0M583.5 251.6h0M561.1 265.3h0M588.5 246.6h0M571.7 255.2h0M578.6 251.7h0M563 264.8h0M629.4 247h0M599.3 244.4h0M584.1 244.3h0M597.6 256.3h0M619.7 239.1h0M609.2 250.1h0M599.7 251h0M613.6 250h0M580.6 258.6h0M599.9 242.5h0M562.5 254.1h0M625.8 246h0M567.2 250.9h0M623.9 250.9h0M611.7 247.5h0M584.9 245.2h0M557.8 259.2h0M592 246.9h0M571.8 262.3h0M581 258.1h0M625 242.6h0M608.7 245h0M620.3 242h0M621.7 246.7h0M590.8 244.9h0M620.7 251.5h0M612 242.2h0M600.2 243.1h0M591.4 255.4h0M609.9 248.1h0M587.6 245.1h0M573.3 252.2h0M591.9 254.1h0M619.4 244.9h0M563.9 253.1h0M565.5 263h0M559.2 258.1h0M613.1 248.8h0M564.4 248.5h0M605 250.4h0M619.1 252.3h0M588.5 250.4h0M628.3 249.2h0M558.8 256h0M592.2 248.3h0M597.6 255.8h0M581.7 256.4h0M567.6 255h0M594.5 251.2h0M557.2 261.6h0M580.4 252.9h0M574.1 248.6h0M613.8 251.5h0M596.8 245.7h0" stroke="#fff" stroke-width="1.2" stroke-linecap="round" fill="none" stroke-opacity="0.85"/>
<path d="M618.9 256.6h0M641 284.8h0M610 264.5h0M618.3 269.7h0M652.9 292.8h0M627.9 263.8h0M631.8 262.6h0M638.8 273.5h0M649 276.4h0M621.1 267.5h0M641.8 285.3h0M614.8 264.1h0M609.8 267.2h0M683.5 253.8h0M643.4 276.3h0M681.4 264.4h0M642.2 279.8h0M679.9 283.6h0M681 270.8h0M624.7 269.9h0M623 263.1h0M679.8 271.9h0M615 265.7h0M636.5 275h0M682.1 270.1h0M672.3 288.6h0M606 258.2h0M631.6 261.6h0M683.2 257.2h0M673.9 285.1h0M685.5 258.8h0M620.5 258h0M664.5 284.3h0M636.5 285.4h0M625.4 268.5h0M613 256.5h0M636.1 273.1h0M682.1 259.2h0M677 282.3h0M612.5 258h0M622.3 263.8h0M663.4 294h0M655.5 290.1h0M679.3 273h0M631.3 272.1h0M636.4 264.4h0M629.9 267.8h0M681.4 263.9h0M611.3 262.3h0M611.9 267.7h0M641.7 279.8h0M655 290h0M669.6 294.1h0M608 265.4h0M685.4 265.4h0M607.9 262.1h0M674.9 282.2h0M633.7 278.1h0M677.4 278.5h0M612.2 259h0M685.9 255.4h0M617.9 270h0M685.9 254.9h0M675.7 278.9h0M656.6 285.6h0M614.4 264.4h0M647.3 272.1h0M625.3 265.9h0M681.1 261.9h0M656.1 278.3h0M607.6 259h0M667.7 290.4h0M686.4 267.3h0M625.8 269.7h0M691.1 246.7h0M662.8 292.7h0M625.3 264.3h0M617 260.3h0M686.2 266.8h0M690.4 240.6h0M619.4 263.3h0M683.8 274.5h0M617.3 264.2h0M625.2 261.4h0M637.5 265.1h0M641.6 278.2h0M667.5 282h0M665 291.8h0M622.3 262.3h0M635.8 279.2h0M684.7 263.8h0M681.1 277.1h0M672 284.7h0M611.6 263.1h0M685.9 264.6h0M687.3 256.1h0M619.5 268.5h0M687 266.8h0M648.8 276.3h0M624.2 262.5h0M678.6 282.2h0M649.8 280.6h0M676.1 286.4h0M640.7 286.4h0M648.9 281h0M620.3 260.8h0M650.8 285.4h0M670.3 290.8h0M661 287.5h0M622.9 270.9h0M655.5 290.4h0M626.8 261.3h0M648.7 275h0M673.8 291.6h0M637.4 283.9h0M614.3 261.4h0M611.8 265h0M676.4 286.8h0M669.8 291.8h0M632.3 281.6h0M632.6 271.4h0M632 279.1h0M656.4 279.7h0M618.9 260.4h0M639.3 287.2h0M689.4 238.8h0M672.1 282.6h0M689.7 238.2h0M610.5 263.9h0M649.9 286.3h0M659.3 283.7h0M689.3 253.4h0M628.1 267.1h0M645.6 277.1h0M608.2 259.6h0M644.7 282.1h0M687.7 247.6h0M638.2 267.9h0M683.7 255h0M687.7 259.7h0M672.8 278h0M688.6 250.4h0M662.9 288h0M685.1 257.4h0M681.1 281.9h0M669 282.9h0M673.2 288.1h0M689.2 257.4h0M688.8 254.1h0M686.4 252.6h0M627.7 261.4h0M627 279h0M661.2 292.6h0M649.2 277.3h0M665.1 282.3h0M644.2 281.2h0M625.7 262.4h0M679 285h0M612.4 262.2h0M657 288.6h0M649.8 281.1h0M639.4 285.7h0M688.3 254.9h0M657.3 290.8h0M676.9 275.8h0" stroke="#9BE872" stroke-width="1.7" stroke-linecap="round" fill="none"/>
<path d="M635.8,277 629,277.7 632.8,280.1 643.8,286.1 654.9,291.1 665.6,294.4 674.4,290.7 681.5,283.5 684.1,274.8 685,265.9 685.4,258 684.8,258 683.5,265.2 683.5,265.2 681.5,275.2 681.5,275.3 681.4,275.4 677.9,283.4 677.9,283.5 677.8,283.6 677.8,283.7 677.7,283.7 677.6,283.8 671.6,288.3 671.5,288.4 671.4,288.4 671.3,288.4 671.2,288.5 664.2,290 664.1,290 664,290 663.9,290 663.8,290 663.8,290 655.8,288 655.7,287.9 655.6,287.9 645.6,282.9 645.5,282.9 635.8,277Z" fill="#9BE872" />
<path d="M685.1 257.8h0M679.5 286.9h0M668.8 288h0M682.7 281.2h0M685.5 256.9h0M668.6 288.3h0M656.2 286.8h0M658.1 286.1h0M633.6 273.9h0M662.5 289.1h0M651.8 289.7h0M681.1 273.3h0M687.2 258.8h0M677.8 281h0M686.4 261.7h0M676 289.1h0M678.7 287.5h0M645 288h0M626.4 277h0M645.4 282h0M679.1 279.9h0M674.7 284.4h0M673.7 292.5h0M640.9 278.9h0M664.3 294.9h0M672.8 286.7h0M681.6 274h0M663.4 294.3h0M627.2 275.9h0M646.7 290.5h0M670.3 293.6h0M675.5 284.1h0M683.8 255.3h0M679.8 277.2h0M650.9 291h0M644 286.6h0M649.5 289.1h0M669.2 293.4h0M681.9 266h0M639.2 276.1h0M630.1 275.3h0M663.6 296.3h0M684 280.7h0M671.5 287.2h0M685.7 262.9h0M626.5 277.8h0M658.9 292.9h0M646.5 288.2h0M684.1 275.3h0M685.2 263.1h0M679.1 275.3h0M633 281.4h0M684.9 271.8h0M675.4 285.3h0M677.9 280.5h0M640.1 279.3h0M641.4 278.3h0M633.8 277.1h0M672.6 285.6h0M686.3 257.9h0M647.4 287.8h0M655.3 287h0M656.2 286.8h0M685.2 269.7h0M683.5 278.4h0M637.8 278h0M659.1 287.2h0M643.3 279.9h0M634.2 281.1h0M632.4 281.2h0M683.7 280.9h0M646.3 282.1h0M639.5 278.5h0M673.1 284.8h0M682.4 265.1h0M653.2 284.9h0M684.4 257.9h0M681.1 271.1h0M667.7 288.3h0M685.7 258.1h0M653.7 286.9h0M632.4 281h0M685.7 256.6h0M679.6 287.6h0M630.8 279.6h0M677.4 281.4h0M657.5 292.1h0M685.9 259.4h0M683 278.6h0M629.7 279.4h0M657.7 292h0M626.4 278.2h0M678.9 288.5h0M637.6 276.2h0M656.9 287.5h0M656.6 287.2h0M680.7 275.1h0M645.2 288.8h0M679.9 273.2h0M684.7 257.9h0M630.8 276.4h0M640.3 285.1h0M630.3 276.1h0M645.1 282.6h0M666.7 294.9h0M679.2 277.3h0M679.8 275.4h0M665 288.7h0M683.3 265h0M681.9 285.9h0M654.9 286.7h0M682.3 265.1h0M647 288.8h0M640.9 278.4h0M638 277h0M648.3 288.4h0M685.5 258.9h0M630.2 279.2h0M629.6 279.5h0M648.7 289.2h0M686.7 262.5h0M632.6 280.5h0M628.1 278.8h0M644.1 280.4h0M684 260.8h0M667.8 295.2h0M651.2 290.5h0M670.6 292.3h0M675.5 282.5h0M682.1 267.7h0M626.4 276.9h0M685.5 262.8h0M644.3 281.7h0M647.6 288.6h0M678.6 276.6h0M678 287.7h0M682.1 257.4h0M635.1 274.4h0M682.4 270.4h0M646.7 290.1h0M642.9 286.9h0M678.5 287.6h0M633 282.1h0M648 288.4h0M637.6 277h0M644.6 287.7h0M681 286.4h0M667.7 286.7h0M666.8 288.2h0M676.5 284.3h0M660.7 294.6h0M677.7 283.4h0M629.3 277.6h0M683.4 265.4h0M683.6 280.7h0M643.6 278.6h0M685.4 259.9h0M637.8 283.2h0M649 281.4h0M682.2 281.3h0M682.4 284.2h0M666.2 295.3h0M680.5 286h0M641.1 277.9h0M629.8 278.9h0M684.3 278.5h0M684.1 278.9h0M677.6 278.2h0M632.9 281.3h0M631.3 281.9h0M635.2 276.4h0M659.3 292.8h0M657.3 293.2h0M681.8 261.7h0M687.6 258.6h0M684.5 277.9h0M679.4 274.9h0M686.4 260.2h0M677.7 289h0M640.5 285.7h0M685.9 267.6h0M643 281.4h0M678.7 278.5h0M685.1 271.7h0M627.1 276.7h0M664.7 294.9h0M636 275.6h0M685.9 267.6h0M685.6 276.1h0M685.4 269h0M639.5 284.4h0M640.2 285.7h0M685 273.7h0M682 261.3h0M685.7 268.6h0M658.7 292.4h0M680.6 287.2h0M664.1 294.9h0M656.4 291.8h0M658.5 293.8h0M686.6 272.3h0M686 277.1h0M643.5 286.6h0M625.3 276.6h0M686.7 255.7h0M636.1 274.3h0M679.1 280.5h0M635.8 275.7h0M677.2 288.9h0M656.4 293.4h0M670.2 293.5h0M639.1 285.1h0M659.1 288.2h0M635.9 275h0M651 284.3h0M630.6 278.9h0M685.4 272h0M685.7 262.2h0M685.9 268.4h0M684.7 258h0M654.4 287.3h0M680.5 274.9h0M673.1 286.1h0M646.5 289h0M684.2 277.4h0M682.9 279.1h0M679.8 276h0M684.5 274.7h0M681.8 261.2h0M686 258.9h0M680.4 284.8h0M663.6 296.5h0M652.1 290.1h0M683.2 259.1h0M636.2 275.9h0M667.7 288.7h0M663 288.6h0M683.7 279.9h0M671.8 293.7h0M671.9 285.8h0M663.8 296.6h0M639.5 276.8h0M652.1 285h0M632.1 276.8h0M661.8 287.2h0M686.6 269.9h0M632.8 276.7h0M654.9 292.1h0M674.1 284.7h0" stroke="#9BE872" stroke-width="1.7" stroke-linecap="round" fill="none"/>
<path d="M619.1 261.6h0M612.4 260.6h0M616.2 265.7h0M604.6 255h0M617.6 262.2h0M611.7 263.6h0M601.7 257.6h0M611.4 259.9h0M613 258h0M634.4 275h0M613.7 264.4h0M612.7 261.8h0M614.8 267h0M619.4 267.4h0M604.7 256h0M614.9 259.4h0M619.4 269.1h0M609.8 254.1h0M618.1 266.4h0M621.9 266.3h0M626.9 272.2h0M615.8 263.5h0M628.2 276h0M623.4 271.4h0M623.4 265h0M619.2 261.2h0M601.8 251.9h0M635 273.2h0M628 272.9h0M625.9 269.4h0M623.9 272.3h0M614.9 257.1h0M600.4 254.3h0M610 260.2h0M608.6 253.9h0M613.7 257.8h0M613.1 266.7h0M614.1 266h0M611.1 263.6h0M605.6 258.1h0M622.5 272.2h0M626 271.8h0M609.8 261.4h0M624.6 275.3h0M612.3 262.3h0M627.9 275.9h0M618.3 267.9h0M631.2 272.4h0M622.7 264.2h0M615.4 269.4h0M604.1 256.8h0M633.2 275.4h0M599.8 255.8h0M607 259.7h0M609.7 264.2h0M627.3 271.7h0M622.6 270.4h0M613.9 265.4h0M616.8 259h0M614.8 261.9h0M601.7 257.3h0M634.2 274.2h0M610 262.7h0M606.1 260.3h0M629.1 269.9h0M615.6 261.6h0M622.1 265.4h0M617.1 259.8h0M620.6 269.2h0M611.8 260.4h0M629.3 274.6h0M611.5 264.8h0M616.2 261.8h0M618.9 271h0M609 263.5h0M615.1 258.1h0M614.8 262.4h0M602 256.3h0M608.4 262.4h0M627.7 268.4h0M629.5 274h0M612.5 258.2h0M608.8 252.7h0M605 258.4h0M635 274.7h0M620.7 270.1h0M616.5 263.6h0M606 253.8h0M618.2 260.5h0M611.6 257.6h0M619.8 262.8h0M620.4 266.5h0M633.6 274.8h0M616.1 266.6h0M607.8 261.2h0M633.8 274.8h0M623.6 266.7h0M605 255.2h0M619.9 263.2h0M612.5 264.6h0M606.8 261.1h0M606 261.6h0M632.9 275.1h0M600.5 254.2h0M612.6 257.2h0M615.8 268.8h0M620.8 270.7h0M618.4 263h0M617.7 270.1h0M609.1 261.3h0M609 258.3h0M605.3 252.7h0M623.1 272.6h0M621.6 267.5h0M632.5 274.3h0M613.9 262.6h0M618.5 268.7h0M619.5 265.8h0M612.8 256h0M616.7 261.9h0M625.2 274.8h0M621.9 264.9h0M609.6 265.4h0M617.3 264.7h0M625.5 269.6h0M613.8 257.2h0M620.1 263.2h0M626.9 274.8h0M609.6 258.7h0M628.9 273.7h0M621.9 264h0M604.8 251.7h0M626.4 268.7h0M616.1 261.2h0M631.3 272.7h0M611.5 255.7h0M618.6 263.6h0M630.8 272.3h0M604.9 252.9h0M620.2 266.5h0M632.7 275.1h0M601 252.8h0M610.4 261.5h0M629.7 273.8h0M605.9 255.7h0M618.3 271.2h0M606.2 260.4h0M608 253.8h0M616.1 263h0M606.3 261.2h0M604.6 260.9h0M608.7 264.5h0M625.4 269.5h0M617.5 263.9h0M603 254.3h0M627.2 267.9h0M614 256.9h0M619.6 269.4h0M632.4 274.4h0M614.4 267.6h0M627.2 272.7h0M621.3 264.5h0M629.2 274.1h0M606.2 262.2h0M608.2 259.3h0M614.9 267.1h0M614.9 257h0M620.3 271h0M627.9 271.2h0M602.3 254.4h0M617.3 268.6h0M614.4 262.3h0M600.4 251.6h0M613.9 257.2h0M622.7 273.8h0M607.1 259.6h0M614.4 265h0M619.6 264.6h0M605.2 259.8h0M633.5 276.7h0M615.2 262.5h0M633.2 276.3h0M609.6 254.8h0M612.6 261.5h0M601.1 251.3h0M617.9 269.4h0M603.5 259.7h0M614.8 263h0M612.4 255.7h0M628 275.7h0M630.7 272.8h0M623.6 268h0M632.5 271.8h0M604.6 259.4h0M620.5 267.8h0M610.1 257.5h0M615.8 264.4h0M617.2 271.8h0M608 254.5h0M627.3 269.4h0M614.3 260h0M611.7 261.2h0M619.1 268.4h0M631.2 276.7h0M608.4 264.5h0M618 268.8h0M611.2 259.6h0" stroke="#9BE872" stroke-width="1.7" stroke-linecap="round" fill="none"/>
<path d="M688.9 244.4h0M684.9 261.6h0M684 258.4h0M687.8 254.2h0M690.5 247.6h0M683.7 260.2h0M686.5 261.4h0M685.5 257.4h0M684.8 255.8h0M688.7 242.8h0M690.4 246.5h0M685.2 256.9h0M689.3 249.8h0M689.5 244.5h0M688.9 252h0M685.8 259h0M687.1 258.3h0M687.2 245.9h0M688.1 250.7h0M690.3 246.9h0M685.2 256h0M685.4 249h0M687.8 252.7h0M685.2 258.7h0M690.9 242h0M689.6 243.3h0M688.6 242.1h0M685.6 256.1h0M685 253.7h0M690.3 242.8h0M685.4 250.8h0M689.2 251h0M688.9 249.9h0M687.5 249.2h0M690.5 240h0M691.1 243.4h0M687.3 259.3h0M690.3 248.2h0M684.4 263.3h0M688.8 253.1h0M684.3 255.5h0" stroke="#9BE872" stroke-width="1.7" stroke-linecap="round" fill="none"/>
<path d="M722.8,162.4 720.2,164.7 720.2,164.8 716.8,167.7 713.6,172.3 713.3,180 713.3,180.1 712,189.1 712,189.2 710,197.2 708.7,203.2 709.6,203.4 714.8,197.6 722.4,188.6 729.9,179.6 733.5,173.8 734.1,168.5 728.7,163.4 722.8,162.4Z" fill="#17A0F0" />
<path d="M732.8 180.1h0M716.7 164.2h0M709 204.2h0M732 177.9h0M734.1 167.7h0M711.5 179.2h0M712.9 170.6h0M733.3 165.7h0M724 186.9h0M711.1 181.6h0M719.7 192.3h0M712.2 185.1h0M721.3 163.7h0M733.6 175.2h0M711.4 188.3h0M719.9 192.1h0M734.9 172.1h0M709.2 198.7h0M725.9 185.7h0M708 201.2h0M728.7 161.9h0M723.6 188.4h0M707.8 202.4h0M714 199.3h0M709.3 199.8h0M711.1 180.9h0M724.1 189.3h0M710.1 204.4h0M724.5 187h0M724.3 187.3h0M710.7 191.8h0M709.6 204.3h0M711.1 192.7h0M707.4 202.9h0M711.1 190.2h0M711.8 181.6h0M730.9 163.3h0M714.5 167.3h0M709.9 205h0M720.3 193.4h0M719.2 193.7h0M715.2 165.9h0M714.8 199.7h0M722.2 189h0M734.9 174.7h0M717 196.7h0M730 184.2h0M727.1 185.7h0M708.9 196.8h0M726.1 162.6h0M709.4 196.3h0M720.5 161.4h0M708.6 201.8h0M734.6 170.3h0M715.7 167.2h0M722.7 188.4h0M735.9 173.5h0M728.1 184h0M728.3 162.8h0M727.8 183.4h0M735 172.4h0M711 183.1h0M723.9 160.7h0M730.7 180.3h0M733 175.7h0M712.7 175.8h0M709.1 200.5h0M734.7 168h0M707.7 204h0M711.7 177.2h0M712.9 172.2h0M731.2 178.5h0M713.3 172.8h0M730.3 182.3h0M724.8 187.3h0M709.4 196.2h0M718.3 194.2h0M722.3 161.2h0M733.1 175h0M715.5 197.1h0M733.4 177.2h0M708.5 202.6h0M728 160.8h0M722.5 188.6h0M710.9 183.1h0M712.1 173h0M720.8 162.6h0M707.7 204.3h0M709 193.3h0M732.5 175.9h0M735.7 170h0M712 184.5h0M728.5 162.7h0M708.7 203.9h0M712.6 182.8h0M713.5 199.6h0M713 168.6h0M717.1 198.6h0M711.1 192.3h0M712.7 201.5h0M709.4 204.7h0M708.7 204.6h0M711.6 202.5h0M709.4 190.7h0M735.2 167.2h0M722.2 191.5h0M710.1 192.1h0M733.4 167h0M710.3 193.6h0M718.7 164.6h0M717.2 166.5h0M709.6 192.4h0M709.1 201.2h0M734.1 176.3h0M706.2 201h0M728 182.9h0M710.5 191.2h0M710.7 206.5h0M732.3 176.7h0M735.6 171.8h0M731.3 165.1h0M709.8 186.5h0M734.1 175.8h0M716.5 198.1h0M725.5 187.3h0M712.5 181.5h0M727.9 161.3h0M712.9 173.3h0M715.6 198.6h0M706.7 198.3h0M734 169.8h0M712 186.2h0M712.5 171.3h0M712.6 171.9h0M709.7 203.7h0M734 172.5h0M712.1 186.5h0M711.5 202.5h0M706.9 197.8h0M713 170.3h0M717.8 166h0M721.6 190.9h0M735.3 168.9h0M710.8 193.1h0M713.3 176.4h0M734.7 167.6h0M713.9 201.7h0M716.7 167.6h0M712.1 176.5h0M709.7 194.5h0M723.5 187.9h0M721.5 162.8h0M716.8 165.6h0M713.6 200.8h0M727.8 183.8h0M713.6 168.6h0M719.1 164.4h0M710.1 196.5h0M734.4 172.2h0M724.2 161.1h0M734.4 173.6h0M728.3 162.8h0M709.2 204.6h0M725.8 185.9h0M719.4 163.6h0M709.5 204h0M709.8 197.3h0M712.8 168.3h0M732.5 166h0M708.9 197.7h0M712.7 201.1h0M707.7 197.7h0M718.3 164.9h0M721.2 191.4h0M715.6 199.8h0M710.8 192.6h0M711.1 184.9h0M722.1 161.8h0M715 170.1h0M726.3 186.5h0M707.2 204h0M713.4 201h0M731.8 164.5h0M723.8 188.1h0M732.9 175.3h0M712.4 185.8h0M733 175.7h0M709 205.3h0M718.7 164.8h0M711.9 202.4h0M709.3 191.3h0M712.3 176h0M711.7 176.1h0M718 196.5h0M708.6 205.1h0M727.2 162.4h0M731.2 161.6h0M707.3 198.7h0M713.2 175.3h0M718.1 164.4h0M734.9 175.5h0M726.9 185.6h0M719.5 163.3h0M709.4 204.6h0M732.8 166.7h0M711.6 175.7h0M725.3 186.4h0M711.2 176.7h0" stroke="#17A0F0" stroke-width="1.7" stroke-linecap="round" fill="none"/>
<path d="M638.4,335.6 638.8,339.9 640,345.8 640,345.9 640.4,350.9 641,346.9 641,346.8 642.7,340.8 642.7,340.8 644,336.4 640.9,334.9 638.4,335.6Z" fill="#EE6FE8" />
<path d="M638.5 337.1h0M640.7 353h0M639.2 346.8h0M644.9 335.5h0M639.6 345.6h0M640.8 334.7h0M643.2 343.2h0M637.6 339.1h0M638.8 353h0M638.3 335.8h0M639.9 351.5h0M639.2 341.8h0M644.2 335.5h0M637.6 341.7h0M638.9 346.1h0M638.2 337.7h0M640 349.9h0M643.1 350.2h0M638.2 343.2h0M642.6 350.6h0M638.3 336.4h0M643 340.8h0M643 347.5h0M638.6 348.3h0M641.4 349.1h0M642.5 342.9h0M637.5 334.9h0M641.1 333.9h0M638.7 348.7h0M638.4 338.3h0M637.7 338.6h0M638.7 351h0M643.1 344.7h0M639.3 353.3h0M640.2 333.3h0M641 334.7h0M638.3 339.4h0M642.7 342.4h0M638.2 344h0M644.4 338.2h0M638.5 338.8h0M642.9 343h0M638.1 339.4h0M642.6 341.6h0M641.4 348.8h0M637.3 335.6h0M639.4 345.8h0M637.8 335h0M640.6 353.4h0M638.1 334.3h0M640.5 352.3h0M645.1 334.8h0M645 338.4h0M638.4 340.2h0M644.1 343.5h0M642.1 345.5h0M639.4 350h0M640.7 351.5h0M641.4 349.9h0M640 351h0M638.1 339.1h0M642.2 335.2h0" stroke="#EE6FE8" stroke-width="1.7" stroke-linecap="round" fill="none"/>
<path d="M707.4 205.7h0M702.6 216.7h0M703.8 211.9h0M700.5 219.4h0M704.9 212.4h0M704.7 212.2h0M697.2 223.9h0M698.7 222h0M693.8 233.4h0M693.8 229.6h0M703.6 211.5h0M707.4 206.3h0M694.1 229.2h0M693.4 232.5h0M698.9 221.6h0M699.7 219.7h0M701.7 213.8h0M705.2 212.4h0M705.8 208.5h0M697.4 223.7h0M706.5 207.6h0M696.5 224.5h0M695.8 227.1h0M698.3 223.5h0M704.2 211.6h0M704.1 212.2h0M693.7 231.1h0M699.2 220.6h0M703.5 212.7h0M693.9 233.3h0" stroke="#17A0F0" stroke-width="1.7" stroke-linecap="round" fill="none"/>
<path d="M658.9 311.3h0M656.4 319.5h0M656.7 315.8h0M656.7 318.5h0M644.9 332.3h0M658 314h0M657.9 313.7h0M651.9 329.9h0M646.7 332.3h0M653.6 326.8h0M655.3 322.9h0M657.4 317.9h0M656.5 317.8h0M657.1 314.8h0M657.8 315.6h0M656.2 322.9h0M661.7 308.2h0M655 322h0M654.5 328.7h0M656.9 319.5h0M655.3 324.2h0M664.9 302.9h0M662.2 305.8h0M655.2 321.4h0M655.6 321h0M649.2 330.7h0" stroke="#EE6FE8" stroke-width="1.7" stroke-linecap="round" fill="none"/>
<path d="M524.8 74h0M537 119.2h0M533.4 112h0M496.5 71.5h0M518 124.7h0M524.1 77h0M501.2 69.6h0M525.8 149.7h0M504.1 105.1h0M525.2 145.2h0M539.4 81.7h0M532.1 125.7h0M525 87.8h0M502.1 116.8h0M526.3 123.2h0M509.6 100.6h0M508.6 149.5h0M517 72.4h0M526.2 74h0M531.6 155.1h0M506.3 138.5h0M512.2 118.7h0M527.6 152.5h0M513.4 97.1h0M515 147.4h0M502.9 77.9h0M540.3 129.2h0M529 150.9h0M533.7 141.4h0M521.3 71.4h0M532 87.4h0M502.8 109.2h0M498 94.8h0M540.5 141.5h0M510.1 150.8h0M488.6 88.9h0M532.9 74.4h0M532.7 147.3h0M540.3 141h0M532.5 128.1h0M515.1 77.6h0M496 123.1h0M538.8 109.4h0M516.7 76.8h0M539.6 90.9h0M527.4 151.3h0M507.4 109.6h0M530.2 104h0M533.5 150.6h0M525.7 119.8h0M534.9 126.2h0M534.6 108.1h0M523 159.2h0M542.7 122.8h0M512.9 135.4h0M507.7 143.5h0M506.5 108h0M503.7 125.9h0M539.6 87.3h0M525.3 82.9h0M537.9 102.8h0M520.1 158.5h0M508.3 112h0M530.8 128.3h0M525.1 134.3h0M536.1 149.4h0M520.8 142h0M516.1 143.7h0M528.5 154.5h0M529.2 133.9h0M508.1 91.6h0M529.7 143.4h0M506.3 115.9h0M536.3 136.4h0M508.6 78.5h0M521.3 127.3h0M522 113.5h0M491.7 102.3h0M537.1 95.3h0M541.6 105.4h0M531 146.8h0M504.1 66.8h0M531.8 86.1h0M514.9 67.7h0M492.1 103.8h0M499.8 80.2h0M508.8 80.4h0M513.6 143.8h0M527.7 142.6h0M511.9 114.8h0M493.7 93.2h0M501.7 106.2h0M529.5 130.1h0M503.8 137.2h0M521.2 155.1h0M535.5 98.8h0M527.7 80.7h0M514.8 118h0M497.6 86h0M513.1 63h0M527.8 69.5h0M523.6 116.6h0M513.6 144.6h0M532.5 147.8h0M495.1 82.4h0M519.6 151h0M504 99.2h0M517.6 120.6h0M493.9 82.6h0M504.4 106.9h0M513.1 97.1h0M530.4 124.8h0M525.1 113.7h0M536.1 136.7h0M532.5 116.9h0M499.3 117.2h0M515 71.9h0M515 105.7h0M501.1 106.5h0M532.1 124.7h0M531.5 75.7h0M514.4 99.4h0M496.7 125.1h0M515.3 102.6h0M525.7 69.9h0M514 148.5h0M537.9 113.9h0M511.4 92.3h0M506.2 96.8h0M522.6 159h0M538.4 120.8h0M498.2 98h0M507.9 116h0M518.3 146.6h0M512.2 133.9h0M518 109.4h0M544 80.9h0M526.9 94h0M532 93.3h0M496.8 98.2h0M491.7 104.6h0M499.6 89.6h0M500.3 133h0M519.5 70.1h0M495.3 87.9h0M491.9 85.2h0M530.2 95.3h0M494.2 106.5h0M523.1 140.6h0M490.3 90.3h0M509.2 124.5h0M509.5 90.6h0M523.8 85h0M507.5 105.3h0M491.6 77.6h0M501.5 93.3h0M526.4 135.2h0M542.9 83.1h0M531.2 124.3h0M522.7 70.4h0M495 80.8h0M522.6 102.4h0M535.3 101.5h0M514.8 74.4h0M532.3 137.4h0M527 156.8h0M520.3 92.6h0M508.8 155.5h0M517.7 76.1h0M514.5 113.6h0M508.5 135.3h0M538.3 78.5h0M514.2 112.7h0M540.4 144.6h0M535.8 87.6h0M522.5 135h0M520.3 71.5h0M516.4 130.2h0M517.1 152.9h0M492 100.7h0M538.1 126.5h0M516.6 131h0M528.5 69.8h0M503.6 80.9h0M517.8 67h0M502.1 134.7h0M518.4 94h0M532.6 69.4h0M515.2 153.4h0M531 85.1h0M537.2 77.5h0M526.2 135.3h0M512.1 141.5h0M515.1 92.1h0M505.5 122h0M526.2 101.7h0M534.7 121.3h0M531.8 124.2h0M511.5 73.9h0M488.7 88.1h0M515.9 129.3h0M524.4 81.2h0M519.4 64.5h0M512.6 118.9h0M535.1 157.2h0M530.5 66h0M523.4 159.6h0M516.3 107h0M510.2 129.9h0M493.7 79.9h0M519.2 153.5h0M501.8 119.6h0M514.4 142.2h0M522.5 78.7h0M542.3 99h0M488.3 93.3h0M534.5 118.5h0M515.2 96.1h0M515.7 90.4h0M525.2 155h0M538.2 76h0M530 159.2h0M527.3 120.8h0M539 137.2h0M505.6 87.4h0M516.4 159.3h0M510.1 118.2h0M508.3 78.1h0M521.9 120.6h0M525.9 105.2h0M491 83h0M510.8 147.2h0M514 69.1h0M515.5 74.8h0M533.3 116.9h0M517.1 159.8h0M504.8 145.2h0M498.2 128.6h0M515.8 136.8h0M524.2 138.9h0M519.9 133.5h0M512.3 108.2h0M505.8 117.9h0M524.9 134.9h0M525.7 158.7h0M528.9 75.3h0M538.4 148.5h0M499.3 114.9h0M526.7 145.8h0M529.4 114.9h0M537.6 154.6h0M490.3 77.7h0M500.4 70.1h0M515 73.3h0M528.6 141.6h0M507.5 114.3h0M541.2 136.8h0M511.1 112.6h0M515.7 132.7h0M513.5 82.9h0M525.5 128h0M511.9 81.5h0M521.9 104.2h0M502 68.5h0M539.1 128h0M534.3 153.7h0M535.5 111.5h0M527.2 124.3h0M505.6 74.5h0M506.6 92.2h0M513.6 105.4h0M538.5 74h0M514.4 67.1h0M541.4 97.1h0M539.4 104.4h0M498.9 109.9h0M527.7 119.1h0M528 118.7h0M528.9 136.9h0M516.1 99.1h0M525.8 149.4h0M519.6 68.1h0M531.2 159.3h0M518.3 125.7h0M540.5 113.8h0M514 105.5h0M503.6 68.4h0M507.8 136.3h0M533.8 148.7h0M521.6 135.1h0M522.6 135.5h0M520.2 110.4h0M523.7 63.1h0M508.6 124.9h0M537.7 94.7h0M498.6 93.5h0M510.7 116.9h0M520.9 154.6h0M535 150.8h0M520.8 160.9h0M514.8 80.1h0M515.2 114.7h0M536.6 148.1h0M498.4 122.2h0M526.2 114h0M535.2 118.7h0M500.5 101.4h0M534.2 115.3h0M508.6 113.4h0M529 109h0M539.2 122.6h0M539.4 134.6h0M510.9 140.1h0M508.5 92.5h0M502.6 68.5h0M533.7 143.5h0M520.2 141.4h0M493.8 90.8h0M533.2 87.8h0M529.3 87.5h0M516.3 91.7h0M501.9 116.4h0M495.9 83.9h0M495.9 81.8h0M496.8 89.4h0M530.6 108.8h0M517.9 82.9h0M501.9 124.7h0M515.6 63h0M523.1 132h0M528.6 72.8h0M528.4 138.9h0M518.5 76.5h0M536 151.8h0M509.6 122.2h0M510.8 142.4h0M533.7 86.3h0M506.9 76.8h0M503 119.9h0M509.9 125.3h0M527.1 151.8h0M500.3 72.4h0M524.8 99.5h0M496.2 117.4h0M539.7 77.6h0M518.7 73.4h0M529.1 117.9h0M519.3 147.7h0M538.9 148.5h0M526.9 117.7h0M535.7 105.9h0M504.7 124.5h0M510.2 63.6h0M487.5 90h0M518.5 124h0M506.5 87h0M527.9 102.7h0M498.7 97.4h0M541.7 77.8h0M528 105.3h0M539.8 78.1h0" stroke="#fff" stroke-width="1.2" stroke-linecap="round" fill="none" stroke-opacity="0.85"/>
<path d="M523.9 188.8h0M520.1 171.5h0M532.5 181.2h0M584.6 175.2h0M535.4 188.6h0M506.2 178.2h0M588.5 165.4h0M529.9 254h0M523.1 192h0M535.8 227.5h0M549.9 231.6h0M506.3 248.4h0M523.9 225.7h0M565.7 186.6h0M556.3 227.8h0M531.6 218.1h0M576.5 234h0M591.1 195.2h0M552.2 193.1h0M499.6 236.5h0M559.9 164.8h0M546.1 186.6h0M588.4 161.5h0M499.1 248.2h0M581 222.3h0M564.2 187.1h0M509 195.2h0M538.4 235.1h0M582.2 190.8h0M589.3 173.8h0M595 201.6h0M574.8 209.2h0M548.1 214h0M557.6 199.7h0M523 235.3h0M510.5 207.1h0M493.4 222.7h0M575.2 218h0M579.5 211.9h0M597.4 223.2h0M536.4 219.2h0M518.2 221.4h0M501.4 206h0M495.2 264.3h0M486 256.3h0M566.5 165.1h0M578.9 175.6h0M520.4 189h0M580.5 233.1h0M544.5 215.8h0M542.5 196.5h0M500.1 188.6h0M505.8 235.3h0M521.7 194h0M513.8 219h0M580.8 215.3h0M576.6 205.8h0M493.4 264.4h0M522.7 163.1h0M516.9 199.2h0M521.8 175.8h0M484.4 267.5h0M559.8 230.2h0M510.1 216.7h0M587.8 196.3h0M497.9 242h0M541.1 201.7h0M485.8 246h0M514.6 233.8h0M504.8 214.7h0M513.2 210.2h0M523.4 234.5h0M535.9 200.7h0M521.8 244h0M573.3 182.9h0M592.6 224.6h0M577.2 187h0M539.5 169.2h0M533.8 244h0M513.9 242.9h0M576.6 201h0M593.9 186h0M594.2 224h0M523.3 177.7h0M564.9 234.9h0M517.7 253.1h0M529.9 194.6h0M528.4 164.7h0M491.5 261.1h0M523.9 174.9h0M596.4 225.4h0M551.2 186h0M531.7 181.5h0M579 184h0M559.8 200.2h0M520.7 170.3h0M521.7 199h0M525 206.5h0M572.6 234.1h0M529 248.9h0M507.2 226h0M515.4 254.1h0M591.4 220.3h0M527.8 187.4h0M558.4 175.5h0M488.9 250.7h0M506.9 224.1h0M582.8 167.8h0M553 198.8h0M549 188.3h0M524.9 179.4h0M512.5 227.5h0M492.5 242.7h0M576.3 184.7h0M500.9 213.6h0M563.3 170.1h0M568.7 236.4h0M590.4 160.3h0M512.3 260.8h0M580.1 218.7h0M518.2 245.9h0M552.2 204.9h0M520.5 175.3h0M546.5 207.5h0M589.2 193h0M498.3 201.6h0M540 232.3h0M546.2 230.5h0M591.5 223.9h0M591.7 225.2h0M539.4 179.9h0M520.1 206.9h0M547.6 190.3h0M516.9 238.9h0M521.3 172.6h0M593.6 190.2h0M526.9 195.2h0M601.6 225h0M547.4 249h0M524 167.6h0M576.9 165.5h0M502.4 182.6h0M564.8 179.7h0M561 226.9h0M521.4 197.1h0M502.6 189.1h0M547.8 179.4h0M532.5 174.4h0M499.1 243.8h0M517.3 245.7h0M578.5 236.7h0M549.7 238.6h0M518.7 185.3h0M518.9 247.5h0M504.3 223.9h0M520.1 213.2h0M515.3 263.9h0M564.6 209.6h0M577 228.4h0M504.3 214.5h0M600.3 236h0M588.9 211.8h0M523.3 172.7h0M563 215.8h0M541.6 184.6h0M596.2 206.2h0M509.3 165.8h0M547.3 216.1h0M554 181.9h0M545 231.1h0M534.9 229.5h0M561.8 197h0M485.6 244.5h0M486 267.9h0M476.2 270.3h0M586.8 163h0M578.1 231h0M584.5 166.3h0M572.5 204.6h0M547 244.1h0M592 190.4h0M546.4 213.2h0M589.1 174.4h0M522.1 200.2h0M593.3 194.2h0M530.3 225.6h0M504.8 208.4h0M545.9 224h0M494.3 262.3h0M564.1 171.4h0M535.5 162.9h0M491.7 259h0M505.3 246.6h0M557.5 185.9h0M527.6 217.7h0M558.1 199.3h0M503.7 221.2h0M563.9 170.3h0M550.5 215h0M508.4 204.6h0M567.6 218.5h0M504.5 246.2h0M495.1 219.8h0M557.1 209.3h0M583.1 207h0M584.9 201.7h0M496.2 223.7h0M510.3 265.8h0M519.8 237.1h0M491.6 262.5h0M494.6 221.7h0M530.6 192h0M583.6 221.2h0M576.1 216.1h0M526.4 230.2h0M516.8 165.2h0M588.4 233.1h0M602.1 233.5h0M555.8 176.7h0M506 199.6h0M542.6 167.1h0M480.2 262.1h0M579.2 162.3h0M594.6 227h0M519.4 166.7h0M588 217.7h0M573.4 196.1h0M516.8 244.6h0M554 174.6h0M541.7 181.1h0M506.5 192.8h0M510.9 209.1h0M532.1 231h0M523.7 177.7h0M534.7 168.2h0M485.9 264.2h0M519.2 232.6h0M509 248.7h0M496.6 224.6h0M512.6 169.8h0M553.1 197h0M522.4 196.7h0M589.5 175.4h0M539.9 170.3h0M515.4 191.2h0M506.8 176h0M525.3 191h0M534.9 203.4h0M545.8 165.7h0M516 255.4h0M526.5 239.7h0M543.8 215.5h0M478 260.7h0M507.1 179.8h0M585.1 227.3h0M564 217.9h0M546.5 196.8h0M487.2 249.5h0M584.5 168.9h0M537.9 194h0M505.5 197.5h0M489.5 231.5h0M497.7 228.7h0M506 185.6h0M563.9 180.2h0M560.4 212.5h0M535.5 224.7h0M497.3 230h0M583.6 180.6h0M590.3 159.4h0M536.3 192h0M551.4 234.1h0M559.6 210h0M551.3 208.2h0M531.1 165.8h0M553.2 233.1h0M493.9 264.5h0M517.2 198.6h0M548 198.3h0M511.9 245.9h0M546.1 162.4h0M570 188.5h0M593.8 227.1h0M558.2 209.8h0M494.7 259.2h0M594.5 194.2h0M559.1 181.1h0M526.3 221h0M598.1 229.6h0M501.8 238.4h0M515.7 202.3h0M565.4 230.5h0M491.9 264.9h0M531.7 180.2h0M549.5 182h0M494.4 218.4h0M511 206.2h0M478.9 256.6h0M596 213.2h0M518.2 196h0M540.8 178.7h0M555.6 190.8h0M556.2 224.1h0M554.9 188.8h0M505.2 185.9h0M566.9 200.4h0M590.6 166.9h0M548.6 239.5h0M543 244.9h0M534.7 224.4h0M541.2 220.7h0M528.4 185h0M502.2 184.8h0M600.2 218.9h0M556.8 191.6h0M530.2 252h0M580.8 234.9h0M502.5 235.6h0M538.3 246.6h0M482.6 248.5h0M565.3 223.2h0M533.6 219.8h0M554.1 229.7h0M493.9 228h0M551.6 235.4h0M558.4 215.6h0M584.7 233.1h0M555.6 240.5h0M531.7 221.5h0M549 220h0M529.1 171.8h0M525.9 242.9h0M566.1 169.6h0M500.5 195.7h0M570.3 207.1h0M573.6 216.9h0M574.3 198.1h0M557.4 231h0M543.6 188.8h0M584.8 217.9h0M581.9 213.4h0M565.6 175.8h0M524 222.3h0M578 223.2h0M533.7 254.6h0M503.7 190.1h0M572.2 193.2h0M578.6 197.5h0M583.7 171.6h0M516.4 244.9h0M525.3 201.7h0M550.3 180.6h0M533.8 247.1h0M510.2 164.9h0M572.3 185.8h0M497.3 239h0M544 191.4h0M486.5 254.2h0M560.8 187.6h0M558.6 210.5h0M595.2 232.4h0M592.7 182.6h0M557.9 243.5h0M598.6 231.6h0M510 244h0M534.1 202.6h0M591.3 159.9h0M578.9 228.2h0M494.5 245.6h0M549 207.6h0M540.1 184.5h0M554.3 230.7h0M585 215.6h0M523.1 216.8h0M545.5 229.3h0M538.8 180.1h0M502.1 243.1h0M502.2 253.5h0M592 194.1h0M559.4 232.2h0M568.4 206.8h0M524 243.1h0M585.3 180.2h0M485.8 244.1h0M501 211h0M493.5 249.6h0M574.1 217.4h0M499.3 255.2h0M497.4 216.3h0M483 253.4h0M475.9 269.6h0M485.8 269.7h0M525 193.9h0M554 170.5h0M516.8 204.5h0M493.2 249.4h0M545.3 246.7h0M541.2 233.8h0M536.7 170.3h0M538.6 245.4h0M517.5 233.4h0M503.7 199.6h0M515.2 175.4h0M510.1 231.4h0M566 192h0M535.8 230.1h0M554.5 241.6h0M548.3 206.7h0M579.2 196.6h0M527.1 187h0M504.8 183.1h0M532.2 234.5h0M544.1 182.5h0M563.5 215.6h0M550.1 226.3h0M539 177.7h0M538.8 213.1h0M579.4 190.1h0M523.4 165.2h0M588.7 196.3h0M511.8 180.4h0M586.4 238.4h0M570 174.5h0M532.1 216.8h0M570.4 201.2h0M524.3 236.3h0M577.7 184h0M501.6 236.9h0M529.7 206.6h0M517.6 260.5h0M574.4 194.9h0M553.4 207.3h0M577.2 221.7h0M522.7 254.2h0M556.6 235.9h0M561.6 220.6h0M595.1 214.7h0M509.8 171h0M493.9 228.9h0M576.7 204h0M538.4 231.8h0M580.2 238.9h0M516.2 202.5h0M533.9 214.1h0M529 247h0M584.4 183.9h0M566.5 173.2h0M564.2 206.7h0M522 254.1h0M560 226.4h0M495.9 256.8h0M541.7 219.3h0M528.6 215.4h0M585.2 195.2h0M489.1 234h0M544.5 214.6h0M567.1 232.2h0M564.7 194.1h0M542.2 189.2h0M558.9 171.5h0M486.7 232.6h0M522.2 204.7h0M571.1 170.7h0M507.1 258.4h0M499.1 187.9h0M505.7 245.6h0M529.8 199h0M596 206.7h0M527.2 173.7h0M537.9 161.1h0M550.5 177.5h0M546.5 238.7h0M501.8 200.9h0M522.2 164.3h0M500.9 206.5h0M540.3 234.6h0M571.5 172.4h0M552.1 240.5h0M498.2 227.2h0M509.6 249h0M567.6 199h0M487 270.3h0M569.8 165.3h0M588.5 164.6h0" stroke="#fff" stroke-width="1.2" stroke-linecap="round" fill="none" stroke-opacity="0.85"/>
<path d="M486.6 331.3h0M533.1 271.8h0M474 301.8h0M535.9 303.6h0M464.1 298.3h0M542.7 294.5h0M478.5 313h0M520 296.4h0M468.8 329.1h0M546.2 259.9h0M517.6 300h0M494.9 317.7h0M534.4 284.6h0M519.2 319.3h0M547.7 280.6h0M474.7 272.1h0M539.1 263.8h0M491.9 318.2h0M490.3 325h0M473.4 300.3h0M538.6 260.9h0M485.7 296.7h0M472.9 309.3h0M507.8 312.7h0M474.6 326h0M490.1 338.8h0M518 309.6h0M527.3 291.4h0M485.2 328.2h0M521.2 283.6h0M513.6 326h0M505 311.1h0M490.5 301.4h0M493.3 334.8h0M488.8 280.3h0M539.4 281.6h0M481.8 287.5h0M497.6 309.5h0M496.6 326.2h0M538 276.3h0M538.2 308.2h0M482.5 330h0M487.8 322.5h0M531.4 301.1h0M477.6 328.8h0M489.8 308.1h0M493.6 283.3h0M505.5 305.4h0M479 311.9h0M550.7 260.1h0M492.4 296.3h0M517.2 300.7h0M502.6 283.5h0M529.7 311.9h0M499.9 332.7h0M474.5 281.7h0M518.6 316.4h0M531 306.8h0M543.3 296.8h0M508.3 306.5h0M523.9 270.2h0M535.5 271.5h0M490.6 307h0M510.9 298.5h0M499.2 297.8h0M470.2 310.6h0M466.6 287.2h0M468.3 303.9h0M487.6 300.9h0M509.8 283.3h0M500.2 336.7h0M515.4 288.3h0M481.2 291.7h0M480.6 321.3h0M498.3 321.1h0M529.7 321h0M505.4 282.6h0M505.5 283.8h0M476.6 286.5h0M465.8 302.7h0M495.8 291.1h0M490.8 329.2h0M498.6 280.5h0M496.4 290.3h0M535.4 299.4h0M487.5 286.3h0M541.3 285.6h0M506.3 322.9h0M484.8 290.6h0M467.9 323.5h0M541.1 263.7h0M499.5 331.2h0M472.2 314.1h0M553.1 271.2h0M479.8 314.9h0M509.1 295.2h0M514 280.4h0M510.6 294.4h0M520.5 315.6h0M517.8 328.5h0M496.7 331.2h0M486.9 310.3h0M479.3 296.4h0M530.1 285.7h0M539.7 292.1h0M483.9 312.4h0M470 332.3h0M530 283.4h0M520.4 301.4h0M525.2 300.2h0M511.5 296.5h0M506 329.5h0M529.8 276.6h0M530.5 311.7h0M494.4 311h0M514.5 287h0M551.8 268.8h0M534.9 276.2h0M491.8 314.1h0M508.2 299h0M554.6 274.3h0M471.3 284.3h0M544.3 286.7h0M537.2 292.7h0M507.5 299.1h0M519.3 280.2h0M476.8 288.6h0M518.2 325.6h0M510.6 314h0M487.8 311.8h0M500 314.7h0M527.2 270h0M536 270.6h0M482.1 278.7h0M470.8 329.8h0M526.3 277.4h0M509.7 283.4h0M515.6 317.5h0M518 288.5h0M544 276.2h0M502.1 315h0M483.5 315h0M530.7 321h0M505.2 291.1h0M488.5 303.1h0M536.9 304.8h0M465.8 311h0M535.6 301.7h0M517 294.6h0M534.5 270.7h0M519.9 317h0M526.8 310.6h0M488.1 308.8h0M539 265.7h0M499.4 323.6h0M488.7 286.8h0M547.6 259.1h0M475.1 305h0M493.2 279.5h0M483.1 311.1h0M518.7 304.5h0M517.4 298.2h0M521.7 281.2h0M499.3 314.3h0M555.8 269.4h0M519 280.4h0M474.3 281.9h0M505.7 280.1h0M498 321.2h0M512.4 303.1h0M462.8 314.1h0M491.4 302h0M479.1 313.9h0M524.8 314.8h0M489.3 288h0M532.7 274.6h0M525.6 306.5h0M509.1 294.3h0M495.6 339.5h0M486.2 283.5h0M505.5 334.8h0M512.8 299.8h0M512.2 278.3h0M521.6 277.3h0M475.6 306.6h0M480 291.5h0M516.7 325.9h0M537.5 292.2h0M542.5 273.2h0M512.5 315h0M528 293.7h0M523.9 319.5h0M488.9 290.5h0M515 283.3h0M531 281.5h0M520.6 308.3h0M531.5 279h0M474.5 304.9h0M465.1 294.8h0M546.3 269h0M525.2 277h0M552 273.8h0M487.5 285.9h0M526.9 309.9h0M478.1 318.4h0M517.6 324.1h0M504.9 298.1h0M505.5 309.6h0M508.2 286.2h0M493 300.9h0M506.7 310.3h0M500.5 288.3h0M482.7 275.8h0M530.3 274.2h0M467.1 298.8h0M508.2 329.1h0M464.6 315.3h0M519.7 275.9h0M473.3 317.7h0M532.4 267h0M494.2 319.3h0M495.3 335.7h0M489.5 299.3h0M521.9 281.1h0M485.3 285.6h0M535 286.4h0M474.9 310.7h0M532.2 275.6h0M508.2 316.1h0M504.7 291.4h0M536.9 291.6h0M479.7 325.8h0M526.6 292.9h0M527.4 272.7h0M550.6 258.8h0M532.4 309.7h0M522.3 311.2h0M530.7 298.4h0M524.3 281.7h0M494.7 307.5h0M538 265.6h0M524.1 272.8h0M534.5 296.5h0M513.1 285.2h0M486.1 307h0M506.8 314.2h0" stroke="#fff" stroke-width="1.2" stroke-linecap="round" fill="none" stroke-opacity="0.85"/>
<line x1="445.8" y1="42.7" x2="445.8" y2="371.9" stroke="#000" stroke-width="2" />
<line x1="442.5" y1="370.9" x2="749.7" y2="370.9" stroke="#000" stroke-width="2" />
<line x1="442.5" y1="48.9" x2="445" y2="48.9" stroke="#000" stroke-width="1.8" />
<text x="435.5" y="55.9" font-size="20" text-anchor="end" font-weight="normal" font-style="normal" fill="#000" >8</text>
<line x1="442.5" y1="129.2" x2="445" y2="129.2" stroke="#000" stroke-width="1.8" />
<text x="435.5" y="134.1" font-size="20" text-anchor="end" font-weight="normal" font-style="normal" fill="#000" >4</text>
<line x1="442.5" y1="209.7" x2="445" y2="209.7" stroke="#000" stroke-width="1.8" />
<text x="435.5" y="216.7" font-size="20" text-anchor="end" font-weight="normal" font-style="normal" fill="#000" >0</text>
<line x1="442.5" y1="290.1" x2="445" y2="290.1" stroke="#000" stroke-width="1.8" />
<text x="435.5" y="297.1" font-size="20" text-anchor="end" font-weight="normal" font-style="normal" fill="#000" >−4</text>
<line x1="442.5" y1="370.9" x2="445" y2="370.9" stroke="#000" stroke-width="1.8" />
<text x="435.5" y="377.9" font-size="20" text-anchor="end" font-weight="normal" font-style="normal" fill="#000" >−8</text>
<line x1="457.8" y1="371.5" x2="457.8" y2="374.6" stroke="#000" stroke-width="1.8" />
<text x="456.3" y="397.3" font-size="20" text-anchor="middle" font-weight="normal" font-style="normal" fill="#000" >−5</text>
<line x1="550.2" y1="371.5" x2="550.2" y2="374.6" stroke="#000" stroke-width="1.8" />
<text x="550.2" y="397.3" font-size="20" text-anchor="middle" font-weight="normal" font-style="normal" fill="#000" >0</text>
<line x1="641.5" y1="371.5" x2="641.5" y2="374.6" stroke="#000" stroke-width="1.8" />
<text x="642.1" y="397.3" font-size="20" text-anchor="middle" font-weight="normal" font-style="normal" fill="#000" >5</text>
<line x1="731.8" y1="371.5" x2="731.8" y2="374.6" stroke="#000" stroke-width="1.8" />
<text x="731.8" y="397.3" font-size="20" text-anchor="middle" font-weight="normal" font-style="normal" fill="#000" >10</text>
<text x="601.5" y="426.4" font-size="25" text-anchor="middle" font-weight="normal" font-style="normal" fill="#000" >UMAP 1</text>
<text x="399.2" y="209.5" font-size="25" text-anchor="middle" font-weight="normal" font-style="normal" fill="#000" transform="rotate(-90 399.2 209.5)">UMAP 2</text>
<text x="467.9" y="51" font-size="21" text-anchor="start" font-weight="normal" font-style="normal" fill="#000" >Adventitial</text>
<text x="467.9" y="75.8" font-size="21" text-anchor="start" font-weight="normal" font-style="normal" fill="#000" >FB</text>
<text x="592.6" y="49.2" font-size="21.3" text-anchor="start" font-weight="normal" font-style="normal" fill="#000" >Pathological</text>
<text x="592.6" y="73.6" font-size="21.3" text-anchor="start" font-weight="normal" font-style="normal" fill="#000" >FB</text>
<text x="598.7" y="150" font-size="20.4" text-anchor="start" font-weight="normal" font-style="normal" fill="#000" >Vascular</text>
<text x="598.5" y="175" font-size="21.1" text-anchor="start" font-weight="normal" font-style="normal" fill="#000" >smooth muscle</text>
<text x="467.8" y="194.4" font-size="21.15" text-anchor="start" font-weight="normal" font-style="normal" fill="#000" >Intermediate</text>
<text x="468.2" y="219.2" font-size="21.15" text-anchor="start" font-weight="normal" font-style="normal" fill="#000" >path. FB</text>
<text x="590.6" y="241.5" font-size="20.9" text-anchor="start" font-weight="normal" font-style="normal" fill="#000" >Other FB</text>
<text x="699.1" y="228.4" font-size="21.1" text-anchor="start" font-weight="normal" font-style="normal" fill="#000" >Pericytes</text>
<text x="619.2" y="278.7" font-size="20.3" text-anchor="start" font-weight="normal" font-style="normal" fill="#000" >Airway</text>
<text x="618.6" y="303.5" font-size="21.2" text-anchor="start" font-weight="normal" font-style="normal" fill="#000" >smooth muscle</text>
<text x="475.4" y="311.6" font-size="20.6" text-anchor="start" font-weight="normal" font-style="normal" fill="#000" >Alveolar</text>
<text x="475.2" y="336.4" font-size="20.7" text-anchor="start" font-weight="normal" font-style="normal" fill="#000" >FB</text>
<text x="554.3" y="333.7" font-size="20.9" text-anchor="start" font-weight="normal" font-style="normal" fill="#000" >Mesothelial FB</text>
<path d="M795.1,87.3 795,89.2 795,89.2 794.7,91.5 794.7,91.6 794.2,93.6 793.9,95.1 794,95.1 795.3,93.7 797.1,91.4 799,89.1 799.9,87.6 800,86.3 798.7,85 797.3,84.8 796.7,85.3 796.7,85.3 795.8,86.1 795.1,87.3ZM736.4,112.5 735.7,113.3 734.5,116 733.7,119.8 733.4,123 733.8,125.8 735,128 736.9,129.1 739.6,129.8 741.8,130.1 744,129.4 746.7,128.4 748.9,127.5 750.7,125.7 751.5,123.9 752.4,121.5 753.3,119.1 753.3,119.1 754.3,116.8 754.3,116.8 755.2,114.9 755.2,114.8 755.2,114.8 756.6,112.9 757.3,111.5 757.3,111.4 757.3,111.4 757.3,111.4 757.3,111.4 757.4,111.4 757.4,111.3 757.4,111.3 757.5,111.3 759.8,110.6 762.2,109.8 762.2,109.8 765.2,109.2 765.2,109.2 767.9,108.7 770.8,108 773.5,107.4 774.8,106.6 775,105.4 773.9,104.4 772.1,104 769.7,104.3 767.3,104.7 765.5,105 765.5,105 765.5,105 765.4,105 765.4,105.1 764.8,105.2 764.8,105.2 761.1,105.8 757.6,106.8 756.5,109.6 756.4,109.6 756.4,109.6 756.4,109.6 756.4,109.7 756.4,109.7 756.3,109.7 756.3,109.7 756.3,109.7 756.3,109.7 756.2,109.7 756.2,109.7 756.2,109.7 756.2,109.7 756.1,109.7 756.1,109.7 756.1,109.7 756,109.7 756,109.7 754.4,108.7 752.6,109.4 750.2,110.9 750.2,110.9 747.2,112.7 747.2,112.7 744.8,113.9 744.8,114 744.7,114 742,114.7 742,114.7 741.9,114.7 741.9,114.7 741.9,114.7 741.8,114.7 741.8,114.7 738.9,113.7 738.9,113.7 737.5,113.1 737.5,113 737.5,113 737.5,113 737.4,113 737.4,113 737.4,112.9 737.4,112.9 737.4,112.9 737.4,112.9 737.4,112.8 737.4,112.8 737.4,112.8 737.4,112.7 737.4,112.7 737.4,112.7 737.4,112.6 737.4,112.6 737.4,112.6 737.4,112.6 737.5,112.6 737.5,112.5 737.5,112.5 737.5,112.5 737.6,112.5 737.6,112.5 737.6,112.5 737.7,112.5 737.7,112.5 741.9,112.9 746.9,110.9 752.4,108.3 756,105.8 756,105.8 756.1,105.8 756.1,105.7 756.1,105.7 760.2,104.7 760.2,104.7 760.3,104.7 765.3,104.5 765.3,104.5 767.5,103.8 768.3,101.4 767.7,99.7 766.7,97.6 766.6,97.6 766.6,97.6 766.6,97.5 766.1,94.3 766.1,94.3 765.8,88.1 765.8,88.1 765.8,84.8 765.4,83.7 765.4,83.7 765.4,83.6 765.4,83.6 765.4,83.6 765.4,83.5 765.4,83.5 765.4,83.5 765.4,83.5 765.4,83.4 765.9,82.7 766.2,81 766.2,81 766.2,80.9 766.2,80.9 766.2,80.9 767.4,78.8 767.4,78.8 767.5,78.8 767.5,78.8 767.5,78.8 767.5,78.7 767.6,78.7 769.5,77.7 769.5,77.7 769.6,77.7 771.7,77.2 773.9,76.5 776.2,75.5 776.2,75.5 776.2,75.5 778.5,75.1 780.7,74.1 780.8,74.1 780.8,74.1 780.8,74.1 780.8,74.1 780.9,74.1 780.9,74.1 780.9,74.1 781,74.1 781,74.1 782.9,75.1 783.7,74.7 783.9,73.5 783.3,72.5 782,71.3 780.2,69.9 778.4,68.5 776.6,67.3 776.6,67.3 773.9,65.4 771.7,64.5 769.5,64.1 767.3,64.3 766,64.9 765.5,68.1 765.5,68.1 765.1,70.9 765.1,71 764.2,74.3 764.1,74.3 764.1,74.3 764.1,74.4 762.1,77.7 761,79.7 760.2,83.2 761.7,83.8 761.7,83.8 761.8,83.8 761.8,83.8 761.8,83.9 761.8,83.9 761.8,83.9 761.9,83.9 761.9,84 761.9,84 761.9,84 761.9,84 761.9,84.1 761.9,84.1 761.9,84.1 761.9,84.2 761.9,84.2 761.9,84.2 761.8,84.2 761.8,84.3 761.8,84.3 761.8,84.3 761.8,84.3 761.7,84.3 761.7,84.4 761.7,84.4 759.4,85.1 759.4,85.1 759.3,85.1 759.3,85.1 757.1,85.1 757,85.1 757,85.1 757,85.1 756.9,85.1 754.7,84.1 753.1,83.9 752.5,84 752.5,84.1 752.4,84.1 752.4,84.1 752.4,84.1 752.3,84 752.3,84 752.3,84 752.3,84 752.2,84 752.2,84 752.2,84 752.2,83.9 752.2,83.9 752.2,83.9 752.1,83.9 752.1,83.8 752.1,83.8 752.1,83.8 752.1,83.7 752.1,83.7 752.1,83.7 752.1,83.7 752.1,83.6 752.8,82.1 753.2,79.4 753.3,75.6 753.1,71.8 753.1,71.8 753.2,68 753.2,68 753.2,68 753.7,65.7 753.7,63.8 753.4,63 751.8,61.6 751.7,61.6 751.7,61.6 750.7,60.2 748.7,59 746.1,58.7 743.9,59.3 741.7,61.1 740,63.4 739.4,66.1 739.5,69.9 740.9,73.6 742.7,78.3 744,81.1 744.1,81.2 744.9,83.4 746,84.2 746,84.2 746.1,84.2 746.1,84.2 746.1,84.3 746.1,84.3 746.1,84.3 746.1,84.3 746.1,84.4 746.2,84.4 746.2,84.4 746.2,84.5 746.1,84.5 746.1,84.5 746.1,84.6 746.1,84.6 746.1,84.6 746.1,84.6 746.1,84.6 746,84.7 746,84.7 746,84.7 744.7,85.3 743.8,87.6 743.8,87.7 743.8,87.7 742.5,89.8 741.6,94 741.6,94 740.7,98.7 740.7,98.7 739.9,100.8 739.9,100.8 739.1,102.8 738.1,105.9 737.1,109.2 736.7,112.2 736.7,112.3 736.7,112.3 736.7,112.3 736.7,112.3 736.6,112.4 736.6,112.4 736.6,112.4 736.6,112.4 736.6,112.4 736.5,112.5 736.5,112.5 736.5,112.5 736.4,112.5 736.4,112.5Z" fill="#A3124A" />
<path d="M759.1 76.2h0M759.7 76.7h0M756.4 75.4h0M755.4 71.7h0M755.4 80.7h0M761.6 67h0M761.2 77.2h0" stroke="#A3124A" stroke-width="0.9" stroke-linecap="round" fill="none"/>
<path d="M777.3 78.1h0M778.3 77.2h0M778.1 77.3h0M777.5 75.6h0M782.1 77.5h0M781.2 76.1h0M782.2 76.1h0M782.9 76.4h0M781.4 75.6h0M781.6 75.2h0M778.8 76.3h0M774.4 77.6h0M773.7 77.2h0M775.7 78.2h0" stroke="#A3124A" stroke-width="0.9" stroke-linecap="round" fill="none"/>
<path d="M755.1 63.5h0M755.2 62.8h0M753.6 64.5h0M755.5 64.6h0M757.1 63.8h0M759.7 66h0M763.9 65.7h0M761.7 66.4h0M755.5 65.1h0M754.7 65.2h0M753.4 62.6h0M759.5 65.9h0M754.7 63.4h0M761.3 66.5h0M758.5 65.3h0M753.4 64.3h0M761.7 66.2h0M761.7 65.1h0M762.4 66.2h0M756.9 65h0M763.8 66h0M757.7 65.6h0M759.8 64.6h0M753.5 64.8h0M758 65.8h0M753.5 65.4h0" stroke="#A3124A" stroke-width="0.9" stroke-linecap="round" fill="none"/>
<path d="M779.6 81.8h0M784.8 83.6h0M773 81.4h0M772.9 83.2h0M782 82.4h0M771.4 83.6h0M788.1 86h0M774.8 81.4h0M778.9 82.1h0M773.3 83.1h0M783.1 83.6h0M785 84.1h0M779 80.4h0M783.1 83.3h0M783.2 84.7h0M779.5 81.5h0M768.4 83.5h0M774.7 82.6h0M784.8 83.8h0M790.3 85.2h0M771.3 83.3h0M777.1 84.1h0M789.1 85.7h0M783.7 81.7h0M783.4 85.1h0M791.5 86.9h0M770.1 83.3h0M779.8 80.5h0M788.1 84.9h0M773.4 83.8h0M783.4 83.8h0M775.6 82.9h0M788.3 86.4h0M781.8 81.6h0M780.9 83.7h0M781.6 83.6h0M781 83.1h0M790.9 86.5h0M774.6 83.5h0M771.2 83.2h0M779.5 82.4h0M772.7 84.5h0M772.8 81.8h0M784.5 82.5h0M776.6 84.5h0M771.1 83.7h0M774.1 81.6h0M780.8 83.2h0M777.1 83.1h0M780.8 81.4h0M783.4 83.9h0M788.4 84.4h0M785.8 85.8h0M774.3 80.9h0M781.3 83.8h0M781.7 81.3h0M772.6 81.7h0M775.9 83.4h0M780.4 83.2h0M772.5 83.3h0M785.8 83h0M772.8 81.4h0M780.4 80.4h0M789.4 85.7h0M783.1 83h0M782.4 83.7h0M791.5 85.7h0M785.9 85.5h0M789.5 86.2h0M784.7 85.5h0M776.3 83.4h0M768.4 82.7h0M783.4 84.5h0M784 82.6h0M783.9 84.1h0M780.8 82.9h0M784.8 85.4h0M774.3 83h0M777.1 80.9h0M781.3 83.7h0M772 83.5h0M772.2 83.6h0M780.7 84.3h0M776.9 82.2h0M783.7 84.1h0M791.7 86.7h0M778.4 83.5h0M785.4 83.4h0M791.4 85.8h0M782.5 81.1h0M783 83.4h0M780.7 81.1h0M779 82h0M782 83.1h0M786.7 83.9h0" stroke="#A3124A" stroke-width="0.9" stroke-linecap="round" fill="none"/>
<path d="M773.7 110.1h0M780 113.2h0M776 110.9h0M772.4 108.9h0M784.3 116.4h0M774.9 112h0M784.3 117.6h0M772.4 113.7h0M775.7 114.7h0M788.1 110.3h0M773.2 109.2h0M772 112.2h0M779.9 115.6h0M784.1 117.3h0M779.3 115.2h0M788.1 109.9h0M786.1 113.8h0M786.7 115.9h0M779.4 114.4h0M772.2 110.1h0M769.1 110.6h0M780.7 117.4h0M774.6 112h0M788.1 108.9h0M779.9 118.1h0M776 115.7h0M787.1 111.5h0M773.6 111.8h0M786.6 116.1h0M778.1 114.5h0M775.7 114.1h0M770 109.7h0M786.2 113.6h0M776.1 111.9h0M776.4 113.8h0M771.7 109.8h0M786.3 112.7h0M788.2 110.2h0M779.1 113.5h0M784.8 116.1h0M776.6 114.3h0M775.3 113.5h0M770.1 109.4h0M779 115.6h0M787.8 112h0M775.6 111.3h0M783.6 116.3h0M780.5 114.2h0M775.7 110.7h0M773.1 112.4h0M782.7 114.8h0M776.2 112.6h0M772.1 110.8h0M770.9 109.5h0M781.6 114.1h0M784.6 115h0M786.4 116.6h0M780.3 117.4h0M783.9 117.3h0M770.5 110.5h0M782.5 116.8h0M777.1 115.9h0M780.3 117.3h0M770.5 111.8h0M774.6 111.2h0M772.2 113.2h0M783.2 117.8h0M782.5 115.6h0M776 113.7h0M787.4 112.6h0M773.9 113.4h0M777.5 111.7h0M773.9 112h0M789.7 104.2h0M778 115h0M780.1 113.4h0M775.7 113.6h0M779 116.5h0M788.9 106.4h0M777.5 115.4h0M785.2 115.6h0M773 111.1h0" stroke="#A3124A" stroke-width="0.9" stroke-linecap="round" fill="none"/>
<path d="M776.8 114.5h0M782.1 117.4h0M777.5 114.6h0M785.9 116.6h0M788 109.2h0M788.2 110.3h0M778.7 115.7h0M779.4 117.1h0M779.2 116.5h0M776.3 114.2h0M787.5 112.4h0M778.4 116.4h0M777.7 115.8h0M782 116.8h0M788 111.8h0M783.5 117.9h0M776.8 115.6h0M783.5 118.2h0M776 115.4h0M775.8 114.6h0M786.8 114.4h0M777.5 115.4h0M782.7 118.2h0M775.6 113.8h0M788.1 110.3h0M781.9 117h0M787.9 112.1h0M778.2 115.9h0M775.9 114.9h0M778.5 116.3h0M786.1 117h0M785.9 116.7h0M782.2 118.1h0M788 110.1h0M777.8 116h0M788.3 110h0M785.4 117.1h0M788.1 112.7h0M787.4 111.3h0M774.4 114.2h0M780.1 117h0M778.9 116.2h0M787.8 108.9h0M781.4 116.8h0M785.3 116.1h0M779.5 116.7h0M785.8 116.4h0M788.2 109.8h0M787.7 112.8h0M778.3 116.2h0M777.6 115.5h0M787.6 112h0" stroke="#A3124A" stroke-width="0.9" stroke-linecap="round" fill="none"/>
<path d="M768.7 109.9h0M771.8 111.4h0M770.6 108.9h0M772.7 111.4h0M772.6 111.6h0M775.9 113.2h0M771.3 111.1h0M775.1 112.8h0M775.2 113.3h0M768.1 108.6h0M770.2 109.6h0M772.7 112.3h0M768.7 108.2h0M768.2 108.1h0M770.4 108.7h0M769.9 110.2h0M770.9 110.6h0M771 109.3h0M771 109.7h0M774.8 113.4h0M772.6 111.2h0M771.4 109.9h0M771.4 109.6h0M773.4 111.6h0M770.8 112h0M769 109.9h0M772.9 112.6h0M773.9 112.8h0M772.1 111.1h0M769.8 110.9h0M768.2 107.9h0M769 110.5h0M772.3 110.6h0M770.8 111.7h0M774 112.4h0" stroke="#A3124A" stroke-width="0.9" stroke-linecap="round" fill="none"/>
<path d="M792.2 92.1h0M791.9 90.9h0M792 89.3h0M792.7 91.7h0M793.3 95.9h0M792.9 89.7h0M794 89.3h0M792.9 91.1h0M793.2 90.3h0M793.1 91.3h0M791.9 92.1h0M793.4 90.8h0M792.9 89.9h0M793.2 89h0M794 91.7h0M791.8 90.8h0M794.7 86.7h0M792.9 92.8h0M792.9 89.7h0" stroke="#A3124A" stroke-width="0.9" stroke-linecap="round" fill="none"/>
<path d="M777.5 131.4h0M777 130.9h0M777.3 132.2h0M776.5 128.9h0M776.9 129.8h0M776.9 131.9h0M777 132.5h0M777.7 130.6h0M777.8 130.3h0" stroke="#A3124A" stroke-width="0.9" stroke-linecap="round" fill="none"/>
<path d="M780.5 74.5h0M753.3 120.2h0M749.3 58.7h0M741.1 93.2h0M757.7 111.4h0M773 108.2h0M768.1 100.3h0M752.9 81.7h0M753.3 70.8h0M740.5 96.4h0M743.1 81.7h0M746.7 58.6h0M754 83.7h0M765.5 104.9h0M739.6 130.2h0M756.5 113.6h0M747.9 110.6h0M775.3 106.2h0M747.5 58.8h0M734.3 116.5h0M781.7 71h0M739.8 130.1h0M743.2 59.8h0M774.2 107.9h0M779.1 68.4h0M742.3 88.7h0M746.8 58h0M760.2 105.4h0M740.3 62.9h0M738.4 68h0M748 111h0M749 111.6h0M766.1 85.3h0M766.3 82.7h0M769.1 100.2h0M742 113.2h0M763.9 105h0M746.5 111.5h0M736.2 111.5h0M733.4 121.7h0M774.7 104.7h0M794.4 86.7h0M751.9 123.3h0M756.3 114.5h0M766.3 88.4h0M753.8 118.7h0M780.8 74.5h0M782.5 75.4h0M746.2 58.4h0M733.9 117.2h0M741.8 113.3h0M746.9 111.7h0M773.8 77.3h0M738.4 130.7h0M765.3 65.3h0M796.2 93.1h0M737.9 105.2h0M797.7 90.8h0M782.9 76h0M775.8 66h0M733.3 122.7h0M741.8 76.3h0M797.6 91.9h0M751.9 124h0M748.9 128h0M755.2 84.1h0M753.1 70.7h0M733.9 118.2h0M739.8 113.9h0M760.4 105.7h0M749.5 128h0M743.9 81h0M757.2 111.8h0M746.2 58.3h0M768.3 79.8h0M733.6 125.4h0M755.5 107.6h0M768.9 64h0M756.5 113.2h0M738.3 103h0M737.7 104.8h0M733.4 123.6h0M766.4 94.8h0M744.7 83.5h0M783.5 72.5h0M770.6 108.5h0M766.8 104.5h0M766.3 87.7h0M750.7 125.7h0M793.9 92.9h0M766.1 92h0M777.1 67.2h0M767.3 79.6h0M732.9 121.4h0M756.4 84.2h0M753.8 78.9h0M744.3 112.5h0M741.3 77.4h0M771.1 108h0M742.6 88h0M739.9 100.5h0M750.7 126.2h0M735.1 129h0M739.7 72.5h0M743.4 88.1h0M754.2 81.2h0M753.9 108.6h0M734.6 115.8h0M769.7 103.7h0M746.5 58.6h0M780.4 69.4h0M766.4 84.6h0M754.9 115.7h0M735 113.7h0M741.1 130.4h0M796.1 92.8h0M767.4 80.1h0M794.1 90.3h0M796.3 84.5h0M759.8 84.5h0M795.7 86.2h0M768.2 78.5h0M742.2 78.8h0M777.8 75.6h0M766.1 93.3h0M771 108.8h0M794.4 91.2h0M743.6 85.7h0M766.3 90.7h0M749.7 127.2h0M769.8 78.1h0M740.8 130.8h0M736.2 112.6h0M734.8 115.3h0M744.6 85.1h0M796.7 85.1h0M758.1 84.5h0M767.7 99h0M766 83.3h0M740.2 98h0M755.4 106.9h0M747.2 128.7h0M761.3 105.3h0M745.4 84.8h0M742.8 79.7h0M766.4 82h0M753.6 80.8h0M759.9 105.4h0M742.5 59.7h0M765.2 69.8h0M753.7 62.7h0M733.7 117.1h0M757.9 112.8h0M798.1 84.6h0M745.2 84.8h0M741.7 61h0M765.9 88.7h0M753.9 83.8h0M739.5 113h0M741 61.8h0M740.2 73.3h0M753.1 83.1h0M740.7 96.9h0M761.9 104.8h0M796.7 84h0M736.3 109.5h0M756 84.6h0M755.7 83.7h0M733.5 118.1h0M784.7 75.4h0M741.2 95.1h0M742.2 90.2h0M744.3 82.4h0M761.7 76.9h0M753.6 62.6h0M764.4 109.6h0M732.5 121.3h0M793.9 95.6h0M741.9 78.1h0M760.4 82.4h0M752.4 122h0M770.4 63.9h0M755.2 106.5h0M800.3 84.6h0M739.2 112.9h0M764.7 69.5h0M760.5 83.3h0M744.9 84.1h0M737.2 129.3h0M741 112.9h0M757.5 106.4h0M740.9 75.7h0M758.3 106.5h0M749.6 59.1h0M769 109h0M761.8 84.2h0M768.2 100.4h0M779.3 75.3h0M739.4 68.9h0M753.2 62.6h0M741.6 75.4h0M741.3 94.6h0M768.8 63.8h0M760.1 80.6h0M764.2 70.8h0M774.2 76.7h0M740.8 74.9h0M732.9 125.3h0M795.4 94.1h0M773.2 104.1h0M784 73h0M783.2 72.1h0M736.1 110.3h0M768.6 101.3h0M757.8 84.1h0M744 113.9h0M757.2 112.6h0M771.2 77.5h0M735.1 113.6h0M742 77.1h0M739.7 130.7h0M753.3 76.3h0M798.5 91.4h0M778.9 67.7h0M739.1 66.3h0M740.5 94.4h0M739.2 130.9h0M768 103.4h0M743.1 113.1h0M760.6 80.8h0M752 122.6h0M733.3 121.6h0M766.8 96.9h0M765.2 109.4h0M772.9 107.9h0M733.1 119.4h0M733.8 126.6h0M776.3 76.4h0M753.6 78.8h0M734.6 115.8h0M749.2 127.5h0M768.6 100.7h0M773.1 107.9h0M743.7 59.4h0M740.7 113.8h0M743.4 59.6h0M738.6 68.6h0M738.2 129.5h0M759.7 83.1h0M797.2 84.4h0M760.1 81h0M753.7 80.3h0M760.3 105.1h0M795.5 95.3h0M739.4 101.6h0M768.6 79.3h0M755.6 114.4h0M756.2 113.7h0M754.3 75.8h0M769.9 109.2h0M778 67.1h0M783.9 73.8h0M741.7 91.2h0M748.9 128.7h0M784.3 73.1h0M794 90.5h0M743.9 86.1h0M753.7 78.8h0M776.3 75.7h0M732.6 123.7h0M773.8 107.5h0M760.6 79.8h0M768 79.4h0M738.7 68.6h0M767 97.4h0M753.4 76.7h0M754.5 118.3h0M782.5 75.3h0M766.1 91.5h0M760.6 83.8h0M745 83.8h0M763.8 105.2h0M772.1 103.5h0M745 84.9h0M753.7 80h0M736.3 108.9h0M756.9 107.3h0M751.5 124.9h0M733.7 119.4h0M766.5 86h0M751.9 61.5h0M752.5 61.9h0M754.2 63.4h0M744.4 112.2h0M739.8 100.8h0M766.7 96.3h0M766.2 63.4h0M739 68.7h0M797.3 84h0M768.8 109.6h0M782.5 70.7h0M782.5 70.4h0M761.6 77.6h0M766.7 96.1h0M753.8 80.8h0M733.6 117.4h0M734 116.3h0M754 118.8h0M792.8 95.9h0M749.4 110.9h0M765 110h0M767 96.7h0M765.6 65.2h0M795.7 93.3h0M744.6 83.4h0M772.2 77.4h0M741.9 91.2h0M737 109.1h0M784.1 75.1h0M742.6 130.7h0M737.9 113.1h0M799.1 90.5h0M754.4 107.2h0M741.4 130.3h0M766.2 92.8h0M753.9 66.5h0M765.3 104.6h0M779.3 75.5h0M739.7 98.5h0M769 108.6h0M737.9 104.3h0M766.1 91.3h0M766.2 89.8h0M743.1 79.7h0M757.3 106.8h0M742 130h0M753.4 119.3h0M764 104.7h0M765.6 84h0M734.3 129h0M762.7 104.7h0M741.7 92.9h0M739.1 113.3h0M772.5 77.6h0M733.3 125.8h0M750.8 59.8h0M739.4 71.4h0M745 111.7h0M800.7 87.1h0M747.9 58.8h0M769.2 101.6h0M741.4 90.1h0M743.3 82.1h0M764.8 67.7h0M770.7 78.2h0M753.6 66.9h0M738.7 67.1h0M738.1 113.2h0M783.8 75.4h0M753 81.9h0M753.1 71.3h0M766.4 64.6h0M753.4 119.7h0M748.5 127.9h0M764.6 71h0M796.2 92.6h0M758.8 111.8h0M741.8 91.3h0M739.8 100.1h0M753.9 119.8h0M760.8 110.4h0M734.6 114.1h0M758.6 111.2h0M743.2 87.3h0M770.1 64h0M739.8 72.8h0M736.2 128.8h0M739.1 112.7h0M733.8 115.4h0M754.8 117.3h0M741.6 114.6h0M767.1 96.3h0" stroke="#A3124A" stroke-width="0.9" stroke-linecap="round" fill="none"/>
<path d="M742.5 102.7h0M739.3 117.5h0M742.1 99.3h0M747.9 87.2h0M751.5 69.1h0M746.4 91.4h0M746.4 105.4h0M762.1 84.7h0M771.7 72.3h0M766 108.3h0M748.2 117.8h0M743.5 98.3h0M742.8 105.9h0M743.2 126h0M747.3 119.3h0M744.8 60.7h0M744.8 66.8h0M744 104.6h0M744 77.7h0M748.7 117.2h0M751.4 81.4h0M754.2 99.4h0M762.4 96.1h0M748.4 121.6h0M751.7 98.3h0M747 68h0M773.7 75.2h0M763.5 81.4h0M747.8 89.6h0M755.2 111.2h0M742.8 61.1h0M753.3 114.7h0M755.2 99h0M743.4 63.9h0M743.8 104.7h0M762.5 79.6h0M749.8 119.2h0M755 101.8h0M752.4 86h0M754.7 98.1h0M764.3 81.1h0M741.5 71.1h0M749.3 68.9h0M796.1 88.9h0M758.6 95.2h0M742.2 121.7h0M777.6 69h0M742 62.5h0M766.1 74.8h0M750.3 81.9h0M753.8 84.6h0M737.3 117.6h0M735 122.1h0M739.4 105.5h0M748.9 115.7h0M749.1 70.5h0M735.2 125.3h0M781 72.6h0M779.2 73.4h0M770.4 75.8h0M740.5 107.4h0M746.8 87.1h0M755.1 101.4h0M761.4 87.6h0M741.7 123.2h0M773.1 74.2h0M762.7 97.5h0M751.2 89.4h0M741.5 67.7h0M747.3 126.1h0M760.1 102.8h0M772.3 72.5h0M736 124.1h0M763.5 86h0M762 96.9h0M776.8 70h0M774.9 73h0M738.1 113.9h0M762.5 96.1h0M748.6 63.5h0M751.6 94.7h0M748.4 108.1h0M748.3 93.7h0M750.3 65.1h0M776.8 71.8h0M749.7 82.2h0M764.7 76.3h0M763.3 102.6h0M763 98.7h0M770.2 64.9h0M762.2 97.1h0M744.5 100.7h0M744.6 76.8h0M758 91.3h0M751.4 116.4h0M744.7 68.8h0M749.8 107.8h0M745.1 119.5h0M750.6 80.9h0M739.7 126.4h0M738.2 121.4h0M750.4 62.7h0M752.4 106.3h0M749.7 95.5h0M750.7 64.7h0M738.8 124.6h0M762.2 89.5h0M751 114h0M770 74.8h0M747.9 72.1h0M745.4 106.5h0M753.6 87.9h0M749.8 79.6h0M751.5 67.5h0M761 82.7h0M748.6 118.6h0M736.8 118.3h0M745.4 63.8h0M744.7 74.6h0M751.5 110.9h0M774.1 74.7h0M742.5 106.7h0M744.4 60.4h0M747.6 92h0M752.8 93.2h0M760.9 82.7h0M749.6 78.2h0M763.1 89h0M734.9 118.8h0M762.9 107.8h0M767.1 100.4h0M748.2 117.2h0M764.4 81.4h0M753.2 106.6h0M757.8 110.4h0M774.7 70.1h0M740.1 126.8h0M738.4 125.3h0M746.6 86.8h0M759.3 102.6h0M773.3 72.6h0M775.7 71.3h0M746.1 108.3h0M758.3 100.4h0M772.8 106.8h0M759 89.7h0M754.5 102.8h0M738 117.5h0M760.5 106.9h0M747.6 114.6h0M771.3 75.1h0M746.2 126.7h0M750 86.8h0M748.6 102.1h0M744.2 92.1h0M747.9 103.6h0M758.6 90.3h0M753.4 93.5h0M743.5 128.5h0M742.8 115.8h0M753.6 94.3h0M758.8 90.4h0M758.1 91.8h0M751.3 85.3h0M747.2 114.6h0M745.6 65h0M746.5 72.7h0M765.7 72.4h0M736.7 120.9h0M771.7 69.1h0M742.8 105.9h0M774.8 72.9h0M766.1 71.7h0M746.8 72.4h0M766.7 100.2h0M740.4 70.2h0M770.1 71.4h0M743.9 74.6h0M747.7 103.7h0M747.4 122.2h0M742.3 71.8h0M746.1 114.8h0M798.8 87.8h0M765.6 75.3h0M759.1 102.3h0M763.3 78.8h0M753 118.4h0M746.7 97.5h0M736.4 122.5h0M749.5 98.9h0M747.4 80.1h0M746.1 103.7h0M753.6 115.1h0M745.2 86.1h0M744.7 120.3h0M742 70.9h0" stroke="#fff" stroke-width="0.7" stroke-linecap="round" fill="none" stroke-opacity="0.9"/>
<path d="M741.3 71.5h0M741.6 72.5h0M740.4 66h0M741.2 63.8h0M741.4 61.7h0M740.2 63.6h0M741.6 65.5h0M740.5 64.5h0M741.2 63.2h0M740.2 64.9h0M741.5 67h0M740.3 65.3h0M741.7 62.9h0M741.9 63.8h0M741 63.5h0M740.7 63.5h0M741 73.3h0M740.4 70.1h0M741.3 71.6h0M740.4 67.5h0M740.5 66.5h0M739.3 65.2h0M740.8 68.5h0M740.8 69.4h0M740.5 63h0M740.4 64.1h0M741 68.6h0M741.2 72.2h0M741.4 75.1h0M742.2 63.3h0M740.6 68.3h0M739.5 65h0M741.1 65.3h0M740.4 64.4h0M740.2 67h0M741.5 62.3h0M740.8 65.9h0M740.9 72h0M741.4 65.2h0M740.8 69.6h0M741.9 64.3h0M741 72.1h0M741.2 62.1h0M740.6 64.9h0M741.7 64h0M740.8 72.6h0M740.9 70.7h0M740.8 74.7h0" stroke="#17708A" stroke-width="1.0" stroke-linecap="round" fill="none"/>
<path d="M734.9 126.2h0M739.1 129.5h0M736.5 126.8h0M734.4 123.5h0M738.8 130.2h0M734.4 123.3h0M743.1 129.6h0M734.1 127.8h0M734.1 125.8h0M738.5 129.9h0M733.6 127.4h0M734.6 125.8h0M734.7 127.4h0M736.9 128.2h0M732.9 121.5h0M737.8 127.4h0M741.7 129.3h0M736.6 127.8h0M736.1 127.8h0M736.6 127.3h0M736.7 127.4h0M738.3 129.2h0M735.6 125.4h0M734.6 124.1h0M733.3 123.5h0M733.3 121.1h0M735.8 128.6h0M738.9 129.1h0M737.5 130h0M738.8 130.1h0M734.5 124.9h0M733.9 124.5h0M734.8 128.3h0M733.3 125.5h0M734.8 124.6h0M736.5 129.1h0M737.2 126.8h0M733.5 123.6h0M732.9 120.9h0M734 124.6h0M738.6 128.1h0M741.8 129.9h0M735.7 128.9h0M735.9 127.9h0M733.6 125.4h0M741.6 129.5h0M744.3 129.3h0M735 126.6h0M738.9 129.7h0M734.7 127.4h0M737.8 127.3h0M741.8 130.5h0M739.5 129.4h0M735.4 126.1h0M736.6 126.7h0M737.8 128.3h0M736.7 126.6h0M740.9 129.4h0M733.3 124.4h0M733.8 125.5h0M735.7 128.1h0M735.4 125.2h0M734.4 123.3h0M738.8 130.5h0M740.7 130.2h0M743.3 129h0M736 126.1h0M734.2 124h0M737.7 129.8h0M737.9 129.2h0M733.6 126.8h0M741.1 129.5h0M733 123.8h0M736 127h0M735.2 128.2h0M741.1 129.8h0M734.8 126.8h0M735.1 124.5h0M733.4 124h0M734.4 126h0M743.2 129.8h0M735.1 125.4h0M736.8 128.8h0M734.7 126.5h0M735.1 128.4h0" stroke="#17708A" stroke-width="1.0" stroke-linecap="round" fill="none"/>
<path d="M753.9 68.6h0M753.6 77.8h0M754.7 76h0M753.6 67.8h0M754.4 72h0M753.5 75.9h0M753.7 77.6h0M753.8 76.5h0M753.6 71.3h0M753.7 78.2h0M753.8 68.4h0M754.5 72.1h0M753.6 81h0M754.2 70.6h0M754.4 79.1h0M753.6 74.6h0M753.6 78.6h0M754.3 79.2h0M753.8 72h0M754 78.9h0M754 72.7h0M754.2 80.1h0M753.7 67.7h0M753.6 68.3h0M754.3 79.9h0M754.2 71.3h0" stroke="#17708A" stroke-width="1.0" stroke-linecap="round" fill="none"/>
<path d="M744.4 74h0M752.6 69h0M749.4 73.8h0M744.9 76.9h0M749.8 70.9h0M749.2 75.9h0M751.3 80.5h0M751.6 73h0M742.3 73.4h0M744.5 71.1h0M743.1 72.1h0M743.1 80.7h0M753.7 76.1h0M746.8 73.3h0M744.6 75h0M740.2 75.8h0M745.6 69.1h0M749.7 76.1h0M750.7 75.7h0M747.6 83.1h0" stroke="#17708A" stroke-width="1.0" stroke-linecap="round" fill="none"/>
<path d="M751 115.5h0M749.2 123h0M755.3 109.5h0M744.4 124.6h0M737.5 127.1h0M754.4 118h0M744.4 113.5h0M738.4 120h0M749.8 121.2h0M750.4 124.5h0M750.1 119.1h0M745.6 116.8h0M738.8 113.4h0M752 110.6h0M737.2 126h0M752.3 110h0M747.5 119h0M742.5 119.5h0M746.4 125.5h0M745.8 125.1h0M750.7 119.8h0M736.8 122.3h0M739.5 122.4h0M750.3 110.4h0M751.1 118.6h0M751.6 121.1h0M738.6 124.9h0M738.2 120.9h0M743.9 122.1h0M741.6 111.8h0M740.3 124.9h0M743.1 115.3h0M740.3 111.5h0M740.4 117.7h0M752.2 114.2h0M737.2 114.1h0M751.4 124.1h0M737 114.4h0M739.9 126.6h0M754.2 109.4h0M736.6 126.2h0M743.8 112.2h0M752.7 114.4h0M746.3 119.1h0M752 111.2h0M738.6 122.4h0M743.3 120.5h0M753.5 121.4h0M745.5 116.3h0M742.1 113.3h0M737.7 115.2h0M737.1 125.3h0M745.6 121.4h0M750.2 114.3h0M750.2 113.5h0M743.6 124.2h0M738.7 124.7h0M750.2 115h0M753.3 120.7h0M736.5 126.3h0M753.4 121.8h0M737.6 122h0M738.1 124.1h0M740.6 118.6h0M752.8 110.6h0M737.1 115.3h0M737.3 121.5h0M745.3 117.6h0M755.3 112.1h0M750.7 112.2h0M749 118.7h0M747.4 117.3h0M738.6 124.1h0M749.8 122.9h0M736.1 112.1h0M737.6 125.2h0M745.9 114.7h0M737.1 115.2h0M742.6 116.9h0M747.5 111.5h0M743.5 118h0M736.6 124h0M735.6 117.1h0M754.1 116.8h0M741.4 118.3h0M748.9 113.5h0M755.1 109.6h0M737.8 119.3h0M745.4 123.8h0M740 121h0M744 113.4h0M748.2 124.5h0" stroke="#17708A" stroke-width="1.0" stroke-linecap="round" fill="none"/>
<path d="M768.3 101.5h0M767.8 101.2h0M767.1 99.9h0M767.5 102.7h0M766.8 100.8h0M767 102.5h0M767.2 99.1h0M765.9 101h0M766.3 101.6h0M766 102h0M766.5 99.8h0M767.6 101.2h0" stroke="#17708A" stroke-width="1.0" stroke-linecap="round" fill="none"/>
<path d="M781 116.6h0M777.9 116.8h0M779.3 117h0M780.6 116.3h0M778.2 115.2h0M783.3 118h0M777.5 116h0M780.4 117.7h0M778.1 115.9h0M781 116.6h0M777.4 116.2h0M782.4 117.3h0M778.7 117h0" stroke="#17708A" stroke-width="1.0" stroke-linecap="round" fill="none"/>
<path d="M796.6 85.8h0M799.4 86.8h0M797.9 88.1h0M797.6 86.1h0M796.1 86.7h0M798.1 88.6h0M797.6 87.8h0M797.7 88.4h0M800.1 86.5h0M796.3 86.2h0M795.9 87.3h0M798.7 88h0" stroke="#17708A" stroke-width="1.0" stroke-linecap="round" fill="none"/>
<path d="M767.7 76.9h0M770.5 77h0M778.6 76.9h0M777.5 78.9h0M775.9 77.2h0M778.2 77h0M773.4 78.7h0M774 78.3h0M777.4 76.1h0M769.5 80h0M769.1 77.7h0M771.5 77.4h0M779.4 75.9h0M773.9 76.6h0" stroke="#17708A" stroke-width="1.0" stroke-linecap="round" fill="none"/>
<rect x="722" y="52" width="87" height="85.7" fill="none" stroke="#111" stroke-width="2"/>
<circle cx="727.4" cy="15" r="6.8" fill="#0B7385"/>
<circle cx="727.4" cy="35.2" r="6.8" fill="#AD0E45"/>
<text x="739.4" y="19.1" font-size="21.5" text-anchor="start" font-weight="normal" font-style="normal" fill="#000" >Control</text>
<text x="739.8" y="40" font-size="20.7" text-anchor="start" font-weight="normal" font-style="normal" fill="#000" >COVID-19</text>
<text x="853" y="27" font-size="32" text-anchor="start" font-weight="bold" font-style="normal" fill="#000" stroke="#000" stroke-width="2" stroke-linejoin="round" transform="translate(853 0) scale(1.1 1) translate(-853 0)">c</text>
<text x="1028" y="15.9" font-size="22.2" text-anchor="end" font-weight="normal" font-style="normal" fill="#000" ><tspan font-style="italic">P</tspan><tspan dy="2"> =</tspan><tspan dy="-2"> 0.022</tspan></text>
<line x1="937.9" y1="35" x2="937.9" y2="354.2" stroke="#000" stroke-width="2" />
<line x1="936.9" y1="353" x2="1018.2" y2="353" stroke="#000" stroke-width="2.2" />
<line x1="934" y1="95.9" x2="937" y2="95.9" stroke="#000" stroke-width="1.8" />
<text x="929" y="103" font-size="22" text-anchor="end" font-weight="normal" font-style="normal" fill="#000" >0.75</text>
<line x1="934" y1="183.1" x2="937" y2="183.1" stroke="#000" stroke-width="1.8" />
<text x="929" y="187.4" font-size="22" text-anchor="end" font-weight="normal" font-style="normal" fill="#000" >0.50</text>
<line x1="934" y1="270.9" x2="937" y2="270.9" stroke="#000" stroke-width="1.8" />
<text x="929" y="276.6" font-size="22" text-anchor="end" font-weight="normal" font-style="normal" fill="#000" >0.25</text>
<line x1="934" y1="349" x2="937" y2="349" stroke="#000" stroke-width="1.8" />
<text x="929" y="355.1" font-size="22" text-anchor="end" font-weight="normal" font-style="normal" fill="#000" >0</text>
<rect x="952.5" y="220.3" width="23.2" height="101.9" fill="none" stroke="#0B7385" stroke-width="3"/>
<line x1="952.5" y1="278.6" x2="975.7" y2="278.6" stroke="#0B7385" stroke-width="3" />
<line x1="964.3" y1="205.2" x2="964.3" y2="220.3" stroke="#0B7385" stroke-width="3" />
<line x1="964.3" y1="322.2" x2="964.3" y2="340" stroke="#0B7385" stroke-width="3" />
<rect x="979.4" y="101.7" width="23.3" height="115.6" fill="none" stroke="#AD0E45" stroke-width="3"/>
<line x1="979.4" y1="173" x2="1002.7" y2="173" stroke="#AD0E45" stroke-width="3" />
<line x1="990.9" y1="53.7" x2="990.9" y2="101.7" stroke="#AD0E45" stroke-width="3.3" />
<line x1="990.6" y1="217.3" x2="990.6" y2="267.4" stroke="#AD0E45" stroke-width="3.3" />
<circle cx="962.4" cy="49.7" r="2.6" fill="#0B7385"/>
<circle cx="970.2" cy="204.7" r="2.6" fill="#0B7385"/>
<circle cx="961.9" cy="235.8" r="2.6" fill="#0B7385"/>
<circle cx="969.9" cy="278.6" r="2.6" fill="#0B7385"/>
<circle cx="963.6" cy="320.3" r="2.6" fill="#0B7385"/>
<circle cx="969.9" cy="323.1" r="2.6" fill="#0B7385"/>
<circle cx="986.7" cy="53.3" r="2.6" fill="#AD0E45"/>
<circle cx="988.2" cy="59.8" r="2.6" fill="#AD0E45"/>
<circle cx="988.6" cy="62.6" r="2.6" fill="#AD0E45"/>
<circle cx="988.6" cy="65.4" r="2.6" fill="#AD0E45"/>
<circle cx="985.4" cy="78.8" r="2.6" fill="#AD0E45"/>
<circle cx="988.6" cy="98.8" r="2.6" fill="#AD0E45"/>
<circle cx="984.8" cy="104" r="2.6" fill="#AD0E45"/>
<circle cx="997.3" cy="123.8" r="2.6" fill="#AD0E45"/>
<circle cx="984.7" cy="133" r="2.6" fill="#AD0E45"/>
<circle cx="991.2" cy="138" r="2.6" fill="#AD0E45"/>
<circle cx="986.9" cy="169.2" r="2.6" fill="#AD0E45"/>
<circle cx="992.1" cy="175.7" r="2.6" fill="#AD0E45"/>
<circle cx="990.6" cy="188.7" r="2.6" fill="#AD0E45"/>
<circle cx="995.8" cy="190.9" r="2.6" fill="#AD0E45"/>
<circle cx="984.1" cy="201.5" r="2.6" fill="#AD0E45"/>
<circle cx="995.3" cy="215.8" r="2.6" fill="#AD0E45"/>
<circle cx="987.5" cy="221" r="2.6" fill="#AD0E45"/>
<circle cx="992.9" cy="228" r="2.6" fill="#AD0E45"/>
<circle cx="997.1" cy="236.8" r="2.6" fill="#AD0E45"/>
<circle cx="987.5" cy="240" r="2.6" fill="#AD0E45"/>
<circle cx="995.3" cy="267.4" r="2.6" fill="#AD0E45"/>
<text x="869" y="195.4" font-size="25.45" text-anchor="middle" font-weight="normal" font-style="normal" fill="#000" transform="rotate(-90 869 195.4)">Fraction among fibroblasts</text>
<text x="967.6" y="391.7" font-size="25.7" text-anchor="middle" font-weight="normal" font-style="normal" fill="#000" >Pathological</text>
<text x="971.2" y="421.4" font-size="25.6" text-anchor="middle" font-weight="normal" font-style="normal" fill="#000" >fibroblasts</text>
<circle cx="1038.7" cy="281.7" r="6.8" fill="#0B7385"/>
<circle cx="1038.7" cy="182.5" r="6.8" fill="#AD0E45"/>
<text x="1045.6" y="266.4" font-size="20" text-anchor="start" font-weight="normal" font-style="normal" fill="#000" transform="rotate(-90 1045.6 266.4)">Control</text>
<text x="1045.6" y="166.1" font-size="20" text-anchor="start" font-weight="normal" font-style="normal" fill="#000" transform="rotate(-90 1045.6 166.1)">COVID-19</text>
</svg>
</body></html>
